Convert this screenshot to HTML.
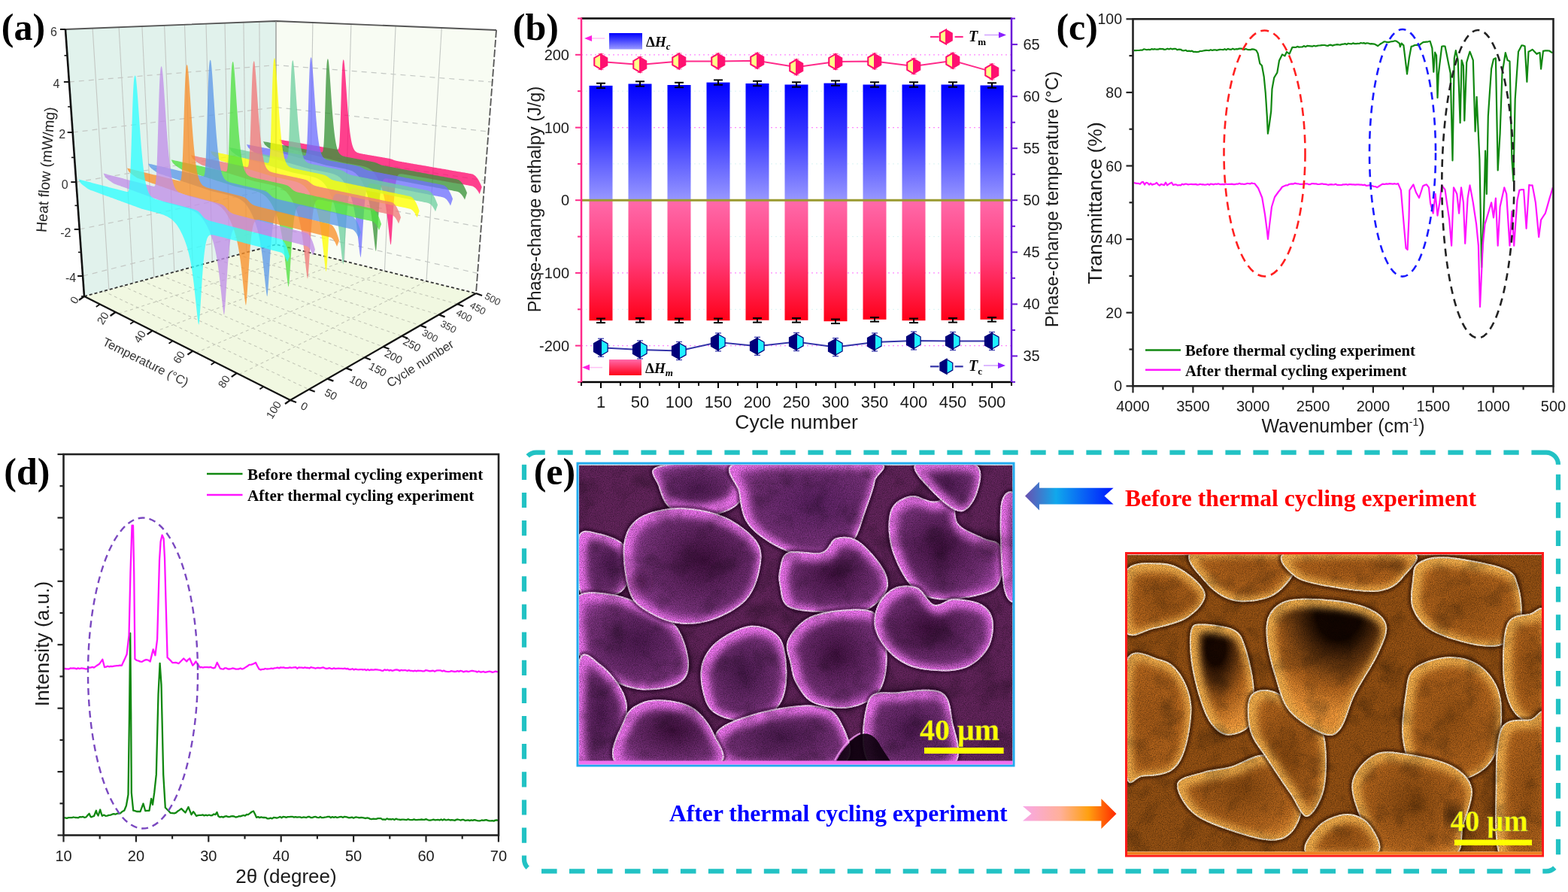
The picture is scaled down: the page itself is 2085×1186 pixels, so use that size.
<!DOCTYPE html>
<html><head><meta charset="utf-8"><title>Figure</title>
<style>
html,body{margin:0;padding:0;background:#fff;}
body{width:2085px;height:1186px;overflow:hidden;}
svg{display:block;}
.S{font-family:'Liberation Sans', Arial, sans-serif;}
.R{font-family:'Liberation Serif', 'Times New Roman', serif;}
</style></head>
<body>
<svg width="2085" height="1186" viewBox="0 0 2085 1186">
<defs>
<linearGradient id="gBlue" x1="0" y1="0" x2="0" y2="1">
<stop offset="0" stop-color="#0000ff"/><stop offset="0.45" stop-color="#3a3aff"/><stop offset="1" stop-color="#9898ff"/></linearGradient>
<linearGradient id="gRed" x1="0" y1="0" x2="0" y2="1">
<stop offset="0" stop-color="#ff6aaa"/><stop offset="0.5" stop-color="#ff3a78"/><stop offset="1" stop-color="#ff0018"/></linearGradient>
<linearGradient id="gBlueL" x1="0" y1="0" x2="0" y2="1">
<stop offset="0" stop-color="#0000ff"/><stop offset="1" stop-color="#9a9aff"/></linearGradient>
<linearGradient id="gRedL" x1="0" y1="0" x2="0" y2="1">
<stop offset="0" stop-color="#ff6aaa"/><stop offset="1" stop-color="#ff0018"/></linearGradient><filter id="blur5" x="-20%" y="-20%" width="140%" height="140%"><feGaussianBlur stdDeviation="5"/></filter>
<filter id="blur2" x="-20%" y="-20%" width="140%" height="140%"><feGaussianBlur stdDeviation="1.6"/></filter>
<filter id="blurE" x="-20%" y="-20%" width="140%" height="140%"><feGaussianBlur stdDeviation="0.7"/></filter>
<filter id="blur9" x="-30%" y="-30%" width="160%" height="160%"><feGaussianBlur stdDeviation="9"/></filter>
<filter id="mottleD" x="0" y="0" width="100%" height="100%"><feTurbulence type="fractalNoise" baseFrequency="0.03" numOctaves="3" seed="11"/><feColorMatrix type="matrix" values="0 0 0 0 0  0 0 0 0 0  0 0 0 0 0  2.2 0 0 0 -1.1"/></filter>
<filter id="mottleL" x="0" y="0" width="100%" height="100%"><feTurbulence type="fractalNoise" baseFrequency="0.03" numOctaves="3" seed="23"/><feColorMatrix type="matrix" values="0 0 0 0 1  0 0 0 0 1  0 0 0 0 1  -2.2 0 0 0 1.1"/></filter>
<filter id="grain" x="0" y="0" width="100%" height="100%"><feTurbulence type="fractalNoise" baseFrequency="0.9" numOctaves="2" seed="4" result="n"/><feColorMatrix in="n" type="matrix" values="0 0 0 0 0  0 0 0 0 0  0 0 0 0 0  0 0 0 -1.6 1.05"/></filter>
<linearGradient id="gArrL" x1="0" y1="0" x2="1" y2="0"><stop offset="0" stop-color="#6a50b0"/><stop offset="0.35" stop-color="#10a8ec"/><stop offset="1" stop-color="#0018ff"/></linearGradient>
<linearGradient id="gArrR" x1="0" y1="0" x2="1" y2="0"><stop offset="0" stop-color="#f8a8e8"/><stop offset="0.4" stop-color="#ffb09a"/><stop offset="0.7" stop-color="#ffa010"/><stop offset="1" stop-color="#ff2800"/></linearGradient><clipPath id="Pclip"><rect x="770" y="618.5" width="576.5" height="393.5"/></clipPath><clipPath id="Pb0"><path d="M875.4,620 C892.2,615.3 957.8,610.7 976.2,618.1 C994.5,625.6 990.5,653.6 985.5,664.8 C980.5,676 961.5,683.1 946.3,685.3 C931,687.5 905.8,684.4 894,677.9 C882.2,671.3 878.5,655.8 875.4,646.1 C872.2,636.5 858.6,624.7 875.4,620Z"/></clipPath><radialGradient id="Pg0" cx="0.5" cy="0.5" r="0.72"><stop offset="0" stop-color="#4e1a52"/><stop offset="0.0" stop-color="#4e1a52"/><stop offset="0.6" stop-color="#7c347f"/><stop offset="1" stop-color="#d85ce0"/></radialGradient><clipPath id="Pb1"><path d="M982.6,613.9 C1012.4,607 1131.6,609.5 1161.8,613.9 C1191.9,618.2 1165.5,628.8 1163.6,640 C1161.8,651.2 1155.2,668 1150.6,681.1 C1145.9,694.1 1142.5,709.7 1135.6,718.4 C1128.8,727.1 1119.4,729.6 1109.5,733.3 C1099.5,737.1 1089,742.1 1075.9,740.8 C1062.8,739.6 1044.8,733.3 1031.1,725.9 C1017.4,718.4 1001.8,707.8 993.8,696 C985.7,684.2 984.4,668.6 982.6,654.9 C980.7,641.3 952.7,620.7 982.6,613.9Z"/></clipPath><radialGradient id="Pg1" cx="0.55" cy="0.45" r="0.72"><stop offset="0" stop-color="#5e2266"/><stop offset="0.0" stop-color="#5e2266"/><stop offset="0.6" stop-color="#7c347f"/><stop offset="1" stop-color="#d85ce0"/></radialGradient><clipPath id="Pb2"><path d="M769.5,712.8 C773.9,701 785.7,707.2 795.7,709 C805.6,710.9 822.1,715.9 829.3,724 C836.4,732.1 839.2,747 838.6,757.6 C838,768.2 834.5,781.2 825.5,787.4 C816.5,793.7 793.8,796.1 784.5,794.9 C775.1,793.7 772,793.7 769.5,780 C767,766.3 765.2,724.6 769.5,712.8Z"/></clipPath><radialGradient id="Pg2" cx="0.6" cy="0.5" r="0.72"><stop offset="0" stop-color="#4e1a52"/><stop offset="0.0" stop-color="#4e1a52"/><stop offset="0.6" stop-color="#7c347f"/><stop offset="1" stop-color="#d85ce0"/></radialGradient><clipPath id="Pb3"><path d="M766.7,794 C774.8,783.4 799.1,787.8 815.3,790.3 C831.5,792.7 849.5,801.5 863.8,808.9 C878.1,816.4 892.4,822.6 901.1,835 C909.8,847.5 916.1,871.1 916.1,883.6 C916.1,896 911.7,904.1 901.1,909.7 C890.6,915.3 868.2,918.4 852.6,917.2 C837,915.9 820.9,909.1 807.8,902.2 C794.7,895.4 781.1,884.2 774.2,876.1 C767.4,868 768,867.4 766.7,853.7 C765.5,840 758.7,804.6 766.7,794Z"/></clipPath><radialGradient id="Pg3" cx="0.55" cy="0.5" r="0.72"><stop offset="0" stop-color="#4e1a52"/><stop offset="0.0" stop-color="#4e1a52"/><stop offset="0.6" stop-color="#7c347f"/><stop offset="1" stop-color="#d85ce0"/></radialGradient><clipPath id="Pb4"><path d="M769.4,880.1 C774.4,857.7 789.3,877 799.3,883.9 C809.2,890.7 823.6,908.8 829.2,921.2 C834.8,933.6 834.8,942.4 832.9,958.5 C831,974.7 828.5,1008.3 818,1018.3 C807.4,1028.2 777.5,1041.3 769.4,1018.3 C761.3,995.2 764.4,902.5 769.4,880.1Z"/></clipPath><radialGradient id="Pg4" cx="0.5" cy="0.5" r="0.72"><stop offset="0" stop-color="#4e1a52"/><stop offset="0.0" stop-color="#4e1a52"/><stop offset="0.6" stop-color="#7c347f"/><stop offset="1" stop-color="#d85ce0"/></radialGradient><clipPath id="Pb5"><path d="M933.9,880.3 C937.7,869.1 945.1,858.5 956.3,850.4 C967.5,842.3 987.4,831.7 1001.1,831.7 C1014.8,831.7 1031,838 1038.5,850.4 C1045.9,862.8 1047.2,890.8 1045.9,906.4 C1044.7,922 1040.3,935 1031,943.7 C1021.7,952.4 1003.6,958 989.9,958.7 C976.2,959.3 958.2,954.3 948.9,947.5 C939.5,940.6 936.4,928.8 933.9,917.6 C931.4,906.4 930.2,891.5 933.9,880.3Z"/></clipPath><radialGradient id="Pg5" cx="0.5" cy="0.5" r="0.72"><stop offset="0" stop-color="#4a1a4e"/><stop offset="0.0" stop-color="#4a1a4e"/><stop offset="0.6" stop-color="#7c347f"/><stop offset="1" stop-color="#d85ce0"/></radialGradient><clipPath id="Pb6"><path d="M974.4,1016 C946.4,1009.2 947,986.1 952,974.9 C957,963.7 983.1,955 1004.2,948.8 C1025.4,942.6 1060.2,936.4 1078.9,937.6 C1097.6,938.9 1109.4,943.2 1116.2,956.3 C1123.1,969.3 1143.6,1006.1 1120,1016 C1096.3,1026 1002.4,1022.9 974.4,1016Z"/></clipPath><radialGradient id="Pg6" cx="0.5" cy="0.5" r="0.72"><stop offset="0" stop-color="#4a1a4e"/><stop offset="0.0" stop-color="#4a1a4e"/><stop offset="0.6" stop-color="#7c347f"/><stop offset="1" stop-color="#d85ce0"/></radialGradient><clipPath id="Pb7"><path d="M822.4,1016.6 C801.8,1006.6 824.8,970.6 829.8,956.9 C834.8,943.2 842.9,938.8 852.2,934.5 C861.6,930.1 874,929.5 885.8,930.7 C897.6,932 912.6,934.5 923.2,941.9 C933.7,949.4 944.3,963.1 949.3,975.5 C954.3,988 974.2,1009.8 953,1016.6 C931.9,1023.4 842.9,1026.6 822.4,1016.6Z"/></clipPath><radialGradient id="Pg7" cx="0.55" cy="0.45" r="0.72"><stop offset="0" stop-color="#40103f"/><stop offset="0.0" stop-color="#40103f"/><stop offset="0.6" stop-color="#7c347f"/><stop offset="1" stop-color="#d85ce0"/></radialGradient><clipPath id="Pb8"><path d="M1036.8,756.5 C1038.6,749.1 1038.6,737.9 1048,734.2 C1057.3,730.4 1082.2,737.3 1092.8,734.2 C1103.3,731 1103.3,718 1111.4,715.5 C1119.5,713 1130.7,712.4 1141.3,719.2 C1151.9,726.1 1168.7,745.4 1174.9,756.5 C1181.1,767.7 1183,777.1 1178.6,786.4 C1174.3,795.7 1162.4,807.9 1148.7,812.5 C1135.1,817.2 1113.3,815.3 1096.5,814.4 C1079.7,813.5 1057.9,812.9 1048,806.9 C1038,801 1038.6,787.3 1036.8,778.9 C1034.9,770.5 1034.9,764 1036.8,756.5Z"/></clipPath><radialGradient id="Pg8" cx="0.5" cy="0.5" r="0.72"><stop offset="0" stop-color="#441244"/><stop offset="0.0" stop-color="#441244"/><stop offset="0.6" stop-color="#7c347f"/><stop offset="1" stop-color="#d85ce0"/></radialGradient><clipPath id="Pb9"><path d="M1047.1,852.2 C1050.8,842.2 1061.4,829.1 1073.2,822.3 C1085,815.4 1103.1,812.3 1118,811.1 C1132.9,809.8 1152.8,808 1162.8,814.8 C1172.8,821.7 1175.2,838.5 1177.7,852.2 C1180.2,865.8 1180.2,884.5 1177.7,897 C1175.2,909.4 1171.5,919.4 1162.8,926.8 C1154.1,934.3 1139.2,940.5 1125.5,941.7 C1111.8,943 1091.9,939.9 1080.7,934.3 C1069.5,928.7 1063.2,916.9 1058.3,908.2 C1053.3,899.4 1052.7,891.4 1050.8,882 C1048.9,872.7 1043.3,862.1 1047.1,852.2Z"/></clipPath><radialGradient id="Pg9" cx="0.5" cy="0.45" r="0.72"><stop offset="0" stop-color="#441244"/><stop offset="0.0" stop-color="#441244"/><stop offset="0.6" stop-color="#7c347f"/><stop offset="1" stop-color="#d85ce0"/></radialGradient><clipPath id="Pb10"><path d="M1154.5,931.3 C1160.8,915.1 1179.4,922 1195.6,920.1 C1211.8,918.2 1239.8,913.9 1251.6,920.1 C1263.4,926.3 1264,941.3 1266.5,957.4 C1269,973.6 1284.6,1007.2 1266.5,1017.2 C1248.5,1027.1 1176.9,1031.5 1158.3,1017.2 C1139.6,1002.9 1148.3,947.5 1154.5,931.3Z"/></clipPath><radialGradient id="Pg10" cx="0.5" cy="0.5" r="0.72"><stop offset="0" stop-color="#4e1a52"/><stop offset="0.0" stop-color="#4e1a52"/><stop offset="0.6" stop-color="#7c347f"/><stop offset="1" stop-color="#d85ce0"/></radialGradient><clipPath id="Pb11"><path d="M1184.7,677.8 C1189.1,666.6 1201.5,661 1210.9,659.2 C1220.2,657.3 1231.4,666 1240.7,666.6 C1250.1,667.3 1261.3,657.9 1266.9,662.9 C1272.5,667.9 1267.5,687.8 1274.3,696.5 C1281.2,705.2 1298.6,710.2 1307.9,715.2 C1317.3,720.1 1326.6,717 1330.3,726.4 C1334.1,735.7 1334.1,760.6 1330.3,771.2 C1326.6,781.7 1321.6,785.5 1307.9,789.8 C1294.2,794.2 1264.4,799.2 1248.2,797.3 C1232,795.4 1221.4,790.5 1210.9,778.6 C1200.3,766.8 1189.1,743.2 1184.7,726.4 C1180.4,709.6 1180.4,689 1184.7,677.8Z"/></clipPath><radialGradient id="Pg11" cx="0.45" cy="0.5" r="0.72"><stop offset="0" stop-color="#441244"/><stop offset="0.0" stop-color="#441244"/><stop offset="0.6" stop-color="#7c347f"/><stop offset="1" stop-color="#d85ce0"/></radialGradient><clipPath id="Pb12"><path d="M1217.7,616.9 C1227,610.6 1282.4,610.6 1296.1,616.9 C1309.8,623.1 1302.9,643.6 1299.8,654.2 C1296.7,664.8 1287.4,680.3 1277.4,680.3 C1267.5,680.3 1250,664.8 1240.1,654.2 C1230.1,643.6 1208.3,623.1 1217.7,616.9Z"/></clipPath><radialGradient id="Pg12" cx="0.5" cy="0.5" r="0.72"><stop offset="0" stop-color="#4e1a52"/><stop offset="0.0" stop-color="#4e1a52"/><stop offset="0.6" stop-color="#7c347f"/><stop offset="1" stop-color="#d85ce0"/></radialGradient><clipPath id="Pb13"><path d="M1331,670 C1334.1,650.7 1349.7,646.4 1353.4,666.3 C1357.1,686.2 1356.5,770.2 1353.4,789.5 C1350.3,808.8 1338.5,801.9 1334.7,782 C1331,762.1 1327.9,689.3 1331,670Z"/></clipPath><radialGradient id="Pg13" cx="0.5" cy="0.5" r="0.72"><stop offset="0" stop-color="#4e1a52"/><stop offset="0.0" stop-color="#4e1a52"/><stop offset="0.6" stop-color="#7c347f"/><stop offset="1" stop-color="#d85ce0"/></radialGradient><clipPath id="Pb14"><path d="M1167.5,803.7 C1171.9,794.4 1181.2,785 1189.9,781.3 C1198.6,777.6 1211.1,777.6 1219.8,781.3 C1228.5,785 1234.1,801.2 1242.2,803.7 C1250.3,806.2 1257.7,796.2 1268.3,796.2 C1278.9,796.2 1296.9,798.7 1305.6,803.7 C1314.3,808.7 1319.3,816.1 1320.6,826.1 C1321.8,836.1 1319.9,852.9 1313.1,863.4 C1306.3,874 1294.4,885.2 1279.5,889.6 C1264.6,893.9 1239.1,892.7 1223.5,889.6 C1208,886.5 1196.1,879.6 1186.2,870.9 C1176.2,862.2 1166.9,848.5 1163.8,837.3 C1160.7,826.1 1163.2,813 1167.5,803.7Z"/></clipPath><radialGradient id="Pg14" cx="0.45" cy="0.5" r="0.72"><stop offset="0" stop-color="#40103f"/><stop offset="0.0" stop-color="#40103f"/><stop offset="0.6" stop-color="#7c347f"/><stop offset="1" stop-color="#d85ce0"/></radialGradient><clipPath id="Pb15"><path d="M829.3,723.8 C831.5,707.3 837.7,696.4 849.8,688.3 C862,680.2 883.4,675.5 902.1,675.2 C920.7,674.9 944.4,679 961.8,686.4 C979.2,693.9 998.5,708.2 1006.6,720 C1014.7,731.9 1012.8,744.3 1010.3,757.4 C1007.9,770.4 1002.3,787.2 991.7,798.4 C981.1,809.6 961.8,819.5 946.9,824.6 C931.9,829.7 916.4,830.9 902.1,829 C887.8,827.2 871.9,820.3 861,813.4 C850.1,806.4 842,802.2 836.8,787.2 C831.5,772.3 827.1,740.3 829.3,723.8Z"/></clipPath><radialGradient id="Pg15" cx="0.58" cy="0.45" r="0.72"><stop offset="0" stop-color="#40103f"/><stop offset="0.0" stop-color="#40103f"/><stop offset="0.6" stop-color="#7c347f"/><stop offset="1" stop-color="#d85ce0"/></radialGradient><clipPath id="Oclip"><rect x="1499" y="737.5" width="551.5" height="395"/></clipPath><clipPath id="Ob0"><path d="M1587.6,732.4 C1607.8,725.5 1702.3,727.4 1724.4,732.4 C1746.6,737.5 1726.3,752.7 1720.6,762.9 C1714.9,773 1703.5,787.2 1690.2,793.3 C1676.9,799.3 1655.4,802.1 1640.8,799 C1626.2,795.8 1611.6,785.3 1602.8,774.3 C1593.9,763.2 1567.3,739.4 1587.6,732.4Z"/></clipPath><radialGradient id="Og0" cx="0.5" cy="0.4" r="0.72"><stop offset="0" stop-color="#a85c18"/><stop offset="0.0" stop-color="#a85c18"/><stop offset="0.6" stop-color="#bc6a1e"/><stop offset="1" stop-color="#f89c3a"/></radialGradient><clipPath id="Ob1"><path d="M1714.5,732.9 C1739.8,727.2 1848.8,727.2 1874.2,732.9 C1899.5,738.6 1872.9,758.2 1866.6,767.1 C1860.2,776 1850.7,783.6 1836.1,786.1 C1821.6,788.6 1798.1,785.5 1779.1,782.3 C1760.1,779.1 1732.9,775.3 1722.1,767.1 C1711.3,758.8 1689.1,738.6 1714.5,732.9Z"/></clipPath><radialGradient id="Og1" cx="0.5" cy="0.4" r="0.72"><stop offset="0" stop-color="#a85c18"/><stop offset="0.0" stop-color="#a85c18"/><stop offset="0.6" stop-color="#bc6a1e"/><stop offset="1" stop-color="#f89c3a"/></radialGradient><clipPath id="Ob2"><path d="M1496.3,760 C1503.9,744.8 1528.6,748.6 1541.9,748.6 C1555.3,748.6 1566,753.1 1576.2,760 C1586.3,767 1602.2,780.3 1602.8,790.5 C1603.4,800.6 1591.4,813.3 1580,820.9 C1568.6,828.5 1548.3,832.9 1534.3,836.1 C1520.4,839.3 1502.7,852.6 1496.3,839.9 C1490,827.2 1488.7,775.3 1496.3,760Z"/></clipPath><radialGradient id="Og2" cx="0.5" cy="0.5" r="0.72"><stop offset="0" stop-color="#9a5414"/><stop offset="0.0" stop-color="#9a5414"/><stop offset="0.6" stop-color="#bc6a1e"/><stop offset="1" stop-color="#f89c3a"/></radialGradient><clipPath id="Ob3"><path d="M1583.7,837 C1586.3,828.8 1589.4,829.4 1598.9,829.4 C1608.4,829.4 1631.3,831.9 1640.8,837 C1650.3,842.1 1651.5,847.2 1656,859.8 C1660.4,872.5 1666.1,895.9 1667.4,913.1 C1668.7,930.2 1669.3,951.7 1663.6,962.5 C1657.9,973.3 1642,977.7 1633.2,977.7 C1624.3,977.7 1616.7,970.7 1610.3,962.5 C1604,954.2 1599.6,942.2 1595.1,928.3 C1590.7,914.3 1585.6,894 1583.7,878.8 C1581.8,863.6 1581.2,845.3 1583.7,837Z"/></clipPath><radialGradient id="Og3" cx="0.4" cy="0.22" r="0.72"><stop offset="0" stop-color="#1a0800"/><stop offset="0.2" stop-color="#1a0800"/><stop offset="0.7" stop-color="#bc6a1e"/><stop offset="1" stop-color="#f89c3a"/></radialGradient><clipPath id="Ob4"><path d="M1885.8,748.2 C1893.4,743.1 1904.9,739.3 1923.9,740.6 C1942.9,741.9 1984.1,749.5 1999.9,755.8 C2015.8,762.2 2015.1,767.2 2018.9,778.6 C2022.7,790 2025.3,811.6 2022.7,824.3 C2020.2,836.9 2013.2,849 2003.7,854.7 C1994.2,860.4 1982.2,861 1965.7,858.5 C1949.2,855.9 1919.4,847.7 1904.9,839.5 C1890.3,831.2 1882.7,820.5 1878.2,809 C1873.8,797.6 1877,781.2 1878.2,771 C1879.5,760.9 1878.2,753.3 1885.8,748.2Z"/></clipPath><radialGradient id="Og4" cx="0.5" cy="0.5" r="0.72"><stop offset="0" stop-color="#9a5414"/><stop offset="0.0" stop-color="#9a5414"/><stop offset="0.6" stop-color="#bc6a1e"/><stop offset="1" stop-color="#f89c3a"/></radialGradient><clipPath id="Ob5"><path d="M1496.7,880.4 C1504.3,855.1 1530.3,874.1 1542.3,876.6 C1554.4,879.2 1562,885.5 1569,895.6 C1575.9,905.8 1582.9,921 1584.2,937.5 C1585.4,953.9 1581,979.9 1576.6,994.5 C1572.1,1009.1 1567.1,1018.6 1557.6,1024.9 C1548.1,1031.2 1529.7,1031.9 1519.5,1032.5 C1509.4,1033.1 1500.5,1054.1 1496.7,1028.7 C1492.9,1003.4 1489.1,905.8 1496.7,880.4Z"/></clipPath><radialGradient id="Og5" cx="0.4" cy="0.5" r="0.72"><stop offset="0" stop-color="#a85c18"/><stop offset="0.0" stop-color="#a85c18"/><stop offset="0.6" stop-color="#bc6a1e"/><stop offset="1" stop-color="#f89c3a"/></radialGradient><clipPath id="Ob6"><path d="M1880.2,888.4 C1889.7,880.2 1911.3,873.8 1925.8,873.2 C1940.4,872.6 1956.3,876.4 1967.7,884.6 C1979.1,892.8 1989.8,906.2 1994.3,922.6 C1998.7,939.1 1997.4,967 1994.3,983.5 C1991.1,999.9 1986,1012 1975.3,1021.5 C1964.5,1031 1944.8,1039.2 1929.6,1040.5 C1914.4,1041.8 1894.8,1038.6 1884,1029.1 C1873.2,1019.6 1867.5,1001.2 1865,983.5 C1862.5,965.7 1866.3,938.5 1868.8,922.6 C1871.3,906.8 1870.7,896.7 1880.2,888.4Z"/></clipPath><radialGradient id="Og6" cx="0.5" cy="0.5" r="0.72"><stop offset="0" stop-color="#9a5414"/><stop offset="0.0" stop-color="#9a5414"/><stop offset="0.6" stop-color="#bc6a1e"/><stop offset="1" stop-color="#f89c3a"/></radialGradient><clipPath id="Ob7"><path d="M1797.7,1040.9 C1800.2,1025 1815.4,1009.2 1828.1,1002.8 C1840.8,996.5 1856.6,1000.3 1873.7,1002.8 C1890.8,1005.4 1916.8,1010.4 1930.8,1018.1 C1944.7,1025.7 1954.8,1035.2 1957.4,1048.5 C1959.9,1061.8 1950.4,1082.7 1946,1097.9 C1941.5,1113.1 1949.1,1132.8 1930.8,1139.7 C1912.4,1146.7 1855.4,1146.7 1835.7,1139.7 C1816.1,1132.8 1819.2,1114.4 1812.9,1097.9 C1806.6,1081.4 1795.1,1056.7 1797.7,1040.9Z"/></clipPath><radialGradient id="Og7" cx="0.5" cy="0.45" r="0.72"><stop offset="0" stop-color="#8a4a10"/><stop offset="0.0" stop-color="#8a4a10"/><stop offset="0.6" stop-color="#bc6a1e"/><stop offset="1" stop-color="#f89c3a"/></radialGradient><clipPath id="Ob8"><path d="M1565.3,1041.6 C1567.8,1032.8 1587.5,1030.2 1599.5,1026.4 C1611.6,1022.6 1624.2,1022.6 1637.6,1018.8 C1650.9,1015 1666.7,1003 1679.4,1003.6 C1692.1,1004.3 1704.7,1013.1 1713.6,1022.6 C1722.5,1032.1 1731.3,1047.3 1732.6,1060.7 C1733.9,1074 1728.2,1093 1721.2,1102.5 C1714.2,1112 1706,1117.7 1690.8,1117.7 C1675.6,1117.7 1647.7,1108.8 1629.9,1102.5 C1612.2,1096.1 1595.1,1089.8 1584.3,1079.7 C1573.5,1069.5 1562.8,1050.5 1565.3,1041.6Z"/></clipPath><radialGradient id="Og8" cx="0.5" cy="0.4" r="0.72"><stop offset="0" stop-color="#8a4a10"/><stop offset="0.0" stop-color="#8a4a10"/><stop offset="0.6" stop-color="#bc6a1e"/><stop offset="1" stop-color="#f89c3a"/></radialGradient><clipPath id="Ob9"><path d="M2003.3,831.3 C2009,816.1 2024.9,818 2033.8,816.1 C2042.6,814.2 2052.8,797 2056.6,819.9 C2060.4,842.7 2062.9,930.8 2056.6,952.9 C2050.2,975.1 2028,960.5 2018.5,952.9 C2009,945.3 2002.1,927.6 1999.5,907.3 C1997,887 1997.6,846.5 2003.3,831.3Z"/></clipPath><radialGradient id="Og9" cx="0.6" cy="0.5" r="0.72"><stop offset="0" stop-color="#9a5414"/><stop offset="0.0" stop-color="#9a5414"/><stop offset="0.6" stop-color="#bc6a1e"/><stop offset="1" stop-color="#f89c3a"/></radialGradient><clipPath id="Ob10"><path d="M1996.4,967.8 C2004,953.2 2024.2,957.7 2034.4,956.4 C2044.5,955.1 2053.4,929.1 2057.2,960.2 C2061,991.2 2067.3,1112.3 2057.2,1142.7 C2047.1,1173.1 2007.8,1159.2 1996.4,1142.7 C1985,1126.2 1988.8,1073 1988.8,1043.8 C1988.8,1014.7 1988.8,982.4 1996.4,967.8Z"/></clipPath><radialGradient id="Og10" cx="0.6" cy="0.5" r="0.72"><stop offset="0" stop-color="#9a5414"/><stop offset="0.0" stop-color="#9a5414"/><stop offset="0.6" stop-color="#bc6a1e"/><stop offset="1" stop-color="#f89c3a"/></radialGradient><clipPath id="Ob11"><path d="M1738.5,1135.3 C1725.8,1129 1744.8,1106.2 1753.7,1097.3 C1762.5,1088.4 1780.3,1082.1 1791.7,1082.1 C1803.1,1082.1 1815.8,1088.4 1822.1,1097.3 C1828.4,1106.2 1843.6,1129 1829.7,1135.3 C1815.8,1141.7 1751.1,1141.7 1738.5,1135.3Z"/></clipPath><radialGradient id="Og11" cx="0.5" cy="0.5" r="0.72"><stop offset="0" stop-color="#9a5414"/><stop offset="0.0" stop-color="#9a5414"/><stop offset="0.6" stop-color="#bc6a1e"/><stop offset="1" stop-color="#f89c3a"/></radialGradient><clipPath id="Ob12"><path d="M1662.2,926.3 C1667.3,917.5 1680,914.9 1692.6,918.7 C1705.3,922.5 1726.9,939 1738.3,949.2 C1749.7,959.3 1757.3,963.1 1761.1,979.6 C1764.9,996 1764.9,1030.3 1761.1,1048 C1757.3,1065.8 1745.9,1084.8 1738.3,1086 C1730.7,1087.3 1724.3,1068.3 1715.5,1055.6 C1706.6,1042.9 1693.9,1023.9 1685,1010 C1676.2,996 1666,985.9 1662.2,972 C1658.4,958 1657.2,935.2 1662.2,926.3Z"/></clipPath><radialGradient id="Og12" cx="0.5" cy="0.5" r="0.72"><stop offset="0" stop-color="#8a4a10"/><stop offset="0.0" stop-color="#8a4a10"/><stop offset="0.6" stop-color="#bc6a1e"/><stop offset="1" stop-color="#f89c3a"/></radialGradient><clipPath id="Ob13"><path d="M1688,816.7 C1693.1,807.8 1700.7,800.8 1714.6,797.6 C1728.6,794.5 1753.9,795.7 1771.7,797.6 C1789.4,799.5 1809,803.4 1821.1,809.1 C1833.1,814.8 1842,821.7 1843.9,831.9 C1845.8,842 1839.5,854.7 1832.5,869.9 C1825.5,885.1 1810.3,906.6 1802.1,923.1 C1793.8,939.6 1790,959.9 1783.1,968.7 C1776.1,977.6 1771.7,980.2 1760.2,976.4 C1748.8,972.6 1725.4,958.6 1714.6,945.9 C1703.8,933.3 1700.7,916.2 1695.6,900.3 C1690.5,884.5 1685.5,864.8 1684.2,850.9 C1682.9,836.9 1682.9,825.5 1688,816.7Z"/></clipPath><radialGradient id="Og13" cx="0.6" cy="0.12" r="0.72"><stop offset="0" stop-color="#140600"/><stop offset="0.25" stop-color="#140600"/><stop offset="0.75" stop-color="#bc6a1e"/><stop offset="1" stop-color="#f89c3a"/></radialGradient>
</defs>
<rect width="2085" height="1186" fill="#fff"/>
<line x1="773" y1="72.8" x2="1345" y2="72.8" stroke="#ff88ff" stroke-width="1.3" stroke-dasharray="2,4"/>
<line x1="773" y1="169.6" x2="1345" y2="169.6" stroke="#ff88ff" stroke-width="1.3" stroke-dasharray="2,4"/>
<line x1="773" y1="362.9" x2="1345" y2="362.9" stroke="#ff88ff" stroke-width="1.3" stroke-dasharray="2,4"/>
<line x1="773" y1="459.6" x2="1345" y2="459.6" stroke="#ff88ff" stroke-width="1.3" stroke-dasharray="2,4"/>
<line x1="773" y1="121.2" x2="1345" y2="121.2" stroke="#d8f4f4" stroke-width="1" stroke-dasharray="2,4"/>
<line x1="773" y1="217.9" x2="1345" y2="217.9" stroke="#d8f4f4" stroke-width="1" stroke-dasharray="2,4"/>
<line x1="773" y1="314.6" x2="1345" y2="314.6" stroke="#d8f4f4" stroke-width="1" stroke-dasharray="2,4"/>
<line x1="773" y1="411.3" x2="1345" y2="411.3" stroke="#d8f4f4" stroke-width="1" stroke-dasharray="2,4"/>
<rect x="783.5" y="113.9" width="31" height="152.3" fill="url(#gBlue)"/>
<rect x="783.5" y="266.2" width="31" height="160" fill="url(#gRed)"/>
<line x1="799" y1="110.7" x2="799" y2="117.1" stroke="#000" stroke-width="2"/>
<line x1="793" y1="110.7" x2="805" y2="110.7" stroke="#000" stroke-width="2"/>
<line x1="793" y1="117.1" x2="805" y2="117.1" stroke="#000" stroke-width="2"/>
<line x1="799" y1="423.5" x2="799" y2="429.1" stroke="#000" stroke-width="2"/>
<line x1="793" y1="423.5" x2="805" y2="423.5" stroke="#000" stroke-width="2"/>
<line x1="793" y1="429.1" x2="805" y2="429.1" stroke="#000" stroke-width="2"/>
<rect x="835.5" y="111.5" width="31" height="154.7" fill="url(#gBlue)"/>
<rect x="835.5" y="266.2" width="31" height="159.6" fill="url(#gRed)"/>
<line x1="851" y1="108.3" x2="851" y2="114.7" stroke="#000" stroke-width="2"/>
<line x1="845" y1="108.3" x2="857" y2="108.3" stroke="#000" stroke-width="2"/>
<line x1="845" y1="114.7" x2="857" y2="114.7" stroke="#000" stroke-width="2"/>
<line x1="851" y1="423" x2="851" y2="428.6" stroke="#000" stroke-width="2"/>
<line x1="845" y1="423" x2="857" y2="423" stroke="#000" stroke-width="2"/>
<line x1="845" y1="428.6" x2="857" y2="428.6" stroke="#000" stroke-width="2"/>
<rect x="887.5" y="113" width="31" height="153.3" fill="url(#gBlue)"/>
<rect x="887.5" y="266.2" width="31" height="160" fill="url(#gRed)"/>
<line x1="903" y1="109.8" x2="903" y2="116.2" stroke="#000" stroke-width="2"/>
<line x1="897" y1="109.8" x2="909" y2="109.8" stroke="#000" stroke-width="2"/>
<line x1="897" y1="116.2" x2="909" y2="116.2" stroke="#000" stroke-width="2"/>
<line x1="903" y1="423.5" x2="903" y2="429.1" stroke="#000" stroke-width="2"/>
<line x1="897" y1="423.5" x2="909" y2="423.5" stroke="#000" stroke-width="2"/>
<line x1="897" y1="429.1" x2="909" y2="429.1" stroke="#000" stroke-width="2"/>
<rect x="939.5" y="109.6" width="31" height="156.7" fill="url(#gBlue)"/>
<rect x="939.5" y="266.2" width="31" height="160" fill="url(#gRed)"/>
<line x1="955" y1="106.4" x2="955" y2="112.8" stroke="#000" stroke-width="2"/>
<line x1="949" y1="106.4" x2="961" y2="106.4" stroke="#000" stroke-width="2"/>
<line x1="949" y1="112.8" x2="961" y2="112.8" stroke="#000" stroke-width="2"/>
<line x1="955" y1="423.5" x2="955" y2="429.1" stroke="#000" stroke-width="2"/>
<line x1="949" y1="423.5" x2="961" y2="423.5" stroke="#000" stroke-width="2"/>
<line x1="949" y1="429.1" x2="961" y2="429.1" stroke="#000" stroke-width="2"/>
<rect x="991.5" y="111" width="31" height="155.2" fill="url(#gBlue)"/>
<rect x="991.5" y="266.2" width="31" height="159.6" fill="url(#gRed)"/>
<line x1="1007" y1="107.8" x2="1007" y2="114.2" stroke="#000" stroke-width="2"/>
<line x1="1001" y1="107.8" x2="1013" y2="107.8" stroke="#000" stroke-width="2"/>
<line x1="1001" y1="114.2" x2="1013" y2="114.2" stroke="#000" stroke-width="2"/>
<line x1="1007" y1="423" x2="1007" y2="428.6" stroke="#000" stroke-width="2"/>
<line x1="1001" y1="423" x2="1013" y2="423" stroke="#000" stroke-width="2"/>
<line x1="1001" y1="428.6" x2="1013" y2="428.6" stroke="#000" stroke-width="2"/>
<rect x="1043.5" y="112.5" width="31" height="153.8" fill="url(#gBlue)"/>
<rect x="1043.5" y="266.2" width="31" height="159.6" fill="url(#gRed)"/>
<line x1="1059" y1="109.3" x2="1059" y2="115.7" stroke="#000" stroke-width="2"/>
<line x1="1053" y1="109.3" x2="1065" y2="109.3" stroke="#000" stroke-width="2"/>
<line x1="1053" y1="115.7" x2="1065" y2="115.7" stroke="#000" stroke-width="2"/>
<line x1="1059" y1="423" x2="1059" y2="428.6" stroke="#000" stroke-width="2"/>
<line x1="1053" y1="423" x2="1065" y2="423" stroke="#000" stroke-width="2"/>
<line x1="1053" y1="428.6" x2="1065" y2="428.6" stroke="#000" stroke-width="2"/>
<rect x="1095.5" y="110.6" width="31" height="155.7" fill="url(#gBlue)"/>
<rect x="1095.5" y="266.2" width="31" height="161" fill="url(#gRed)"/>
<line x1="1111" y1="107.4" x2="1111" y2="113.8" stroke="#000" stroke-width="2"/>
<line x1="1105" y1="107.4" x2="1117" y2="107.4" stroke="#000" stroke-width="2"/>
<line x1="1105" y1="113.8" x2="1117" y2="113.8" stroke="#000" stroke-width="2"/>
<line x1="1111" y1="424.5" x2="1111" y2="430.1" stroke="#000" stroke-width="2"/>
<line x1="1105" y1="424.5" x2="1117" y2="424.5" stroke="#000" stroke-width="2"/>
<line x1="1105" y1="430.1" x2="1117" y2="430.1" stroke="#000" stroke-width="2"/>
<rect x="1147.5" y="112.5" width="31" height="153.8" fill="url(#gBlue)"/>
<rect x="1147.5" y="266.2" width="31" height="158.6" fill="url(#gRed)"/>
<line x1="1163" y1="109.3" x2="1163" y2="115.7" stroke="#000" stroke-width="2"/>
<line x1="1157" y1="109.3" x2="1169" y2="109.3" stroke="#000" stroke-width="2"/>
<line x1="1157" y1="115.7" x2="1169" y2="115.7" stroke="#000" stroke-width="2"/>
<line x1="1163" y1="422" x2="1163" y2="427.6" stroke="#000" stroke-width="2"/>
<line x1="1157" y1="422" x2="1169" y2="422" stroke="#000" stroke-width="2"/>
<line x1="1157" y1="427.6" x2="1169" y2="427.6" stroke="#000" stroke-width="2"/>
<rect x="1199.5" y="112.5" width="31" height="153.8" fill="url(#gBlue)"/>
<rect x="1199.5" y="266.2" width="31" height="160" fill="url(#gRed)"/>
<line x1="1215" y1="109.3" x2="1215" y2="115.7" stroke="#000" stroke-width="2"/>
<line x1="1209" y1="109.3" x2="1221" y2="109.3" stroke="#000" stroke-width="2"/>
<line x1="1209" y1="115.7" x2="1221" y2="115.7" stroke="#000" stroke-width="2"/>
<line x1="1215" y1="423.5" x2="1215" y2="429.1" stroke="#000" stroke-width="2"/>
<line x1="1209" y1="423.5" x2="1221" y2="423.5" stroke="#000" stroke-width="2"/>
<line x1="1209" y1="429.1" x2="1221" y2="429.1" stroke="#000" stroke-width="2"/>
<rect x="1251.5" y="112.5" width="31" height="153.8" fill="url(#gBlue)"/>
<rect x="1251.5" y="266.2" width="31" height="159.6" fill="url(#gRed)"/>
<line x1="1267" y1="109.3" x2="1267" y2="115.7" stroke="#000" stroke-width="2"/>
<line x1="1261" y1="109.3" x2="1273" y2="109.3" stroke="#000" stroke-width="2"/>
<line x1="1261" y1="115.7" x2="1273" y2="115.7" stroke="#000" stroke-width="2"/>
<line x1="1267" y1="423" x2="1267" y2="428.6" stroke="#000" stroke-width="2"/>
<line x1="1261" y1="423" x2="1273" y2="423" stroke="#000" stroke-width="2"/>
<line x1="1261" y1="428.6" x2="1273" y2="428.6" stroke="#000" stroke-width="2"/>
<rect x="1303.5" y="113.5" width="31" height="152.8" fill="url(#gBlue)"/>
<rect x="1303.5" y="266.2" width="31" height="158.6" fill="url(#gRed)"/>
<line x1="1319" y1="110.3" x2="1319" y2="116.7" stroke="#000" stroke-width="2"/>
<line x1="1313" y1="110.3" x2="1325" y2="110.3" stroke="#000" stroke-width="2"/>
<line x1="1313" y1="116.7" x2="1325" y2="116.7" stroke="#000" stroke-width="2"/>
<line x1="1319" y1="422" x2="1319" y2="427.6" stroke="#000" stroke-width="2"/>
<line x1="1313" y1="422" x2="1325" y2="422" stroke="#000" stroke-width="2"/>
<line x1="1313" y1="427.6" x2="1325" y2="427.6" stroke="#000" stroke-width="2"/>
<line x1="773" y1="266.2" x2="1345" y2="266.2" stroke="#9a9a30" stroke-width="3"/>
<line x1="773" y1="24.5" x2="1345" y2="24.5" stroke="#000" stroke-width="2.5"/>
<line x1="773" y1="508" x2="1345" y2="508" stroke="#000" stroke-width="2.5"/>
<line x1="773" y1="23.5" x2="773" y2="509" stroke="#ff2a8a" stroke-width="2.5"/>
<line x1="1345" y1="23.5" x2="1345" y2="509" stroke="#6a18d8" stroke-width="2.5"/>
<line x1="768" y1="508" x2="773" y2="508" stroke="#ff2a8a" stroke-width="2"/>
<line x1="765" y1="459.6" x2="773" y2="459.6" stroke="#ff2a8a" stroke-width="2"/>
<line x1="768" y1="411.3" x2="773" y2="411.3" stroke="#ff2a8a" stroke-width="2"/>
<line x1="765" y1="362.9" x2="773" y2="362.9" stroke="#ff2a8a" stroke-width="2"/>
<line x1="768" y1="314.6" x2="773" y2="314.6" stroke="#ff2a8a" stroke-width="2"/>
<line x1="765" y1="266.2" x2="773" y2="266.2" stroke="#ff2a8a" stroke-width="2"/>
<line x1="768" y1="217.9" x2="773" y2="217.9" stroke="#ff2a8a" stroke-width="2"/>
<line x1="765" y1="169.6" x2="773" y2="169.6" stroke="#ff2a8a" stroke-width="2"/>
<line x1="768" y1="121.2" x2="773" y2="121.2" stroke="#ff2a8a" stroke-width="2"/>
<line x1="765" y1="72.8" x2="773" y2="72.8" stroke="#ff2a8a" stroke-width="2"/>
<line x1="768" y1="24.5" x2="773" y2="24.5" stroke="#ff2a8a" stroke-width="2"/>
<text class="S" x="757" y="79.8" font-size="20" text-anchor="end" fill="#1a1a1a">200</text>
<text class="S" x="757" y="176.6" font-size="20" text-anchor="end" fill="#1a1a1a">100</text>
<text class="S" x="757" y="273.2" font-size="20" text-anchor="end" fill="#1a1a1a">0</text>
<text class="S" x="757" y="369.9" font-size="20" text-anchor="end" fill="#1a1a1a">-100</text>
<text class="S" x="757" y="466.6" font-size="20" text-anchor="end" fill="#1a1a1a">-200</text>
<line x1="1345" y1="507.9" x2="1350" y2="507.9" stroke="#6a18d8" stroke-width="2"/>
<line x1="1345" y1="473.4" x2="1353" y2="473.4" stroke="#6a18d8" stroke-width="2"/>
<line x1="1345" y1="438.9" x2="1350" y2="438.9" stroke="#6a18d8" stroke-width="2"/>
<line x1="1345" y1="404.4" x2="1353" y2="404.4" stroke="#6a18d8" stroke-width="2"/>
<line x1="1345" y1="369.8" x2="1350" y2="369.8" stroke="#6a18d8" stroke-width="2"/>
<line x1="1345" y1="335.3" x2="1353" y2="335.3" stroke="#6a18d8" stroke-width="2"/>
<line x1="1345" y1="300.8" x2="1350" y2="300.8" stroke="#6a18d8" stroke-width="2"/>
<line x1="1345" y1="266.2" x2="1353" y2="266.2" stroke="#6a18d8" stroke-width="2"/>
<line x1="1345" y1="231.7" x2="1350" y2="231.7" stroke="#6a18d8" stroke-width="2"/>
<line x1="1345" y1="197.2" x2="1353" y2="197.2" stroke="#6a18d8" stroke-width="2"/>
<line x1="1345" y1="162.7" x2="1350" y2="162.7" stroke="#6a18d8" stroke-width="2"/>
<line x1="1345" y1="128.2" x2="1353" y2="128.2" stroke="#6a18d8" stroke-width="2"/>
<line x1="1345" y1="93.6" x2="1350" y2="93.6" stroke="#6a18d8" stroke-width="2"/>
<line x1="1345" y1="59.1" x2="1353" y2="59.1" stroke="#6a18d8" stroke-width="2"/>
<line x1="1345" y1="24.6" x2="1350" y2="24.6" stroke="#6a18d8" stroke-width="2"/>
<text class="S" x="1360.5" y="66.1" font-size="20" fill="#1a1a1a">65</text>
<text class="S" x="1360.5" y="135.2" font-size="20" fill="#1a1a1a">60</text>
<text class="S" x="1360.5" y="204.2" font-size="20" fill="#1a1a1a">55</text>
<text class="S" x="1360.5" y="273.2" font-size="20" fill="#1a1a1a">50</text>
<text class="S" x="1360.5" y="342.3" font-size="20" fill="#1a1a1a">45</text>
<text class="S" x="1360.5" y="411.4" font-size="20" fill="#1a1a1a">40</text>
<text class="S" x="1360.5" y="480.4" font-size="20" fill="#1a1a1a">35</text>
<line x1="799" y1="508" x2="799" y2="516" stroke="#000" stroke-width="2"/>
<text class="S" x="799" y="541.5" font-size="22" text-anchor="middle" fill="#1a1a1a">1</text>
<line x1="851" y1="508" x2="851" y2="516" stroke="#000" stroke-width="2"/>
<text class="S" x="851" y="541.5" font-size="22" text-anchor="middle" fill="#1a1a1a">50</text>
<line x1="903" y1="508" x2="903" y2="516" stroke="#000" stroke-width="2"/>
<text class="S" x="903" y="541.5" font-size="22" text-anchor="middle" fill="#1a1a1a">100</text>
<line x1="955" y1="508" x2="955" y2="516" stroke="#000" stroke-width="2"/>
<text class="S" x="955" y="541.5" font-size="22" text-anchor="middle" fill="#1a1a1a">150</text>
<line x1="1007" y1="508" x2="1007" y2="516" stroke="#000" stroke-width="2"/>
<text class="S" x="1007" y="541.5" font-size="22" text-anchor="middle" fill="#1a1a1a">200</text>
<line x1="1059" y1="508" x2="1059" y2="516" stroke="#000" stroke-width="2"/>
<text class="S" x="1059" y="541.5" font-size="22" text-anchor="middle" fill="#1a1a1a">250</text>
<line x1="1111" y1="508" x2="1111" y2="516" stroke="#000" stroke-width="2"/>
<text class="S" x="1111" y="541.5" font-size="22" text-anchor="middle" fill="#1a1a1a">300</text>
<line x1="1163" y1="508" x2="1163" y2="516" stroke="#000" stroke-width="2"/>
<text class="S" x="1163" y="541.5" font-size="22" text-anchor="middle" fill="#1a1a1a">350</text>
<line x1="1215" y1="508" x2="1215" y2="516" stroke="#000" stroke-width="2"/>
<text class="S" x="1215" y="541.5" font-size="22" text-anchor="middle" fill="#1a1a1a">400</text>
<line x1="1267" y1="508" x2="1267" y2="516" stroke="#000" stroke-width="2"/>
<text class="S" x="1267" y="541.5" font-size="22" text-anchor="middle" fill="#1a1a1a">450</text>
<line x1="1319" y1="508" x2="1319" y2="516" stroke="#000" stroke-width="2"/>
<text class="S" x="1319" y="541.5" font-size="22" text-anchor="middle" fill="#1a1a1a">500</text>
<line x1="773" y1="508" x2="773" y2="513" stroke="#000" stroke-width="2"/>
<line x1="825" y1="508" x2="825" y2="513" stroke="#000" stroke-width="2"/>
<line x1="877" y1="508" x2="877" y2="513" stroke="#000" stroke-width="2"/>
<line x1="929" y1="508" x2="929" y2="513" stroke="#000" stroke-width="2"/>
<line x1="981" y1="508" x2="981" y2="513" stroke="#000" stroke-width="2"/>
<line x1="1033" y1="508" x2="1033" y2="513" stroke="#000" stroke-width="2"/>
<line x1="1085" y1="508" x2="1085" y2="513" stroke="#000" stroke-width="2"/>
<line x1="1137" y1="508" x2="1137" y2="513" stroke="#000" stroke-width="2"/>
<line x1="1189" y1="508" x2="1189" y2="513" stroke="#000" stroke-width="2"/>
<line x1="1241" y1="508" x2="1241" y2="513" stroke="#000" stroke-width="2"/>
<line x1="1293" y1="508" x2="1293" y2="513" stroke="#000" stroke-width="2"/>
<line x1="1345" y1="508" x2="1345" y2="513" stroke="#000" stroke-width="2"/>
<polyline points="799,82 851,86 903,81.4 955,81.4 1007,80.7 1059,89.3 1111,82 1163,81.4 1215,88 1267,80.7 1319,95.4" fill="none" stroke="#ff2a8a" stroke-width="2"/>
<polyline points="799,462.2 851,464.9 903,466.5 955,454.9 1007,460.3 1059,454.5 1111,461.6 1163,454.9 1215,453 1267,453.5 1319,453.5" fill="none" stroke="#3434a8" stroke-width="2"/>
<line x1="799" y1="71.5" x2="799" y2="92.5" stroke="#ff2a8a" stroke-width="1.2"/>
<line x1="795.5" y1="71.5" x2="802.5" y2="71.5" stroke="#ff60a0" stroke-width="1"/>
<line x1="795.5" y1="92.5" x2="802.5" y2="92.5" stroke="#ff60a0" stroke-width="1"/>
<polygon points="799,72 807.7,77 807.7,87 799,92 790.3,87 790.3,77" fill="#ff1070"/><polygon points="799,72 790.3,77 790.3,87 799,92" fill="#ffff88" stroke="#ff1070" stroke-width="2"/><polygon points="799,72 807.7,77 807.7,87 799,92 790.3,87 790.3,77" fill="none" stroke="#ff1070" stroke-width="1.2"/>
<line x1="851" y1="75.5" x2="851" y2="96.5" stroke="#ff2a8a" stroke-width="1.2"/>
<line x1="847.5" y1="75.5" x2="854.5" y2="75.5" stroke="#ff60a0" stroke-width="1"/>
<line x1="847.5" y1="96.5" x2="854.5" y2="96.5" stroke="#ff60a0" stroke-width="1"/>
<polygon points="851,76 859.7,81 859.7,91 851,96 842.3,91 842.3,81" fill="#ff1070"/><polygon points="851,76 842.3,81 842.3,91 851,96" fill="#ffff88" stroke="#ff1070" stroke-width="2"/><polygon points="851,76 859.7,81 859.7,91 851,96 842.3,91 842.3,81" fill="none" stroke="#ff1070" stroke-width="1.2"/>
<line x1="903" y1="70.9" x2="903" y2="91.9" stroke="#ff2a8a" stroke-width="1.2"/>
<line x1="899.5" y1="70.9" x2="906.5" y2="70.9" stroke="#ff60a0" stroke-width="1"/>
<line x1="899.5" y1="91.9" x2="906.5" y2="91.9" stroke="#ff60a0" stroke-width="1"/>
<polygon points="903,71.4 911.7,76.4 911.7,86.4 903,91.4 894.3,86.4 894.3,76.4" fill="#ff1070"/><polygon points="903,71.4 894.3,76.4 894.3,86.4 903,91.4" fill="#ffff88" stroke="#ff1070" stroke-width="2"/><polygon points="903,71.4 911.7,76.4 911.7,86.4 903,91.4 894.3,86.4 894.3,76.4" fill="none" stroke="#ff1070" stroke-width="1.2"/>
<line x1="955" y1="70.9" x2="955" y2="91.9" stroke="#ff2a8a" stroke-width="1.2"/>
<line x1="951.5" y1="70.9" x2="958.5" y2="70.9" stroke="#ff60a0" stroke-width="1"/>
<line x1="951.5" y1="91.9" x2="958.5" y2="91.9" stroke="#ff60a0" stroke-width="1"/>
<polygon points="955,71.4 963.7,76.4 963.7,86.4 955,91.4 946.3,86.4 946.3,76.4" fill="#ff1070"/><polygon points="955,71.4 946.3,76.4 946.3,86.4 955,91.4" fill="#ffff88" stroke="#ff1070" stroke-width="2"/><polygon points="955,71.4 963.7,76.4 963.7,86.4 955,91.4 946.3,86.4 946.3,76.4" fill="none" stroke="#ff1070" stroke-width="1.2"/>
<line x1="1007" y1="70.2" x2="1007" y2="91.2" stroke="#ff2a8a" stroke-width="1.2"/>
<line x1="1003.5" y1="70.2" x2="1010.5" y2="70.2" stroke="#ff60a0" stroke-width="1"/>
<line x1="1003.5" y1="91.2" x2="1010.5" y2="91.2" stroke="#ff60a0" stroke-width="1"/>
<polygon points="1007,70.7 1015.7,75.7 1015.7,85.7 1007,90.7 998.3,85.7 998.3,75.7" fill="#ff1070"/><polygon points="1007,70.7 998.3,75.7 998.3,85.7 1007,90.7" fill="#ffff88" stroke="#ff1070" stroke-width="2"/><polygon points="1007,70.7 1015.7,75.7 1015.7,85.7 1007,90.7 998.3,85.7 998.3,75.7" fill="none" stroke="#ff1070" stroke-width="1.2"/>
<line x1="1059" y1="78.8" x2="1059" y2="99.8" stroke="#ff2a8a" stroke-width="1.2"/>
<line x1="1055.5" y1="78.8" x2="1062.5" y2="78.8" stroke="#ff60a0" stroke-width="1"/>
<line x1="1055.5" y1="99.8" x2="1062.5" y2="99.8" stroke="#ff60a0" stroke-width="1"/>
<polygon points="1059,79.3 1067.7,84.3 1067.7,94.3 1059,99.3 1050.3,94.3 1050.3,84.3" fill="#ff1070"/><polygon points="1059,79.3 1050.3,84.3 1050.3,94.3 1059,99.3" fill="#ffff88" stroke="#ff1070" stroke-width="2"/><polygon points="1059,79.3 1067.7,84.3 1067.7,94.3 1059,99.3 1050.3,94.3 1050.3,84.3" fill="none" stroke="#ff1070" stroke-width="1.2"/>
<line x1="1111" y1="71.5" x2="1111" y2="92.5" stroke="#ff2a8a" stroke-width="1.2"/>
<line x1="1107.5" y1="71.5" x2="1114.5" y2="71.5" stroke="#ff60a0" stroke-width="1"/>
<line x1="1107.5" y1="92.5" x2="1114.5" y2="92.5" stroke="#ff60a0" stroke-width="1"/>
<polygon points="1111,72 1119.7,77 1119.7,87 1111,92 1102.3,87 1102.3,77" fill="#ff1070"/><polygon points="1111,72 1102.3,77 1102.3,87 1111,92" fill="#ffff88" stroke="#ff1070" stroke-width="2"/><polygon points="1111,72 1119.7,77 1119.7,87 1111,92 1102.3,87 1102.3,77" fill="none" stroke="#ff1070" stroke-width="1.2"/>
<line x1="1163" y1="70.9" x2="1163" y2="91.9" stroke="#ff2a8a" stroke-width="1.2"/>
<line x1="1159.5" y1="70.9" x2="1166.5" y2="70.9" stroke="#ff60a0" stroke-width="1"/>
<line x1="1159.5" y1="91.9" x2="1166.5" y2="91.9" stroke="#ff60a0" stroke-width="1"/>
<polygon points="1163,71.4 1171.7,76.4 1171.7,86.4 1163,91.4 1154.3,86.4 1154.3,76.4" fill="#ff1070"/><polygon points="1163,71.4 1154.3,76.4 1154.3,86.4 1163,91.4" fill="#ffff88" stroke="#ff1070" stroke-width="2"/><polygon points="1163,71.4 1171.7,76.4 1171.7,86.4 1163,91.4 1154.3,86.4 1154.3,76.4" fill="none" stroke="#ff1070" stroke-width="1.2"/>
<line x1="1215" y1="77.5" x2="1215" y2="98.5" stroke="#ff2a8a" stroke-width="1.2"/>
<line x1="1211.5" y1="77.5" x2="1218.5" y2="77.5" stroke="#ff60a0" stroke-width="1"/>
<line x1="1211.5" y1="98.5" x2="1218.5" y2="98.5" stroke="#ff60a0" stroke-width="1"/>
<polygon points="1215,78 1223.7,83 1223.7,93 1215,98 1206.3,93 1206.3,83" fill="#ff1070"/><polygon points="1215,78 1206.3,83 1206.3,93 1215,98" fill="#ffff88" stroke="#ff1070" stroke-width="2"/><polygon points="1215,78 1223.7,83 1223.7,93 1215,98 1206.3,93 1206.3,83" fill="none" stroke="#ff1070" stroke-width="1.2"/>
<line x1="1267" y1="70.2" x2="1267" y2="91.2" stroke="#ff2a8a" stroke-width="1.2"/>
<line x1="1263.5" y1="70.2" x2="1270.5" y2="70.2" stroke="#ff60a0" stroke-width="1"/>
<line x1="1263.5" y1="91.2" x2="1270.5" y2="91.2" stroke="#ff60a0" stroke-width="1"/>
<polygon points="1267,70.7 1275.7,75.7 1275.7,85.7 1267,90.7 1258.3,85.7 1258.3,75.7" fill="#ff1070"/><polygon points="1267,70.7 1258.3,75.7 1258.3,85.7 1267,90.7" fill="#ffff88" stroke="#ff1070" stroke-width="2"/><polygon points="1267,70.7 1275.7,75.7 1275.7,85.7 1267,90.7 1258.3,85.7 1258.3,75.7" fill="none" stroke="#ff1070" stroke-width="1.2"/>
<line x1="1319" y1="84.9" x2="1319" y2="105.9" stroke="#ff2a8a" stroke-width="1.2"/>
<line x1="1315.5" y1="84.9" x2="1322.5" y2="84.9" stroke="#ff60a0" stroke-width="1"/>
<line x1="1315.5" y1="105.9" x2="1322.5" y2="105.9" stroke="#ff60a0" stroke-width="1"/>
<polygon points="1319,85.4 1327.7,90.4 1327.7,100.4 1319,105.4 1310.3,100.4 1310.3,90.4" fill="#ff1070"/><polygon points="1319,85.4 1310.3,90.4 1310.3,100.4 1319,105.4" fill="#ffff88" stroke="#ff1070" stroke-width="2"/><polygon points="1319,85.4 1327.7,90.4 1327.7,100.4 1319,105.4 1310.3,100.4 1310.3,90.4" fill="none" stroke="#ff1070" stroke-width="1.2"/>
<line x1="799" y1="450.2" x2="799" y2="474.2" stroke="#4040b0" stroke-width="1.3"/>
<line x1="795" y1="450.2" x2="803" y2="450.2" stroke="#4040b0" stroke-width="1.3"/>
<line x1="795" y1="474.2" x2="803" y2="474.2" stroke="#4040b0" stroke-width="1.3"/>
<polygon points="799,451.7 808.1,456.9 808.1,467.4 799,472.7 789.9,467.4 789.9,456.9" fill="#20f0ff"/><polygon points="799,451.7 789.9,456.9 789.9,467.4 799,472.7" fill="#00007a" stroke="#00007a" stroke-width="2"/><polygon points="799,451.7 808.1,456.9 808.1,467.4 799,472.7 789.9,467.4 789.9,456.9" fill="none" stroke="#00007a" stroke-width="1.2"/>
<line x1="851" y1="452.9" x2="851" y2="476.9" stroke="#4040b0" stroke-width="1.3"/>
<line x1="847" y1="452.9" x2="855" y2="452.9" stroke="#4040b0" stroke-width="1.3"/>
<line x1="847" y1="476.9" x2="855" y2="476.9" stroke="#4040b0" stroke-width="1.3"/>
<polygon points="851,454.4 860.1,459.6 860.1,470.1 851,475.4 841.9,470.1 841.9,459.6" fill="#20f0ff"/><polygon points="851,454.4 841.9,459.6 841.9,470.1 851,475.4" fill="#00007a" stroke="#00007a" stroke-width="2"/><polygon points="851,454.4 860.1,459.6 860.1,470.1 851,475.4 841.9,470.1 841.9,459.6" fill="none" stroke="#00007a" stroke-width="1.2"/>
<line x1="903" y1="454.5" x2="903" y2="478.5" stroke="#4040b0" stroke-width="1.3"/>
<line x1="899" y1="454.5" x2="907" y2="454.5" stroke="#4040b0" stroke-width="1.3"/>
<line x1="899" y1="478.5" x2="907" y2="478.5" stroke="#4040b0" stroke-width="1.3"/>
<polygon points="903,456 912.1,461.2 912.1,471.8 903,477 893.9,471.8 893.9,461.2" fill="#20f0ff"/><polygon points="903,456 893.9,461.2 893.9,471.8 903,477" fill="#00007a" stroke="#00007a" stroke-width="2"/><polygon points="903,456 912.1,461.2 912.1,471.8 903,477 893.9,471.8 893.9,461.2" fill="none" stroke="#00007a" stroke-width="1.2"/>
<line x1="955" y1="442.9" x2="955" y2="466.9" stroke="#4040b0" stroke-width="1.3"/>
<line x1="951" y1="442.9" x2="959" y2="442.9" stroke="#4040b0" stroke-width="1.3"/>
<line x1="951" y1="466.9" x2="959" y2="466.9" stroke="#4040b0" stroke-width="1.3"/>
<polygon points="955,444.4 964.1,449.6 964.1,460.1 955,465.4 945.9,460.1 945.9,449.6" fill="#20f0ff"/><polygon points="955,444.4 945.9,449.6 945.9,460.1 955,465.4" fill="#00007a" stroke="#00007a" stroke-width="2"/><polygon points="955,444.4 964.1,449.6 964.1,460.1 955,465.4 945.9,460.1 945.9,449.6" fill="none" stroke="#00007a" stroke-width="1.2"/>
<line x1="1007" y1="448.3" x2="1007" y2="472.3" stroke="#4040b0" stroke-width="1.3"/>
<line x1="1003" y1="448.3" x2="1011" y2="448.3" stroke="#4040b0" stroke-width="1.3"/>
<line x1="1003" y1="472.3" x2="1011" y2="472.3" stroke="#4040b0" stroke-width="1.3"/>
<polygon points="1007,449.8 1016.1,455.1 1016.1,465.6 1007,470.8 997.9,465.6 997.9,455.1" fill="#20f0ff"/><polygon points="1007,449.8 997.9,455.1 997.9,465.6 1007,470.8" fill="#00007a" stroke="#00007a" stroke-width="2"/><polygon points="1007,449.8 1016.1,455.1 1016.1,465.6 1007,470.8 997.9,465.6 997.9,455.1" fill="none" stroke="#00007a" stroke-width="1.2"/>
<line x1="1059" y1="442.5" x2="1059" y2="466.5" stroke="#4040b0" stroke-width="1.3"/>
<line x1="1055" y1="442.5" x2="1063" y2="442.5" stroke="#4040b0" stroke-width="1.3"/>
<line x1="1055" y1="466.5" x2="1063" y2="466.5" stroke="#4040b0" stroke-width="1.3"/>
<polygon points="1059,444 1068.1,449.2 1068.1,459.8 1059,465 1049.9,459.8 1049.9,449.2" fill="#20f0ff"/><polygon points="1059,444 1049.9,449.2 1049.9,459.8 1059,465" fill="#00007a" stroke="#00007a" stroke-width="2"/><polygon points="1059,444 1068.1,449.2 1068.1,459.8 1059,465 1049.9,459.8 1049.9,449.2" fill="none" stroke="#00007a" stroke-width="1.2"/>
<line x1="1111" y1="449.6" x2="1111" y2="473.6" stroke="#4040b0" stroke-width="1.3"/>
<line x1="1107" y1="449.6" x2="1115" y2="449.6" stroke="#4040b0" stroke-width="1.3"/>
<line x1="1107" y1="473.6" x2="1115" y2="473.6" stroke="#4040b0" stroke-width="1.3"/>
<polygon points="1111,451.1 1120.1,456.4 1120.1,466.9 1111,472.1 1101.9,466.9 1101.9,456.4" fill="#20f0ff"/><polygon points="1111,451.1 1101.9,456.4 1101.9,466.9 1111,472.1" fill="#00007a" stroke="#00007a" stroke-width="2"/><polygon points="1111,451.1 1120.1,456.4 1120.1,466.9 1111,472.1 1101.9,466.9 1101.9,456.4" fill="none" stroke="#00007a" stroke-width="1.2"/>
<line x1="1163" y1="442.9" x2="1163" y2="466.9" stroke="#4040b0" stroke-width="1.3"/>
<line x1="1159" y1="442.9" x2="1167" y2="442.9" stroke="#4040b0" stroke-width="1.3"/>
<line x1="1159" y1="466.9" x2="1167" y2="466.9" stroke="#4040b0" stroke-width="1.3"/>
<polygon points="1163,444.4 1172.1,449.6 1172.1,460.1 1163,465.4 1153.9,460.1 1153.9,449.6" fill="#20f0ff"/><polygon points="1163,444.4 1153.9,449.6 1153.9,460.1 1163,465.4" fill="#00007a" stroke="#00007a" stroke-width="2"/><polygon points="1163,444.4 1172.1,449.6 1172.1,460.1 1163,465.4 1153.9,460.1 1153.9,449.6" fill="none" stroke="#00007a" stroke-width="1.2"/>
<line x1="1215" y1="441" x2="1215" y2="465" stroke="#4040b0" stroke-width="1.3"/>
<line x1="1211" y1="441" x2="1219" y2="441" stroke="#4040b0" stroke-width="1.3"/>
<line x1="1211" y1="465" x2="1219" y2="465" stroke="#4040b0" stroke-width="1.3"/>
<polygon points="1215,442.5 1224.1,447.8 1224.1,458.2 1215,463.5 1205.9,458.2 1205.9,447.8" fill="#20f0ff"/><polygon points="1215,442.5 1205.9,447.8 1205.9,458.2 1215,463.5" fill="#00007a" stroke="#00007a" stroke-width="2"/><polygon points="1215,442.5 1224.1,447.8 1224.1,458.2 1215,463.5 1205.9,458.2 1205.9,447.8" fill="none" stroke="#00007a" stroke-width="1.2"/>
<line x1="1267" y1="441.5" x2="1267" y2="465.5" stroke="#4040b0" stroke-width="1.3"/>
<line x1="1263" y1="441.5" x2="1271" y2="441.5" stroke="#4040b0" stroke-width="1.3"/>
<line x1="1263" y1="465.5" x2="1271" y2="465.5" stroke="#4040b0" stroke-width="1.3"/>
<polygon points="1267,443 1276.1,448.2 1276.1,458.8 1267,464 1257.9,458.8 1257.9,448.2" fill="#20f0ff"/><polygon points="1267,443 1257.9,448.2 1257.9,458.8 1267,464" fill="#00007a" stroke="#00007a" stroke-width="2"/><polygon points="1267,443 1276.1,448.2 1276.1,458.8 1267,464 1257.9,458.8 1257.9,448.2" fill="none" stroke="#00007a" stroke-width="1.2"/>
<line x1="1319" y1="441.5" x2="1319" y2="465.5" stroke="#4040b0" stroke-width="1.3"/>
<line x1="1315" y1="441.5" x2="1323" y2="441.5" stroke="#4040b0" stroke-width="1.3"/>
<line x1="1315" y1="465.5" x2="1323" y2="465.5" stroke="#4040b0" stroke-width="1.3"/>
<polygon points="1319,443 1328.1,448.2 1328.1,458.8 1319,464 1309.9,458.8 1309.9,448.2" fill="#20f0ff"/><polygon points="1319,443 1309.9,448.2 1309.9,458.8 1319,464" fill="#00007a" stroke="#00007a" stroke-width="2"/><polygon points="1319,443 1328.1,448.2 1328.1,458.8 1319,464 1309.9,458.8 1309.9,448.2" fill="none" stroke="#00007a" stroke-width="1.2"/>
<line x1="779" y1="51" x2="804" y2="51" stroke="#ffc0f4" stroke-width="1.5"/><polygon points="777,51 787,47 787,55" fill="#ff20e0"/>
<rect x="810" y="44" width="44" height="21.5" fill="url(#gBlueL)"/>
<text class="R" x="859" y="62" font-size="19" font-weight="bold" fill="#000">&#916;<tspan font-style="italic">H</tspan><tspan font-size="13" dy="4" font-style="italic">c</tspan></text>
<line x1="776" y1="488.6" x2="801" y2="488.6" stroke="#ffc0f4" stroke-width="1.5"/><polygon points="774,488.6 784,484.6 784,492.6" fill="#ff20e0"/>
<rect x="810" y="478" width="43" height="21" fill="url(#gRedL)"/>
<text class="R" x="858" y="496" font-size="19" font-weight="bold" fill="#000">&#916;<tspan font-style="italic">H</tspan><tspan font-size="13" dy="4" font-style="italic">m</tspan></text>
<line x1="1237" y1="49" x2="1248.6" y2="49" stroke="#ff2a8a" stroke-width="2.2"/>
<line x1="1269.6" y1="49" x2="1280.7" y2="49" stroke="#ff2a8a" stroke-width="2.2"/>
<polygon points="1258,39.5 1266.2,44.2 1266.2,53.8 1258,58.5 1249.8,53.8 1249.8,44.2" fill="#ff1070"/><polygon points="1258,39.5 1249.8,44.2 1249.8,53.8 1258,58.5" fill="#ffff88" stroke="#ff1070" stroke-width="2"/><polygon points="1258,39.5 1266.2,44.2 1266.2,53.8 1258,58.5 1249.8,53.8 1249.8,44.2" fill="none" stroke="#ff1070" stroke-width="1.2"/>
<text class="R" x="1288" y="55" font-size="20" font-weight="bold" fill="#000"><tspan font-style="italic">T</tspan><tspan font-size="13" dy="5">m</tspan></text>
<line x1="1309" y1="46.5" x2="1336" y2="46.5" stroke="#d0a0ff" stroke-width="1.5"/><polygon points="1338,46.5 1328,42.5 1328,50.5" fill="#8a20ff"/>
<line x1="1237" y1="487.3" x2="1248.6" y2="487.3" stroke="#3434a8" stroke-width="2.2"/>
<line x1="1269.6" y1="487.3" x2="1280.7" y2="487.3" stroke="#3434a8" stroke-width="2.2"/>
<polygon points="1258.6,477.8 1266.8,482.6 1266.8,492.1 1258.6,496.8 1250.4,492.1 1250.4,482.6" fill="#20f0ff"/><polygon points="1258.6,477.8 1250.4,482.6 1250.4,492.1 1258.6,496.8" fill="#00007a" stroke="#00007a" stroke-width="2"/><polygon points="1258.6,477.8 1266.8,482.6 1266.8,492.1 1258.6,496.8 1250.4,492.1 1250.4,482.6" fill="none" stroke="#00007a" stroke-width="1.2"/>
<text class="R" x="1288" y="493" font-size="20" font-weight="bold" fill="#000"><tspan font-style="italic">T</tspan><tspan font-size="13" dy="5">c</tspan></text>
<line x1="1308" y1="486" x2="1335" y2="486" stroke="#d0a0ff" stroke-width="1.5"/><polygon points="1337,486 1327,482 1327,490" fill="#8a20ff"/>
<text class="S" x="1059" y="570" font-size="26.5" text-anchor="middle" fill="#1a1a1a">Cycle number</text>
<text class="S" x="0" y="0" font-size="23.5" text-anchor="middle" fill="#1a1a1a" transform="translate(719,265) rotate(-90)">Phase-change enthalpy (J/g)</text>
<text class="S" x="0" y="0" font-size="24" text-anchor="middle" fill="#1a1a1a" transform="translate(1407,265) rotate(-90)">Phase-change temperature (&#176;C)</text>
<text class="R" x="681.8" y="53" font-size="50" font-weight="bold" fill="#000">(b)</text>
<polyline points="1508,67.2 1510.2,67.1 1512.5,67 1514.8,67 1517,66.5 1519,66.7 1521,65.3 1523,65.8 1525,66.3 1527,65.8 1529.2,66.2 1531.3,65.1 1533.5,65.6 1535.7,65.2 1537.8,65.7 1540,65.7 1542.1,64.8 1544.2,65.1 1546.2,65.1 1548.3,65.9 1550.4,65.6 1552.4,64.7 1554.5,65.5 1556.6,64.5 1558.8,65.4 1561.1,64.9 1563.3,64.9 1565.5,66.3 1567.8,65.6 1570,65.8 1572.2,67.2 1574.4,67.3 1576.6,66.7 1578.8,68 1581,67.7 1583,68.1 1585,67.7 1587,69 1589,68.9 1591.2,69.2 1593.5,69 1595.8,68 1598,68 1600,67.5 1602,67.2 1604,66.9 1606,67 1608,67.1 1610,66.2 1612,67 1614,66.4 1616,66.3 1618,66.9 1620,66.3 1622.1,65.9 1624.3,66 1626.4,66.2 1628.5,65.2 1630.6,66.3 1632.8,64.9 1634.9,65.7 1637.1,65.9 1639.2,64.7 1641.4,65.8 1643.5,65.2 1645.7,65.4 1647.8,64.6 1650,64.7 1652.2,64.9 1654.3,66 1656.5,65 1658.6,65.8 1660.8,66.1 1662.9,66.1 1665,65.3 1667.2,65.6 1670.5,67 1672.6,71 1675.3,84.5 1678,87.2 1680.7,102 1682.8,123.6 1684.8,154.6 1685.9,177.6 1687.5,168 1690.2,148 1691.5,118.2 1694.2,103.4 1696.2,100 1698.3,96.6 1701,80.5 1703,76.5 1705,72.4 1708.4,74.4 1711,69 1714.5,71.7 1716.5,67.3 1718.5,62.8 1720.7,62.9 1722.9,63 1725.1,61.9 1727.2,62.6 1729.4,62.5 1731.6,62.5 1733.8,61.1 1736,62.2 1738.2,60.9 1740.5,61.1 1742.8,61.4 1745,61.7 1747.2,60.8 1749.5,61.5 1751.5,60.9 1753.6,60.5 1755.6,60.4 1757.6,60.2 1759.7,60 1761.7,60 1763.7,60.7 1765.7,61 1767.8,59.8 1769.8,59.6 1771.8,60.7 1773.9,59.9 1775.9,59.5 1778,59.1 1780,59.4 1782.1,59.6 1784.3,58.9 1786.4,58.7 1788.5,58.1 1790.6,59.1 1792.8,57.7 1794.9,58.2 1797,58.5 1799.1,57.4 1801.3,58.1 1803.4,58.2 1805.4,57.8 1807.4,58 1809.5,57 1811.5,57.5 1813.5,57.1 1815.5,58.1 1817.5,57.3 1819.5,57.5 1821.6,58.3 1823.6,58.1 1825.6,58.3 1827.8,58.6 1829.9,59.7 1832.1,61.1 1834.2,59.5 1836.2,58 1838.3,56.9 1840.4,55.3 1842.5,55.5 1844.6,56.2 1846.7,56.1 1848.8,55.5 1850.8,55.2 1852.9,54.8 1855,54.3 1857.1,54.8 1860.8,57.6 1861.8,62.2 1863.6,57.6 1866.4,60.4 1868.7,79.4 1871,98.4 1873.8,77 1876.6,61.9 1878.9,61.2 1881.2,60 1884,59.8 1886.8,60.4 1889.6,58.1 1892.4,56.2 1894.7,55.9 1897,55.6 1899.3,55.3 1901.6,54.8 1904.4,64.1 1906.3,95.6 1908.1,69.7 1910,73.4 1911.5,130 1912.8,99.3 1914.3,85.9 1917.2,61.9 1919.3,61.3 1921.5,61.5 1923.7,72.2 1925.8,83 1928.7,97.3 1931.5,213.4 1933.8,77.3 1935.8,67.2 1938.7,80.1 1941.6,163.3 1943.6,80.1 1945.9,87.3 1947.3,160.4 1950.2,83 1952.3,75.8 1954.5,68.7 1956.7,74.4 1958.8,80.1 1961.6,174.7 1963.6,128.9 1967.4,212 1970.2,355.4 1973.1,283.7 1975.1,200.6 1976.8,257.9 1978.8,154.7 1980.9,123.1 1983.1,91.6 1986,78.7 1988.9,77.3 1991.7,226.4 1994.6,177.6 1997.5,97.3 1999.7,83.7 2001.8,70.1 2004.6,80.1 2007.5,81.6 2010.4,212 2012.4,240.7 2014.7,131.7 2016.8,100.2 2019,68.7 2021.2,64.4 2023.3,60.4 2025.4,60.5 2027.6,61.5 2030.4,108.8 2032.5,68.7 2035,67.6 2037.6,65.8 2040.5,68.7 2043.4,71.8 2045.5,70.5 2047.6,70.1 2049.1,91.6 2052,67.8 2054.8,67.4 2057.7,67.3 2060.1,67.5 2062.4,69.2 2064.8,70.1" fill="none" stroke="#118811" stroke-width="2.2" stroke-linejoin="round"/>
<polyline points="1508,242.8 1510,243.7 1512,243.8 1514,243.9 1516,244.7 1518,242.4 1520,241.9 1522,245.5 1524,242.8 1526,243.3 1528,245.6 1530,243.7 1532,245.6 1534,244.9 1536,244.5 1538,242.9 1540,245.3 1542,246.6 1544,244.9 1546,245.5 1548,246.1 1550,242.6 1552,246.3 1554,244.9 1556,243.7 1558,242.7 1560,246 1562,245.4 1564,245.4 1566,246.5 1568,246 1570,246.4 1572,244.7 1574,245.5 1576,244.5 1578,244.7 1580,245.4 1582,245 1584,244.9 1586,245.2 1588,245.1 1590,244.9 1592,245.6 1594,245.4 1596,244.8 1598,245.3 1600,245.2 1602,245.7 1604,245.5 1606,244.8 1608,245.8 1610,244.5 1612,244.9 1614,245.3 1616,244.5 1618,244.9 1620,244.3 1622,245.1 1624,245.2 1626,244.9 1628,245.3 1630,244.5 1632,245 1634,244.8 1636,244.8 1638,244.6 1640,245.1 1642,245.2 1644,244.5 1646,244.7 1648.1,243.8 1650.1,244.7 1652.1,244.5 1654.1,245 1656.1,244.7 1658.1,243.9 1660.1,244 1662.2,244.4 1664.2,243.4 1666.2,244 1668.2,244 1670.6,247 1673,250 1675.7,256.5 1678.3,263 1682,285 1684.6,305 1686,318 1688,300 1691,275 1693,268.5 1695,262 1697.5,258.5 1700,255 1702.5,252 1705,248.5 1707.3,247.5 1709.7,246.4 1712,246.4 1714,245 1716,244.7 1718,244.4 1720,244.6 1722,243.6 1724,244.1 1726,244.3 1728,244.8 1730,244.8 1732,244.9 1734,244.1 1736,244.3 1738,244.3 1740,245.1 1742,245.2 1744,244.2 1746,244.2 1748,244.4 1750,244.4 1752,244.8 1754,245 1756,244.6 1758,244.3 1760,244.9 1762,244.9 1764,245.2 1766,245.8 1768,245.4 1770,245.2 1772,245.4 1774,245.5 1776,244.7 1778,245.9 1780,245.8 1782,246 1784,245.9 1786,245.4 1788,245.4 1790,245 1792,245.8 1794,245.1 1796,245.1 1798,245.4 1800,245.3 1802.1,245.7 1804.2,245.3 1806.4,245.3 1808.5,245.6 1810.6,245.6 1812.7,246.1 1814.8,245.7 1817,247 1819.1,246.7 1821.2,246.1 1823.2,246.8 1825.2,247.4 1827.3,248 1829.3,248.2 1831.3,249.2 1833.8,247.5 1836.4,245.8 1838.9,244.6 1841.1,245 1843.3,244.4 1845.6,244.6 1847.8,244.2 1850,244.4 1852.3,244.6 1854.5,244.2 1856.8,244.8 1859.1,244.1 1862.9,253 1866,290 1869.5,330 1871.6,332 1873.5,290 1874.3,253 1876.8,249.2 1879.4,245.4 1883,256 1885,259.5 1887,263 1889.5,255.5 1892,247.5 1894.5,246 1897,245.4 1900,249.3 1902,270 1905.7,283.7 1908.6,257.9 1911.5,286.6 1914.3,269.4 1917.2,246.4 1919.3,249.3 1921.5,252.2 1924.3,272.2 1927.2,292.3 1930.1,326.7 1933,249.3 1935.2,253.6 1937.3,257.9 1940.1,283.7 1943,249.3 1945.9,269.4 1948.2,323.8 1951.6,263.6 1954.5,246.4 1956.7,257.9 1958.8,269.4 1960.9,283.7 1963.1,298 1965.9,326.7 1968,408 1971.7,326.7 1974.5,298 1976.7,290.9 1978.8,283.7 1980.9,276.5 1983.1,269.4 1986,289.4 1988.9,263.6 1991.7,326.7 1994.6,275.1 1997.4,262.2 2000.3,249.3 2003.2,257.9 2005.3,292.3 2007.5,326.7 2010.4,280.8 2013.2,326.7 2015.3,296.6 2017.5,266.5 2020.4,252.8 2023.2,252.2 2026.1,252.2 2029.6,303.8 2033.3,245.9 2035.4,246.5 2037.6,246.4 2039.8,257.9 2041.9,269.4 2044.1,292.3 2046.2,315.2 2049.1,292.3 2051.9,288 2054.8,283.7 2057.7,273.6 2060.5,263.6 2062.7,256.5 2064.8,249.3" fill="none" stroke="#ff14ff" stroke-width="2.2" stroke-linejoin="round"/>
<ellipse cx="1681.5" cy="204" rx="54" ry="163.5" fill="none" stroke="#ff2020" stroke-width="2.6" stroke-dasharray="11,7"/>
<ellipse cx="1865" cy="203.3" rx="44" ry="164.3" fill="none" stroke="#1a1aff" stroke-width="2.6" stroke-dasharray="10,7"/>
<ellipse cx="1965.3" cy="244.7" rx="48" ry="204.7" fill="none" stroke="#222" stroke-width="2.6" stroke-dasharray="10,7"/>
<rect x="1506.5" y="25.3" width="559.0" height="487.99999999999994" fill="none" stroke="#222" stroke-width="2.6"/>
<line x1="1497.5" y1="513.3" x2="1506.5" y2="513.3" stroke="#222" stroke-width="2.2"/>
<line x1="1501.5" y1="464.5" x2="1506.5" y2="464.5" stroke="#222" stroke-width="2.2"/>
<line x1="1497.5" y1="415.7" x2="1506.5" y2="415.7" stroke="#222" stroke-width="2.2"/>
<line x1="1501.5" y1="366.9" x2="1506.5" y2="366.9" stroke="#222" stroke-width="2.2"/>
<line x1="1497.5" y1="318.1" x2="1506.5" y2="318.1" stroke="#222" stroke-width="2.2"/>
<line x1="1501.5" y1="269.3" x2="1506.5" y2="269.3" stroke="#222" stroke-width="2.2"/>
<line x1="1497.5" y1="220.5" x2="1506.5" y2="220.5" stroke="#222" stroke-width="2.2"/>
<line x1="1501.5" y1="171.7" x2="1506.5" y2="171.7" stroke="#222" stroke-width="2.2"/>
<line x1="1497.5" y1="122.9" x2="1506.5" y2="122.9" stroke="#222" stroke-width="2.2"/>
<line x1="1501.5" y1="74.1" x2="1506.5" y2="74.1" stroke="#222" stroke-width="2.2"/>
<line x1="1497.5" y1="25.3" x2="1506.5" y2="25.3" stroke="#222" stroke-width="2.2"/>
<text class="S" x="1492" y="520.3" font-size="19.5" text-anchor="end" fill="#1a1a1a">0</text>
<text class="S" x="1492" y="422.7" font-size="19.5" text-anchor="end" fill="#1a1a1a">20</text>
<text class="S" x="1492" y="325.1" font-size="19.5" text-anchor="end" fill="#1a1a1a">40</text>
<text class="S" x="1492" y="227.5" font-size="19.5" text-anchor="end" fill="#1a1a1a">60</text>
<text class="S" x="1492" y="129.9" font-size="19.5" text-anchor="end" fill="#1a1a1a">80</text>
<text class="S" x="1492" y="32.3" font-size="19.5" text-anchor="end" fill="#1a1a1a">100</text>
<line x1="1506.5" y1="513.3" x2="1506.5" y2="522.3" stroke="#222" stroke-width="2.2"/>
<line x1="1546.4" y1="513.3" x2="1546.4" y2="518.3" stroke="#222" stroke-width="2.2"/>
<line x1="1586.4" y1="513.3" x2="1586.4" y2="522.3" stroke="#222" stroke-width="2.2"/>
<line x1="1626.3" y1="513.3" x2="1626.3" y2="518.3" stroke="#222" stroke-width="2.2"/>
<line x1="1666.2" y1="513.3" x2="1666.2" y2="522.3" stroke="#222" stroke-width="2.2"/>
<line x1="1706.2" y1="513.3" x2="1706.2" y2="518.3" stroke="#222" stroke-width="2.2"/>
<line x1="1746.1" y1="513.3" x2="1746.1" y2="522.3" stroke="#222" stroke-width="2.2"/>
<line x1="1786" y1="513.3" x2="1786" y2="518.3" stroke="#222" stroke-width="2.2"/>
<line x1="1825.9" y1="513.3" x2="1825.9" y2="522.3" stroke="#222" stroke-width="2.2"/>
<line x1="1865.9" y1="513.3" x2="1865.9" y2="518.3" stroke="#222" stroke-width="2.2"/>
<line x1="1905.8" y1="513.3" x2="1905.8" y2="522.3" stroke="#222" stroke-width="2.2"/>
<line x1="1945.7" y1="513.3" x2="1945.7" y2="518.3" stroke="#222" stroke-width="2.2"/>
<line x1="1985.7" y1="513.3" x2="1985.7" y2="522.3" stroke="#222" stroke-width="2.2"/>
<line x1="2025.6" y1="513.3" x2="2025.6" y2="518.3" stroke="#222" stroke-width="2.2"/>
<line x1="2065.5" y1="513.3" x2="2065.5" y2="522.3" stroke="#222" stroke-width="2.2"/>
<text class="S" x="1506.5" y="547" font-size="20" text-anchor="middle" fill="#1a1a1a">4000</text>
<text class="S" x="1586.4" y="547" font-size="20" text-anchor="middle" fill="#1a1a1a">3500</text>
<text class="S" x="1666.2" y="547" font-size="20" text-anchor="middle" fill="#1a1a1a">3000</text>
<text class="S" x="1746.1" y="547" font-size="20" text-anchor="middle" fill="#1a1a1a">2500</text>
<text class="S" x="1825.9" y="547" font-size="20" text-anchor="middle" fill="#1a1a1a">2000</text>
<text class="S" x="1905.8" y="547" font-size="20" text-anchor="middle" fill="#1a1a1a">1500</text>
<text class="S" x="1985.7" y="547" font-size="20" text-anchor="middle" fill="#1a1a1a">1000</text>
<text class="S" x="2065.5" y="547" font-size="20" text-anchor="middle" fill="#1a1a1a">500</text>
<text class="S" x="1786" y="575" font-size="25" text-anchor="middle" fill="#1a1a1a">Wavenumber (cm<tspan font-size="14" dy="-9">-1</tspan><tspan dy="9">)</tspan></text>
<text class="S" x="0" y="0" font-size="26.5" text-anchor="middle" fill="#1a1a1a" transform="translate(1465,270) rotate(-90)">Transmittance (%)</text>
<line x1="1523" y1="465.5" x2="1570" y2="465.5" stroke="#118811" stroke-width="2.5"/>
<line x1="1523" y1="491.7" x2="1570" y2="491.7" stroke="#ff14ff" stroke-width="2.5"/>
<text class="R" x="1576" y="473" font-size="20.7" font-weight="bold" fill="#000">Before thermal cycling experiment</text>
<text class="R" x="1576" y="499.5" font-size="20.7" font-weight="bold" fill="#000">After thermal cycling experiment</text>
<text class="R" x="1404.4" y="52.9" font-size="50" font-weight="bold" fill="#000">(c)</text>
<polyline points="84.5,1087.1 86.7,1087.3 88.9,1087.8 91.1,1087.1 93.4,1087.1 95.6,1087.2 97.8,1086.5 100,1087 102.1,1087.1 104.2,1087.3 106.3,1086.1 108.3,1086.3 110.4,1085.9 112.5,1087 114.6,1086.4 116.5,1084 118.6,1081.8 120,1085 121.2,1086.4 125,1085 127.9,1077.8 129,1082 130.6,1084.5 132,1080 133.2,1076.5 134.5,1081 135.9,1084.8 138.1,1083.6 140.3,1084.8 142.6,1084.6 144.8,1083.9 147,1083.6 149.2,1082.7 151.3,1082.1 153.5,1082.7 155.6,1081.7 157.8,1081.6 159.9,1081.4 162.6,1079 165.2,1077.8 167.9,1071.2 170.5,1056.5 172,950 173.2,842 174.2,950 174.8,1053.9 177.2,1077.7 179.5,1078.1 181.8,1079 184.2,1078.9 186.5,1079.2 188.5,1073.8 190.5,1068.5 193.2,1078 195.8,1077.8 198.5,1077.8 201.2,1061.8 203,1069.8 205.2,1053.9 207.8,1029.9 210.5,923.3 212.6,882 214.5,910 217.2,1029.9 219.8,1073.8 222,1076 224.3,1078.3 226.5,1080.8 229.2,1081.1 231.8,1081.4 233.9,1080.7 236,1078.8 238.6,1077.1 241.1,1075.2 243.8,1077.8 246.5,1080.5 248.5,1076.8 250.5,1073 252.5,1078.1 254.5,1083.2 257.1,1079.2 259.1,1081.8 261.1,1084.8 263.2,1084.1 265.3,1083.9 267.4,1083.8 269.5,1083.4 271.6,1084.4 273.8,1083.7 275.9,1084.3 278,1083.5 280.1,1084.3 282.2,1084 284.3,1082.5 286.4,1083.2 288.5,1080 290.4,1085.3 292.5,1086.5 294.6,1085.8 296.7,1086.6 298.8,1085.6 300.9,1085.1 303,1086 305,1086.2 307.1,1085.4 309.2,1085.1 311.3,1085.5 313.4,1086.5 315.5,1086.2 317.6,1085.2 319.7,1085.4 321.8,1084.6 323.8,1084 325.9,1084.6 327.9,1083 330,1083.1 332.3,1081.4 334.7,1079.5 337,1078.5 339.1,1082.5 341.1,1086.9 343.2,1086.1 345.2,1087.1 347.3,1086.4 349.4,1087 351.4,1086.9 353.5,1087.1 355.6,1088.4 357.6,1088.3 359.7,1087.7 361.8,1088.4 363.9,1087 366,1087.1 368.1,1087.6 370.2,1087 372.3,1085.9 374.4,1087.3 376.4,1086 378.5,1086.1 380.6,1086.9 382.6,1086.2 384.7,1086.2 386.7,1085.8 388.8,1085.8 390.9,1086.6 392.9,1086.1 395,1086.7 397.1,1086.3 399.1,1086.4 401.2,1087.2 403.3,1086.5 405.3,1086.6 407.4,1087.1 409.5,1086 411.5,1085.9 413.6,1087.2 415.6,1087 417.7,1086.1 419.8,1086 421.8,1086.9 423.9,1087.2 425.9,1086 427.9,1087.2 429.9,1087.1 431.9,1086.7 433.9,1086.4 435.9,1085.9 437.9,1085.8 439.9,1087.2 441.9,1086.1 444,1086.8 446,1086.1 448,1087 450,1086.7 452,1086.2 454,1086 456,1086.9 458,1085.8 460,1086.1 462,1086.7 464,1087.3 466.1,1087 468.1,1086.6 470.1,1087.7 472.1,1086.7 474.2,1086.5 476.2,1087 478.2,1087.4 480.2,1086.9 482.2,1087.2 484.3,1087.6 486.3,1088 488.3,1087.4 490.3,1087.9 492.3,1088.9 494.4,1089.1 496.4,1088.7 498.4,1088.9 500.4,1088.8 502.5,1088.2 504.5,1088.1 506.5,1088.2 508.5,1089.7 510.5,1089.4 512.5,1089.8 514.5,1088.3 516.5,1089.3 518.5,1089.1 520.5,1089.5 522.5,1088.9 524.5,1090 526.5,1088.6 528.5,1089.4 530.5,1089.7 532.5,1090 534.5,1089.7 536.5,1089.7 538.5,1089.9 540.5,1090.1 542.5,1089.2 544.5,1089.8 546.5,1090.2 548.5,1090.1 550.5,1089.4 552.5,1090.1 554.5,1090.2 556.5,1089.8 558.5,1089.9 560.5,1089.5 562.5,1089.9 564.5,1089.9 566.5,1089.1 568.5,1090 570.5,1090.6 572.5,1090.5 574.5,1090.2 576.5,1089.7 578.5,1090.3 580.5,1090.1 582.5,1089.9 584.5,1090.5 586.6,1089.4 588.6,1090.5 590.6,1089.3 592.6,1090.3 594.6,1090.1 596.6,1089.7 598.6,1090.5 600.6,1090.2 602.6,1090.4 604.6,1090.9 606.6,1089.9 608.6,1089.5 610.6,1090 612.6,1090.6 614.6,1089.9 616.6,1089.9 618.6,1091.1 620.6,1090.7 622.6,1090.4 624.6,1091.1 626.6,1090.3 628.6,1090.8 630.6,1090.1 632.6,1090.5 634.6,1091.1 636.6,1091.3 638.6,1091.3 640.6,1090.5 642.6,1090.9 644.6,1090.5 646.6,1090.2 648.6,1090.8 650.6,1091.4 652.6,1091.4 654.6,1091.2 656.6,1091.6 658.6,1090.6 660.6,1090.4 662.6,1091" fill="none" stroke="#118811" stroke-width="2.3" stroke-linejoin="round"/>
<polyline points="85.5,888.6 87.5,889.3 89.6,889.3 91.6,889.6 93.6,888.5 95.7,888.6 97.7,888.4 99.7,888.6 101.8,889.4 103.8,888.4 105.8,889.1 107.9,888.5 109.9,888.7 111.9,888.9 114,889.5 116,889.2 118.2,887.7 120.5,887.6 122.8,886.9 125,887.6 127.4,885.9 129.8,884.3 132.2,882.7 134.2,879.9 136.3,876.8 139,887 141.1,886.6 143.2,885.7 145.2,886.5 147.3,885.8 149.4,886.1 151.5,885.6 153.6,885.3 155.7,885.1 157.7,885 159.8,884.7 161.9,884.9 164.1,879.9 166.4,875 168.6,870 171.5,845 173.5,760 175.5,698.7 177,698.7 178.2,760 179.4,876.2 181.8,878 184.2,878.6 186.5,879.6 188.9,879.8 191.6,878.2 194.3,877.2 197,877.6 199.7,879.5 201.7,871.4 203.7,863.3 206.4,871.4 209.1,849.8 210.5,800 212,745 213.6,720 215.6,711.5 217.6,716 219,742 220.4,795 222.6,874.1 224.9,876.4 227.1,878.6 229.4,881.2 231.4,881.1 233.4,881 235.5,881.4 237.5,882.2 239.7,880 242,877.7 244.2,875.5 246.2,877.5 248.2,879.5 250.2,877.1 252.3,875.5 254.3,880.2 256.3,884.8 258.4,882.4 260.4,879.5 263.1,883.5 265.8,887.4 267.8,887 269.8,887.6 271.9,887.2 273.9,887.2 275.9,887.1 277.9,887.4 279.9,886.9 282,887.8 284,888.3 286,887.6 288.7,880.9 290.8,885 292.8,888.8 294.9,889.4 296.9,889.7 299,888.3 301.1,888.4 303.1,889.5 305.2,889.5 307.3,889.2 309.3,888.5 311.4,888.9 313.5,889.6 315.5,889.6 317.6,889.5 319.7,888.5 321.7,889.6 323.8,889 326.3,887.4 328.9,885.7 331.4,883.9 334.4,883.6 337.3,882.5 340,881 342.2,885.5 344.4,889.4 346.5,890.6 348.5,889.9 350.6,889.9 352.6,889 354.7,889.5 356.7,889.3 358.8,889.1 360.9,888.6 362.9,889.1 365,888.3 367,888.1 369.1,887.7 371.1,888.4 373.2,887.4 375.2,887.6 377.2,887.3 379.2,888.2 381.2,888.1 383.3,888.1 385.3,887.3 387.3,887.9 389.3,887.7 391.3,887.3 393.3,887.2 395.3,888.8 397.3,887.4 399.4,887.7 401.4,887.6 403.4,888.2 405.4,887.3 407.4,888 409.4,887.8 411.4,888.5 413.4,887.2 415.4,887.7 417.5,888 419.5,888.8 421.5,888 423.5,888 425.5,888.3 427.6,887.8 429.6,887.4 431.7,888.3 433.7,889 435.8,888.8 437.8,888.2 439.9,888.9 441.9,889.3 444,888.4 446,889.1 448.1,888.8 450.1,888.7 452.2,888.9 454.2,888.8 456.3,889.2 458.4,888.7 460.4,889.4 462.5,889 464.5,890.2 466.6,890 468.6,889.2 470.7,890.5 472.7,889.6 474.8,890.2 476.8,890.4 478.9,890.1 480.9,890.2 483,890.5 485,890 487,891.2 489.1,890.1 491.1,891.2 493.1,890.3 495.1,890.5 497.1,890.6 499.2,890.1 501.2,890.3 503.2,890.7 505.2,890.8 507.3,891.6 509.3,891.8 511.3,890.3 513.3,891.1 515.3,890.5 517.4,891.6 519.4,890.9 521.4,891.8 523.4,891.3 525.4,890.6 527.5,890.5 529.5,890.9 531.5,891.9 533.5,890.8 535.6,891.4 537.6,891.2 539.6,891.2 541.6,892 543.6,891.1 545.7,891.9 547.7,891.8 549.7,892.3 551.7,891.7 553.7,892.3 555.8,891.6 557.8,891.8 559.8,891.9 561.8,892.3 563.9,892.4 565.9,891.2 567.9,891.3 569.9,892 571.9,892.4 574,892 576,891.7 578,892.8 580,891.7 582,891.4 584.1,891.4 586.1,891.4 588.1,892.5 590.1,891.6 592.2,892.6 594.2,892.9 596.2,893.1 598.2,892.8 600.2,892.2 602.3,892.6 604.3,893 606.3,892.8 608.3,892.1 610.3,892.9 612.4,891.9 614.4,892.3 616.4,893.4 618.4,892.6 620.5,892.3 622.5,893.1 624.5,892.6 626.5,892 628.5,892 630.6,892.4 632.6,892.6 634.6,893.6 636.6,892.5 638.6,893.5 640.7,893.5 642.7,892.9 644.7,893.8 646.7,893.5 648.8,893.1 650.8,892.7 652.8,893.1 654.8,893.8 656.8,893.3 658.9,892.7 660.9,893.1 662.9,893.3" fill="none" stroke="#ff14ff" stroke-width="2.3" stroke-linejoin="round"/>
<ellipse cx="190" cy="895" rx="73" ry="206.5" fill="none" stroke="#7a48c0" stroke-width="2.4" stroke-dasharray="9,6"/>
<rect x="84.5" y="604" width="578.5" height="506.5" fill="none" stroke="#222" stroke-width="2.6"/>
<line x1="76.5" y1="1110.5" x2="84.5" y2="1110.5" stroke="#222" stroke-width="2.2"/>
<line x1="79.5" y1="1068.3" x2="84.5" y2="1068.3" stroke="#222" stroke-width="2.2"/>
<line x1="76.5" y1="1026.1" x2="84.5" y2="1026.1" stroke="#222" stroke-width="2.2"/>
<line x1="79.5" y1="983.9" x2="84.5" y2="983.9" stroke="#222" stroke-width="2.2"/>
<line x1="76.5" y1="941.7" x2="84.5" y2="941.7" stroke="#222" stroke-width="2.2"/>
<line x1="79.5" y1="899.4" x2="84.5" y2="899.4" stroke="#222" stroke-width="2.2"/>
<line x1="76.5" y1="857.2" x2="84.5" y2="857.2" stroke="#222" stroke-width="2.2"/>
<line x1="79.5" y1="815" x2="84.5" y2="815" stroke="#222" stroke-width="2.2"/>
<line x1="76.5" y1="772.8" x2="84.5" y2="772.8" stroke="#222" stroke-width="2.2"/>
<line x1="79.5" y1="730.6" x2="84.5" y2="730.6" stroke="#222" stroke-width="2.2"/>
<line x1="76.5" y1="688.4" x2="84.5" y2="688.4" stroke="#222" stroke-width="2.2"/>
<line x1="79.5" y1="646.2" x2="84.5" y2="646.2" stroke="#222" stroke-width="2.2"/>
<line x1="76.5" y1="604" x2="84.5" y2="604" stroke="#222" stroke-width="2.2"/>
<line x1="84.5" y1="1110.5" x2="84.5" y2="1119.5" stroke="#222" stroke-width="2.2"/>
<line x1="132.7" y1="1110.5" x2="132.7" y2="1115.5" stroke="#222" stroke-width="2.2"/>
<line x1="180.9" y1="1110.5" x2="180.9" y2="1119.5" stroke="#222" stroke-width="2.2"/>
<line x1="229.1" y1="1110.5" x2="229.1" y2="1115.5" stroke="#222" stroke-width="2.2"/>
<line x1="277.3" y1="1110.5" x2="277.3" y2="1119.5" stroke="#222" stroke-width="2.2"/>
<line x1="325.5" y1="1110.5" x2="325.5" y2="1115.5" stroke="#222" stroke-width="2.2"/>
<line x1="373.7" y1="1110.5" x2="373.7" y2="1119.5" stroke="#222" stroke-width="2.2"/>
<line x1="421.9" y1="1110.5" x2="421.9" y2="1115.5" stroke="#222" stroke-width="2.2"/>
<line x1="470.1" y1="1110.5" x2="470.1" y2="1119.5" stroke="#222" stroke-width="2.2"/>
<line x1="518.3" y1="1110.5" x2="518.3" y2="1115.5" stroke="#222" stroke-width="2.2"/>
<line x1="566.5" y1="1110.5" x2="566.5" y2="1119.5" stroke="#222" stroke-width="2.2"/>
<line x1="614.7" y1="1110.5" x2="614.7" y2="1115.5" stroke="#222" stroke-width="2.2"/>
<line x1="662.9" y1="1110.5" x2="662.9" y2="1119.5" stroke="#222" stroke-width="2.2"/>
<text class="S" x="84.5" y="1145" font-size="20" text-anchor="middle" fill="#1a1a1a">10</text>
<text class="S" x="180.9" y="1145" font-size="20" text-anchor="middle" fill="#1a1a1a">20</text>
<text class="S" x="277.3" y="1145" font-size="20" text-anchor="middle" fill="#1a1a1a">30</text>
<text class="S" x="373.7" y="1145" font-size="20" text-anchor="middle" fill="#1a1a1a">40</text>
<text class="S" x="470.1" y="1145" font-size="20" text-anchor="middle" fill="#1a1a1a">50</text>
<text class="S" x="566.5" y="1145" font-size="20" text-anchor="middle" fill="#1a1a1a">60</text>
<text class="S" x="662.9" y="1145" font-size="20" text-anchor="middle" fill="#1a1a1a">70</text>
<text class="S" x="380.5" y="1174" font-size="26" text-anchor="middle" fill="#1a1a1a">2&#952; (degree)</text>
<text class="S" x="0" y="0" font-size="26.3" text-anchor="middle" fill="#1a1a1a" transform="translate(65,856) rotate(-90)">Intensity (a.u.)</text>
<line x1="275" y1="630" x2="322.5" y2="630" stroke="#118811" stroke-width="2.5"/>
<line x1="275" y1="658" x2="322.5" y2="658" stroke="#ff14ff" stroke-width="2.5"/>
<text class="R" x="329" y="638" font-size="21.2" font-weight="bold" fill="#000">Before thermal cycling experiment</text>
<text class="R" x="329" y="666" font-size="21.2" font-weight="bold" fill="#000">After thermal cycling experiment</text>
<text class="R" x="5.3" y="643.5" font-size="50" font-weight="bold" fill="#000">(d)</text>
<g clip-path="url(#Pclip)">
<rect x="770" y="618.5" width="576.5" height="393.5" fill="#66265f"/>
<path d="M875.4,620 C892.2,615.3 957.8,610.7 976.2,618.1 C994.5,625.6 990.5,653.6 985.5,664.8 C980.5,676 961.5,683.1 946.3,685.3 C931,687.5 905.8,684.4 894,677.9 C882.2,671.3 878.5,655.8 875.4,646.1 C872.2,636.5 858.6,624.7 875.4,620Z" fill="none" stroke="#220422" stroke-width="7" opacity="0.55" filter="url(#blur2)"/>
<g clip-path="url(#Pb0)"><path d="M875.4,620 C892.2,615.3 957.8,610.7 976.2,618.1 C994.5,625.6 990.5,653.6 985.5,664.8 C980.5,676 961.5,683.1 946.3,685.3 C931,687.5 905.8,684.4 894,677.9 C882.2,671.3 878.5,655.8 875.4,646.1 C872.2,636.5 858.6,624.7 875.4,620Z" fill="url(#Pg0)"/><path d="M875.4,620 C892.2,615.3 957.8,610.7 976.2,618.1 C994.5,625.6 990.5,653.6 985.5,664.8 C980.5,676 961.5,683.1 946.3,685.3 C931,687.5 905.8,684.4 894,677.9 C882.2,671.3 878.5,655.8 875.4,646.1 C872.2,636.5 858.6,624.7 875.4,620Z" fill="none" stroke="#ff7cff" stroke-width="18" filter="url(#blur5)" transform="translate(-6,-6)"/><path d="M875.4,620 C892.2,615.3 957.8,610.7 976.2,618.1 C994.5,625.6 990.5,653.6 985.5,664.8 C980.5,676 961.5,683.1 946.3,685.3 C931,687.5 905.8,684.4 894,677.9 C882.2,671.3 878.5,655.8 875.4,646.1 C872.2,636.5 858.6,624.7 875.4,620Z" fill="none" stroke="#ffe8ff" stroke-width="3.6" opacity="0.95" filter="url(#blurE)"/></g>
<path d="M982.6,613.9 C1012.4,607 1131.6,609.5 1161.8,613.9 C1191.9,618.2 1165.5,628.8 1163.6,640 C1161.8,651.2 1155.2,668 1150.6,681.1 C1145.9,694.1 1142.5,709.7 1135.6,718.4 C1128.8,727.1 1119.4,729.6 1109.5,733.3 C1099.5,737.1 1089,742.1 1075.9,740.8 C1062.8,739.6 1044.8,733.3 1031.1,725.9 C1017.4,718.4 1001.8,707.8 993.8,696 C985.7,684.2 984.4,668.6 982.6,654.9 C980.7,641.3 952.7,620.7 982.6,613.9Z" fill="none" stroke="#220422" stroke-width="7" opacity="0.55" filter="url(#blur2)"/>
<g clip-path="url(#Pb1)"><path d="M982.6,613.9 C1012.4,607 1131.6,609.5 1161.8,613.9 C1191.9,618.2 1165.5,628.8 1163.6,640 C1161.8,651.2 1155.2,668 1150.6,681.1 C1145.9,694.1 1142.5,709.7 1135.6,718.4 C1128.8,727.1 1119.4,729.6 1109.5,733.3 C1099.5,737.1 1089,742.1 1075.9,740.8 C1062.8,739.6 1044.8,733.3 1031.1,725.9 C1017.4,718.4 1001.8,707.8 993.8,696 C985.7,684.2 984.4,668.6 982.6,654.9 C980.7,641.3 952.7,620.7 982.6,613.9Z" fill="url(#Pg1)"/><path d="M982.6,613.9 C1012.4,607 1131.6,609.5 1161.8,613.9 C1191.9,618.2 1165.5,628.8 1163.6,640 C1161.8,651.2 1155.2,668 1150.6,681.1 C1145.9,694.1 1142.5,709.7 1135.6,718.4 C1128.8,727.1 1119.4,729.6 1109.5,733.3 C1099.5,737.1 1089,742.1 1075.9,740.8 C1062.8,739.6 1044.8,733.3 1031.1,725.9 C1017.4,718.4 1001.8,707.8 993.8,696 C985.7,684.2 984.4,668.6 982.6,654.9 C980.7,641.3 952.7,620.7 982.6,613.9Z" fill="none" stroke="#ff7cff" stroke-width="18" filter="url(#blur5)" transform="translate(3,3)"/><path d="M982.6,613.9 C1012.4,607 1131.6,609.5 1161.8,613.9 C1191.9,618.2 1165.5,628.8 1163.6,640 C1161.8,651.2 1155.2,668 1150.6,681.1 C1145.9,694.1 1142.5,709.7 1135.6,718.4 C1128.8,727.1 1119.4,729.6 1109.5,733.3 C1099.5,737.1 1089,742.1 1075.9,740.8 C1062.8,739.6 1044.8,733.3 1031.1,725.9 C1017.4,718.4 1001.8,707.8 993.8,696 C985.7,684.2 984.4,668.6 982.6,654.9 C980.7,641.3 952.7,620.7 982.6,613.9Z" fill="none" stroke="#ffe8ff" stroke-width="3.6" opacity="0.95" filter="url(#blurE)"/></g>
<path d="M769.5,712.8 C773.9,701 785.7,707.2 795.7,709 C805.6,710.9 822.1,715.9 829.3,724 C836.4,732.1 839.2,747 838.6,757.6 C838,768.2 834.5,781.2 825.5,787.4 C816.5,793.7 793.8,796.1 784.5,794.9 C775.1,793.7 772,793.7 769.5,780 C767,766.3 765.2,724.6 769.5,712.8Z" fill="none" stroke="#220422" stroke-width="7" opacity="0.55" filter="url(#blur2)"/>
<g clip-path="url(#Pb2)"><path d="M769.5,712.8 C773.9,701 785.7,707.2 795.7,709 C805.6,710.9 822.1,715.9 829.3,724 C836.4,732.1 839.2,747 838.6,757.6 C838,768.2 834.5,781.2 825.5,787.4 C816.5,793.7 793.8,796.1 784.5,794.9 C775.1,793.7 772,793.7 769.5,780 C767,766.3 765.2,724.6 769.5,712.8Z" fill="url(#Pg2)"/><path d="M769.5,712.8 C773.9,701 785.7,707.2 795.7,709 C805.6,710.9 822.1,715.9 829.3,724 C836.4,732.1 839.2,747 838.6,757.6 C838,768.2 834.5,781.2 825.5,787.4 C816.5,793.7 793.8,796.1 784.5,794.9 C775.1,793.7 772,793.7 769.5,780 C767,766.3 765.2,724.6 769.5,712.8Z" fill="none" stroke="#ff7cff" stroke-width="18" filter="url(#blur5)" transform="translate(3,3)"/><path d="M769.5,712.8 C773.9,701 785.7,707.2 795.7,709 C805.6,710.9 822.1,715.9 829.3,724 C836.4,732.1 839.2,747 838.6,757.6 C838,768.2 834.5,781.2 825.5,787.4 C816.5,793.7 793.8,796.1 784.5,794.9 C775.1,793.7 772,793.7 769.5,780 C767,766.3 765.2,724.6 769.5,712.8Z" fill="none" stroke="#ffe8ff" stroke-width="3.6" opacity="0.95" filter="url(#blurE)"/></g>
<path d="M766.7,794 C774.8,783.4 799.1,787.8 815.3,790.3 C831.5,792.7 849.5,801.5 863.8,808.9 C878.1,816.4 892.4,822.6 901.1,835 C909.8,847.5 916.1,871.1 916.1,883.6 C916.1,896 911.7,904.1 901.1,909.7 C890.6,915.3 868.2,918.4 852.6,917.2 C837,915.9 820.9,909.1 807.8,902.2 C794.7,895.4 781.1,884.2 774.2,876.1 C767.4,868 768,867.4 766.7,853.7 C765.5,840 758.7,804.6 766.7,794Z" fill="none" stroke="#220422" stroke-width="7" opacity="0.55" filter="url(#blur2)"/>
<g clip-path="url(#Pb3)"><path d="M766.7,794 C774.8,783.4 799.1,787.8 815.3,790.3 C831.5,792.7 849.5,801.5 863.8,808.9 C878.1,816.4 892.4,822.6 901.1,835 C909.8,847.5 916.1,871.1 916.1,883.6 C916.1,896 911.7,904.1 901.1,909.7 C890.6,915.3 868.2,918.4 852.6,917.2 C837,915.9 820.9,909.1 807.8,902.2 C794.7,895.4 781.1,884.2 774.2,876.1 C767.4,868 768,867.4 766.7,853.7 C765.5,840 758.7,804.6 766.7,794Z" fill="url(#Pg3)"/><path d="M766.7,794 C774.8,783.4 799.1,787.8 815.3,790.3 C831.5,792.7 849.5,801.5 863.8,808.9 C878.1,816.4 892.4,822.6 901.1,835 C909.8,847.5 916.1,871.1 916.1,883.6 C916.1,896 911.7,904.1 901.1,909.7 C890.6,915.3 868.2,918.4 852.6,917.2 C837,915.9 820.9,909.1 807.8,902.2 C794.7,895.4 781.1,884.2 774.2,876.1 C767.4,868 768,867.4 766.7,853.7 C765.5,840 758.7,804.6 766.7,794Z" fill="none" stroke="#ff7cff" stroke-width="18" filter="url(#blur5)" transform="translate(3,3)"/><path d="M766.7,794 C774.8,783.4 799.1,787.8 815.3,790.3 C831.5,792.7 849.5,801.5 863.8,808.9 C878.1,816.4 892.4,822.6 901.1,835 C909.8,847.5 916.1,871.1 916.1,883.6 C916.1,896 911.7,904.1 901.1,909.7 C890.6,915.3 868.2,918.4 852.6,917.2 C837,915.9 820.9,909.1 807.8,902.2 C794.7,895.4 781.1,884.2 774.2,876.1 C767.4,868 768,867.4 766.7,853.7 C765.5,840 758.7,804.6 766.7,794Z" fill="none" stroke="#ffe8ff" stroke-width="3.6" opacity="0.95" filter="url(#blurE)"/></g>
<path d="M769.4,880.1 C774.4,857.7 789.3,877 799.3,883.9 C809.2,890.7 823.6,908.8 829.2,921.2 C834.8,933.6 834.8,942.4 832.9,958.5 C831,974.7 828.5,1008.3 818,1018.3 C807.4,1028.2 777.5,1041.3 769.4,1018.3 C761.3,995.2 764.4,902.5 769.4,880.1Z" fill="none" stroke="#220422" stroke-width="7" opacity="0.55" filter="url(#blur2)"/>
<g clip-path="url(#Pb4)"><path d="M769.4,880.1 C774.4,857.7 789.3,877 799.3,883.9 C809.2,890.7 823.6,908.8 829.2,921.2 C834.8,933.6 834.8,942.4 832.9,958.5 C831,974.7 828.5,1008.3 818,1018.3 C807.4,1028.2 777.5,1041.3 769.4,1018.3 C761.3,995.2 764.4,902.5 769.4,880.1Z" fill="url(#Pg4)"/><path d="M769.4,880.1 C774.4,857.7 789.3,877 799.3,883.9 C809.2,890.7 823.6,908.8 829.2,921.2 C834.8,933.6 834.8,942.4 832.9,958.5 C831,974.7 828.5,1008.3 818,1018.3 C807.4,1028.2 777.5,1041.3 769.4,1018.3 C761.3,995.2 764.4,902.5 769.4,880.1Z" fill="none" stroke="#ff7cff" stroke-width="18" filter="url(#blur5)" transform="translate(3,3)"/><path d="M769.4,880.1 C774.4,857.7 789.3,877 799.3,883.9 C809.2,890.7 823.6,908.8 829.2,921.2 C834.8,933.6 834.8,942.4 832.9,958.5 C831,974.7 828.5,1008.3 818,1018.3 C807.4,1028.2 777.5,1041.3 769.4,1018.3 C761.3,995.2 764.4,902.5 769.4,880.1Z" fill="none" stroke="#ffe8ff" stroke-width="3.6" opacity="0.95" filter="url(#blurE)"/></g>
<path d="M933.9,880.3 C937.7,869.1 945.1,858.5 956.3,850.4 C967.5,842.3 987.4,831.7 1001.1,831.7 C1014.8,831.7 1031,838 1038.5,850.4 C1045.9,862.8 1047.2,890.8 1045.9,906.4 C1044.7,922 1040.3,935 1031,943.7 C1021.7,952.4 1003.6,958 989.9,958.7 C976.2,959.3 958.2,954.3 948.9,947.5 C939.5,940.6 936.4,928.8 933.9,917.6 C931.4,906.4 930.2,891.5 933.9,880.3Z" fill="none" stroke="#220422" stroke-width="7" opacity="0.55" filter="url(#blur2)"/>
<g clip-path="url(#Pb5)"><path d="M933.9,880.3 C937.7,869.1 945.1,858.5 956.3,850.4 C967.5,842.3 987.4,831.7 1001.1,831.7 C1014.8,831.7 1031,838 1038.5,850.4 C1045.9,862.8 1047.2,890.8 1045.9,906.4 C1044.7,922 1040.3,935 1031,943.7 C1021.7,952.4 1003.6,958 989.9,958.7 C976.2,959.3 958.2,954.3 948.9,947.5 C939.5,940.6 936.4,928.8 933.9,917.6 C931.4,906.4 930.2,891.5 933.9,880.3Z" fill="url(#Pg5)"/><path d="M933.9,880.3 C937.7,869.1 945.1,858.5 956.3,850.4 C967.5,842.3 987.4,831.7 1001.1,831.7 C1014.8,831.7 1031,838 1038.5,850.4 C1045.9,862.8 1047.2,890.8 1045.9,906.4 C1044.7,922 1040.3,935 1031,943.7 C1021.7,952.4 1003.6,958 989.9,958.7 C976.2,959.3 958.2,954.3 948.9,947.5 C939.5,940.6 936.4,928.8 933.9,917.6 C931.4,906.4 930.2,891.5 933.9,880.3Z" fill="none" stroke="#ff7cff" stroke-width="18" filter="url(#blur5)" transform="translate(3,3)"/><path d="M933.9,880.3 C937.7,869.1 945.1,858.5 956.3,850.4 C967.5,842.3 987.4,831.7 1001.1,831.7 C1014.8,831.7 1031,838 1038.5,850.4 C1045.9,862.8 1047.2,890.8 1045.9,906.4 C1044.7,922 1040.3,935 1031,943.7 C1021.7,952.4 1003.6,958 989.9,958.7 C976.2,959.3 958.2,954.3 948.9,947.5 C939.5,940.6 936.4,928.8 933.9,917.6 C931.4,906.4 930.2,891.5 933.9,880.3Z" fill="none" stroke="#ffe8ff" stroke-width="3.6" opacity="0.95" filter="url(#blurE)"/></g>
<path d="M974.4,1016 C946.4,1009.2 947,986.1 952,974.9 C957,963.7 983.1,955 1004.2,948.8 C1025.4,942.6 1060.2,936.4 1078.9,937.6 C1097.6,938.9 1109.4,943.2 1116.2,956.3 C1123.1,969.3 1143.6,1006.1 1120,1016 C1096.3,1026 1002.4,1022.9 974.4,1016Z" fill="none" stroke="#220422" stroke-width="7" opacity="0.55" filter="url(#blur2)"/>
<g clip-path="url(#Pb6)"><path d="M974.4,1016 C946.4,1009.2 947,986.1 952,974.9 C957,963.7 983.1,955 1004.2,948.8 C1025.4,942.6 1060.2,936.4 1078.9,937.6 C1097.6,938.9 1109.4,943.2 1116.2,956.3 C1123.1,969.3 1143.6,1006.1 1120,1016 C1096.3,1026 1002.4,1022.9 974.4,1016Z" fill="url(#Pg6)"/><path d="M974.4,1016 C946.4,1009.2 947,986.1 952,974.9 C957,963.7 983.1,955 1004.2,948.8 C1025.4,942.6 1060.2,936.4 1078.9,937.6 C1097.6,938.9 1109.4,943.2 1116.2,956.3 C1123.1,969.3 1143.6,1006.1 1120,1016 C1096.3,1026 1002.4,1022.9 974.4,1016Z" fill="none" stroke="#ff7cff" stroke-width="18" filter="url(#blur5)" transform="translate(3,3)"/><path d="M974.4,1016 C946.4,1009.2 947,986.1 952,974.9 C957,963.7 983.1,955 1004.2,948.8 C1025.4,942.6 1060.2,936.4 1078.9,937.6 C1097.6,938.9 1109.4,943.2 1116.2,956.3 C1123.1,969.3 1143.6,1006.1 1120,1016 C1096.3,1026 1002.4,1022.9 974.4,1016Z" fill="none" stroke="#ffe8ff" stroke-width="3.6" opacity="0.95" filter="url(#blurE)"/></g>
<path d="M822.4,1016.6 C801.8,1006.6 824.8,970.6 829.8,956.9 C834.8,943.2 842.9,938.8 852.2,934.5 C861.6,930.1 874,929.5 885.8,930.7 C897.6,932 912.6,934.5 923.2,941.9 C933.7,949.4 944.3,963.1 949.3,975.5 C954.3,988 974.2,1009.8 953,1016.6 C931.9,1023.4 842.9,1026.6 822.4,1016.6Z" fill="none" stroke="#220422" stroke-width="7" opacity="0.55" filter="url(#blur2)"/>
<g clip-path="url(#Pb7)"><path d="M822.4,1016.6 C801.8,1006.6 824.8,970.6 829.8,956.9 C834.8,943.2 842.9,938.8 852.2,934.5 C861.6,930.1 874,929.5 885.8,930.7 C897.6,932 912.6,934.5 923.2,941.9 C933.7,949.4 944.3,963.1 949.3,975.5 C954.3,988 974.2,1009.8 953,1016.6 C931.9,1023.4 842.9,1026.6 822.4,1016.6Z" fill="url(#Pg7)"/><path d="M822.4,1016.6 C801.8,1006.6 824.8,970.6 829.8,956.9 C834.8,943.2 842.9,938.8 852.2,934.5 C861.6,930.1 874,929.5 885.8,930.7 C897.6,932 912.6,934.5 923.2,941.9 C933.7,949.4 944.3,963.1 949.3,975.5 C954.3,988 974.2,1009.8 953,1016.6 C931.9,1023.4 842.9,1026.6 822.4,1016.6Z" fill="none" stroke="#ff7cff" stroke-width="18" filter="url(#blur5)" transform="translate(3,3)"/><path d="M822.4,1016.6 C801.8,1006.6 824.8,970.6 829.8,956.9 C834.8,943.2 842.9,938.8 852.2,934.5 C861.6,930.1 874,929.5 885.8,930.7 C897.6,932 912.6,934.5 923.2,941.9 C933.7,949.4 944.3,963.1 949.3,975.5 C954.3,988 974.2,1009.8 953,1016.6 C931.9,1023.4 842.9,1026.6 822.4,1016.6Z" fill="none" stroke="#ffe8ff" stroke-width="3.6" opacity="0.95" filter="url(#blurE)"/></g>
<path d="M1036.8,756.5 C1038.6,749.1 1038.6,737.9 1048,734.2 C1057.3,730.4 1082.2,737.3 1092.8,734.2 C1103.3,731 1103.3,718 1111.4,715.5 C1119.5,713 1130.7,712.4 1141.3,719.2 C1151.9,726.1 1168.7,745.4 1174.9,756.5 C1181.1,767.7 1183,777.1 1178.6,786.4 C1174.3,795.7 1162.4,807.9 1148.7,812.5 C1135.1,817.2 1113.3,815.3 1096.5,814.4 C1079.7,813.5 1057.9,812.9 1048,806.9 C1038,801 1038.6,787.3 1036.8,778.9 C1034.9,770.5 1034.9,764 1036.8,756.5Z" fill="none" stroke="#220422" stroke-width="7" opacity="0.55" filter="url(#blur2)"/>
<g clip-path="url(#Pb8)"><path d="M1036.8,756.5 C1038.6,749.1 1038.6,737.9 1048,734.2 C1057.3,730.4 1082.2,737.3 1092.8,734.2 C1103.3,731 1103.3,718 1111.4,715.5 C1119.5,713 1130.7,712.4 1141.3,719.2 C1151.9,726.1 1168.7,745.4 1174.9,756.5 C1181.1,767.7 1183,777.1 1178.6,786.4 C1174.3,795.7 1162.4,807.9 1148.7,812.5 C1135.1,817.2 1113.3,815.3 1096.5,814.4 C1079.7,813.5 1057.9,812.9 1048,806.9 C1038,801 1038.6,787.3 1036.8,778.9 C1034.9,770.5 1034.9,764 1036.8,756.5Z" fill="url(#Pg8)"/><path d="M1036.8,756.5 C1038.6,749.1 1038.6,737.9 1048,734.2 C1057.3,730.4 1082.2,737.3 1092.8,734.2 C1103.3,731 1103.3,718 1111.4,715.5 C1119.5,713 1130.7,712.4 1141.3,719.2 C1151.9,726.1 1168.7,745.4 1174.9,756.5 C1181.1,767.7 1183,777.1 1178.6,786.4 C1174.3,795.7 1162.4,807.9 1148.7,812.5 C1135.1,817.2 1113.3,815.3 1096.5,814.4 C1079.7,813.5 1057.9,812.9 1048,806.9 C1038,801 1038.6,787.3 1036.8,778.9 C1034.9,770.5 1034.9,764 1036.8,756.5Z" fill="none" stroke="#ff7cff" stroke-width="18" filter="url(#blur5)" transform="translate(3,3)"/><path d="M1036.8,756.5 C1038.6,749.1 1038.6,737.9 1048,734.2 C1057.3,730.4 1082.2,737.3 1092.8,734.2 C1103.3,731 1103.3,718 1111.4,715.5 C1119.5,713 1130.7,712.4 1141.3,719.2 C1151.9,726.1 1168.7,745.4 1174.9,756.5 C1181.1,767.7 1183,777.1 1178.6,786.4 C1174.3,795.7 1162.4,807.9 1148.7,812.5 C1135.1,817.2 1113.3,815.3 1096.5,814.4 C1079.7,813.5 1057.9,812.9 1048,806.9 C1038,801 1038.6,787.3 1036.8,778.9 C1034.9,770.5 1034.9,764 1036.8,756.5Z" fill="none" stroke="#ffe8ff" stroke-width="3.6" opacity="0.95" filter="url(#blurE)"/></g>
<path d="M1047.1,852.2 C1050.8,842.2 1061.4,829.1 1073.2,822.3 C1085,815.4 1103.1,812.3 1118,811.1 C1132.9,809.8 1152.8,808 1162.8,814.8 C1172.8,821.7 1175.2,838.5 1177.7,852.2 C1180.2,865.8 1180.2,884.5 1177.7,897 C1175.2,909.4 1171.5,919.4 1162.8,926.8 C1154.1,934.3 1139.2,940.5 1125.5,941.7 C1111.8,943 1091.9,939.9 1080.7,934.3 C1069.5,928.7 1063.2,916.9 1058.3,908.2 C1053.3,899.4 1052.7,891.4 1050.8,882 C1048.9,872.7 1043.3,862.1 1047.1,852.2Z" fill="none" stroke="#220422" stroke-width="7" opacity="0.55" filter="url(#blur2)"/>
<g clip-path="url(#Pb9)"><path d="M1047.1,852.2 C1050.8,842.2 1061.4,829.1 1073.2,822.3 C1085,815.4 1103.1,812.3 1118,811.1 C1132.9,809.8 1152.8,808 1162.8,814.8 C1172.8,821.7 1175.2,838.5 1177.7,852.2 C1180.2,865.8 1180.2,884.5 1177.7,897 C1175.2,909.4 1171.5,919.4 1162.8,926.8 C1154.1,934.3 1139.2,940.5 1125.5,941.7 C1111.8,943 1091.9,939.9 1080.7,934.3 C1069.5,928.7 1063.2,916.9 1058.3,908.2 C1053.3,899.4 1052.7,891.4 1050.8,882 C1048.9,872.7 1043.3,862.1 1047.1,852.2Z" fill="url(#Pg9)"/><path d="M1047.1,852.2 C1050.8,842.2 1061.4,829.1 1073.2,822.3 C1085,815.4 1103.1,812.3 1118,811.1 C1132.9,809.8 1152.8,808 1162.8,814.8 C1172.8,821.7 1175.2,838.5 1177.7,852.2 C1180.2,865.8 1180.2,884.5 1177.7,897 C1175.2,909.4 1171.5,919.4 1162.8,926.8 C1154.1,934.3 1139.2,940.5 1125.5,941.7 C1111.8,943 1091.9,939.9 1080.7,934.3 C1069.5,928.7 1063.2,916.9 1058.3,908.2 C1053.3,899.4 1052.7,891.4 1050.8,882 C1048.9,872.7 1043.3,862.1 1047.1,852.2Z" fill="none" stroke="#ff7cff" stroke-width="18" filter="url(#blur5)" transform="translate(3,3)"/><path d="M1047.1,852.2 C1050.8,842.2 1061.4,829.1 1073.2,822.3 C1085,815.4 1103.1,812.3 1118,811.1 C1132.9,809.8 1152.8,808 1162.8,814.8 C1172.8,821.7 1175.2,838.5 1177.7,852.2 C1180.2,865.8 1180.2,884.5 1177.7,897 C1175.2,909.4 1171.5,919.4 1162.8,926.8 C1154.1,934.3 1139.2,940.5 1125.5,941.7 C1111.8,943 1091.9,939.9 1080.7,934.3 C1069.5,928.7 1063.2,916.9 1058.3,908.2 C1053.3,899.4 1052.7,891.4 1050.8,882 C1048.9,872.7 1043.3,862.1 1047.1,852.2Z" fill="none" stroke="#ffe8ff" stroke-width="3.6" opacity="0.95" filter="url(#blurE)"/></g>
<path d="M1154.5,931.3 C1160.8,915.1 1179.4,922 1195.6,920.1 C1211.8,918.2 1239.8,913.9 1251.6,920.1 C1263.4,926.3 1264,941.3 1266.5,957.4 C1269,973.6 1284.6,1007.2 1266.5,1017.2 C1248.5,1027.1 1176.9,1031.5 1158.3,1017.2 C1139.6,1002.9 1148.3,947.5 1154.5,931.3Z" fill="none" stroke="#220422" stroke-width="7" opacity="0.55" filter="url(#blur2)"/>
<g clip-path="url(#Pb10)"><path d="M1154.5,931.3 C1160.8,915.1 1179.4,922 1195.6,920.1 C1211.8,918.2 1239.8,913.9 1251.6,920.1 C1263.4,926.3 1264,941.3 1266.5,957.4 C1269,973.6 1284.6,1007.2 1266.5,1017.2 C1248.5,1027.1 1176.9,1031.5 1158.3,1017.2 C1139.6,1002.9 1148.3,947.5 1154.5,931.3Z" fill="url(#Pg10)"/><path d="M1154.5,931.3 C1160.8,915.1 1179.4,922 1195.6,920.1 C1211.8,918.2 1239.8,913.9 1251.6,920.1 C1263.4,926.3 1264,941.3 1266.5,957.4 C1269,973.6 1284.6,1007.2 1266.5,1017.2 C1248.5,1027.1 1176.9,1031.5 1158.3,1017.2 C1139.6,1002.9 1148.3,947.5 1154.5,931.3Z" fill="none" stroke="#ff7cff" stroke-width="18" filter="url(#blur5)" transform="translate(3,3)"/><path d="M1154.5,931.3 C1160.8,915.1 1179.4,922 1195.6,920.1 C1211.8,918.2 1239.8,913.9 1251.6,920.1 C1263.4,926.3 1264,941.3 1266.5,957.4 C1269,973.6 1284.6,1007.2 1266.5,1017.2 C1248.5,1027.1 1176.9,1031.5 1158.3,1017.2 C1139.6,1002.9 1148.3,947.5 1154.5,931.3Z" fill="none" stroke="#ffe8ff" stroke-width="3.6" opacity="0.95" filter="url(#blurE)"/></g>
<path d="M1184.7,677.8 C1189.1,666.6 1201.5,661 1210.9,659.2 C1220.2,657.3 1231.4,666 1240.7,666.6 C1250.1,667.3 1261.3,657.9 1266.9,662.9 C1272.5,667.9 1267.5,687.8 1274.3,696.5 C1281.2,705.2 1298.6,710.2 1307.9,715.2 C1317.3,720.1 1326.6,717 1330.3,726.4 C1334.1,735.7 1334.1,760.6 1330.3,771.2 C1326.6,781.7 1321.6,785.5 1307.9,789.8 C1294.2,794.2 1264.4,799.2 1248.2,797.3 C1232,795.4 1221.4,790.5 1210.9,778.6 C1200.3,766.8 1189.1,743.2 1184.7,726.4 C1180.4,709.6 1180.4,689 1184.7,677.8Z" fill="none" stroke="#220422" stroke-width="7" opacity="0.55" filter="url(#blur2)"/>
<g clip-path="url(#Pb11)"><path d="M1184.7,677.8 C1189.1,666.6 1201.5,661 1210.9,659.2 C1220.2,657.3 1231.4,666 1240.7,666.6 C1250.1,667.3 1261.3,657.9 1266.9,662.9 C1272.5,667.9 1267.5,687.8 1274.3,696.5 C1281.2,705.2 1298.6,710.2 1307.9,715.2 C1317.3,720.1 1326.6,717 1330.3,726.4 C1334.1,735.7 1334.1,760.6 1330.3,771.2 C1326.6,781.7 1321.6,785.5 1307.9,789.8 C1294.2,794.2 1264.4,799.2 1248.2,797.3 C1232,795.4 1221.4,790.5 1210.9,778.6 C1200.3,766.8 1189.1,743.2 1184.7,726.4 C1180.4,709.6 1180.4,689 1184.7,677.8Z" fill="url(#Pg11)"/><path d="M1184.7,677.8 C1189.1,666.6 1201.5,661 1210.9,659.2 C1220.2,657.3 1231.4,666 1240.7,666.6 C1250.1,667.3 1261.3,657.9 1266.9,662.9 C1272.5,667.9 1267.5,687.8 1274.3,696.5 C1281.2,705.2 1298.6,710.2 1307.9,715.2 C1317.3,720.1 1326.6,717 1330.3,726.4 C1334.1,735.7 1334.1,760.6 1330.3,771.2 C1326.6,781.7 1321.6,785.5 1307.9,789.8 C1294.2,794.2 1264.4,799.2 1248.2,797.3 C1232,795.4 1221.4,790.5 1210.9,778.6 C1200.3,766.8 1189.1,743.2 1184.7,726.4 C1180.4,709.6 1180.4,689 1184.7,677.8Z" fill="none" stroke="#ff7cff" stroke-width="18" filter="url(#blur5)" transform="translate(3,3)"/><path d="M1184.7,677.8 C1189.1,666.6 1201.5,661 1210.9,659.2 C1220.2,657.3 1231.4,666 1240.7,666.6 C1250.1,667.3 1261.3,657.9 1266.9,662.9 C1272.5,667.9 1267.5,687.8 1274.3,696.5 C1281.2,705.2 1298.6,710.2 1307.9,715.2 C1317.3,720.1 1326.6,717 1330.3,726.4 C1334.1,735.7 1334.1,760.6 1330.3,771.2 C1326.6,781.7 1321.6,785.5 1307.9,789.8 C1294.2,794.2 1264.4,799.2 1248.2,797.3 C1232,795.4 1221.4,790.5 1210.9,778.6 C1200.3,766.8 1189.1,743.2 1184.7,726.4 C1180.4,709.6 1180.4,689 1184.7,677.8Z" fill="none" stroke="#ffe8ff" stroke-width="3.6" opacity="0.95" filter="url(#blurE)"/></g>
<path d="M1217.7,616.9 C1227,610.6 1282.4,610.6 1296.1,616.9 C1309.8,623.1 1302.9,643.6 1299.8,654.2 C1296.7,664.8 1287.4,680.3 1277.4,680.3 C1267.5,680.3 1250,664.8 1240.1,654.2 C1230.1,643.6 1208.3,623.1 1217.7,616.9Z" fill="none" stroke="#220422" stroke-width="7" opacity="0.55" filter="url(#blur2)"/>
<g clip-path="url(#Pb12)"><path d="M1217.7,616.9 C1227,610.6 1282.4,610.6 1296.1,616.9 C1309.8,623.1 1302.9,643.6 1299.8,654.2 C1296.7,664.8 1287.4,680.3 1277.4,680.3 C1267.5,680.3 1250,664.8 1240.1,654.2 C1230.1,643.6 1208.3,623.1 1217.7,616.9Z" fill="url(#Pg12)"/><path d="M1217.7,616.9 C1227,610.6 1282.4,610.6 1296.1,616.9 C1309.8,623.1 1302.9,643.6 1299.8,654.2 C1296.7,664.8 1287.4,680.3 1277.4,680.3 C1267.5,680.3 1250,664.8 1240.1,654.2 C1230.1,643.6 1208.3,623.1 1217.7,616.9Z" fill="none" stroke="#ff7cff" stroke-width="18" filter="url(#blur5)" transform="translate(3,3)"/><path d="M1217.7,616.9 C1227,610.6 1282.4,610.6 1296.1,616.9 C1309.8,623.1 1302.9,643.6 1299.8,654.2 C1296.7,664.8 1287.4,680.3 1277.4,680.3 C1267.5,680.3 1250,664.8 1240.1,654.2 C1230.1,643.6 1208.3,623.1 1217.7,616.9Z" fill="none" stroke="#ffe8ff" stroke-width="3.6" opacity="0.95" filter="url(#blurE)"/></g>
<path d="M1331,670 C1334.1,650.7 1349.7,646.4 1353.4,666.3 C1357.1,686.2 1356.5,770.2 1353.4,789.5 C1350.3,808.8 1338.5,801.9 1334.7,782 C1331,762.1 1327.9,689.3 1331,670Z" fill="none" stroke="#220422" stroke-width="7" opacity="0.55" filter="url(#blur2)"/>
<g clip-path="url(#Pb13)"><path d="M1331,670 C1334.1,650.7 1349.7,646.4 1353.4,666.3 C1357.1,686.2 1356.5,770.2 1353.4,789.5 C1350.3,808.8 1338.5,801.9 1334.7,782 C1331,762.1 1327.9,689.3 1331,670Z" fill="url(#Pg13)"/><path d="M1331,670 C1334.1,650.7 1349.7,646.4 1353.4,666.3 C1357.1,686.2 1356.5,770.2 1353.4,789.5 C1350.3,808.8 1338.5,801.9 1334.7,782 C1331,762.1 1327.9,689.3 1331,670Z" fill="none" stroke="#ff7cff" stroke-width="18" filter="url(#blur5)" transform="translate(3,3)"/><path d="M1331,670 C1334.1,650.7 1349.7,646.4 1353.4,666.3 C1357.1,686.2 1356.5,770.2 1353.4,789.5 C1350.3,808.8 1338.5,801.9 1334.7,782 C1331,762.1 1327.9,689.3 1331,670Z" fill="none" stroke="#ffe8ff" stroke-width="3.6" opacity="0.95" filter="url(#blurE)"/></g>
<path d="M1167.5,803.7 C1171.9,794.4 1181.2,785 1189.9,781.3 C1198.6,777.6 1211.1,777.6 1219.8,781.3 C1228.5,785 1234.1,801.2 1242.2,803.7 C1250.3,806.2 1257.7,796.2 1268.3,796.2 C1278.9,796.2 1296.9,798.7 1305.6,803.7 C1314.3,808.7 1319.3,816.1 1320.6,826.1 C1321.8,836.1 1319.9,852.9 1313.1,863.4 C1306.3,874 1294.4,885.2 1279.5,889.6 C1264.6,893.9 1239.1,892.7 1223.5,889.6 C1208,886.5 1196.1,879.6 1186.2,870.9 C1176.2,862.2 1166.9,848.5 1163.8,837.3 C1160.7,826.1 1163.2,813 1167.5,803.7Z" fill="none" stroke="#220422" stroke-width="7" opacity="0.55" filter="url(#blur2)"/>
<g clip-path="url(#Pb14)"><path d="M1167.5,803.7 C1171.9,794.4 1181.2,785 1189.9,781.3 C1198.6,777.6 1211.1,777.6 1219.8,781.3 C1228.5,785 1234.1,801.2 1242.2,803.7 C1250.3,806.2 1257.7,796.2 1268.3,796.2 C1278.9,796.2 1296.9,798.7 1305.6,803.7 C1314.3,808.7 1319.3,816.1 1320.6,826.1 C1321.8,836.1 1319.9,852.9 1313.1,863.4 C1306.3,874 1294.4,885.2 1279.5,889.6 C1264.6,893.9 1239.1,892.7 1223.5,889.6 C1208,886.5 1196.1,879.6 1186.2,870.9 C1176.2,862.2 1166.9,848.5 1163.8,837.3 C1160.7,826.1 1163.2,813 1167.5,803.7Z" fill="url(#Pg14)"/><path d="M1167.5,803.7 C1171.9,794.4 1181.2,785 1189.9,781.3 C1198.6,777.6 1211.1,777.6 1219.8,781.3 C1228.5,785 1234.1,801.2 1242.2,803.7 C1250.3,806.2 1257.7,796.2 1268.3,796.2 C1278.9,796.2 1296.9,798.7 1305.6,803.7 C1314.3,808.7 1319.3,816.1 1320.6,826.1 C1321.8,836.1 1319.9,852.9 1313.1,863.4 C1306.3,874 1294.4,885.2 1279.5,889.6 C1264.6,893.9 1239.1,892.7 1223.5,889.6 C1208,886.5 1196.1,879.6 1186.2,870.9 C1176.2,862.2 1166.9,848.5 1163.8,837.3 C1160.7,826.1 1163.2,813 1167.5,803.7Z" fill="none" stroke="#ff7cff" stroke-width="18" filter="url(#blur5)" transform="translate(3,3)"/><path d="M1167.5,803.7 C1171.9,794.4 1181.2,785 1189.9,781.3 C1198.6,777.6 1211.1,777.6 1219.8,781.3 C1228.5,785 1234.1,801.2 1242.2,803.7 C1250.3,806.2 1257.7,796.2 1268.3,796.2 C1278.9,796.2 1296.9,798.7 1305.6,803.7 C1314.3,808.7 1319.3,816.1 1320.6,826.1 C1321.8,836.1 1319.9,852.9 1313.1,863.4 C1306.3,874 1294.4,885.2 1279.5,889.6 C1264.6,893.9 1239.1,892.7 1223.5,889.6 C1208,886.5 1196.1,879.6 1186.2,870.9 C1176.2,862.2 1166.9,848.5 1163.8,837.3 C1160.7,826.1 1163.2,813 1167.5,803.7Z" fill="none" stroke="#ffe8ff" stroke-width="3.6" opacity="0.95" filter="url(#blurE)"/></g>
<path d="M829.3,723.8 C831.5,707.3 837.7,696.4 849.8,688.3 C862,680.2 883.4,675.5 902.1,675.2 C920.7,674.9 944.4,679 961.8,686.4 C979.2,693.9 998.5,708.2 1006.6,720 C1014.7,731.9 1012.8,744.3 1010.3,757.4 C1007.9,770.4 1002.3,787.2 991.7,798.4 C981.1,809.6 961.8,819.5 946.9,824.6 C931.9,829.7 916.4,830.9 902.1,829 C887.8,827.2 871.9,820.3 861,813.4 C850.1,806.4 842,802.2 836.8,787.2 C831.5,772.3 827.1,740.3 829.3,723.8Z" fill="none" stroke="#220422" stroke-width="7" opacity="0.55" filter="url(#blur2)"/>
<g clip-path="url(#Pb15)"><path d="M829.3,723.8 C831.5,707.3 837.7,696.4 849.8,688.3 C862,680.2 883.4,675.5 902.1,675.2 C920.7,674.9 944.4,679 961.8,686.4 C979.2,693.9 998.5,708.2 1006.6,720 C1014.7,731.9 1012.8,744.3 1010.3,757.4 C1007.9,770.4 1002.3,787.2 991.7,798.4 C981.1,809.6 961.8,819.5 946.9,824.6 C931.9,829.7 916.4,830.9 902.1,829 C887.8,827.2 871.9,820.3 861,813.4 C850.1,806.4 842,802.2 836.8,787.2 C831.5,772.3 827.1,740.3 829.3,723.8Z" fill="url(#Pg15)"/><path d="M829.3,723.8 C831.5,707.3 837.7,696.4 849.8,688.3 C862,680.2 883.4,675.5 902.1,675.2 C920.7,674.9 944.4,679 961.8,686.4 C979.2,693.9 998.5,708.2 1006.6,720 C1014.7,731.9 1012.8,744.3 1010.3,757.4 C1007.9,770.4 1002.3,787.2 991.7,798.4 C981.1,809.6 961.8,819.5 946.9,824.6 C931.9,829.7 916.4,830.9 902.1,829 C887.8,827.2 871.9,820.3 861,813.4 C850.1,806.4 842,802.2 836.8,787.2 C831.5,772.3 827.1,740.3 829.3,723.8Z" fill="none" stroke="#ff7cff" stroke-width="18" filter="url(#blur5)" transform="translate(3,3)"/><path d="M829.3,723.8 C831.5,707.3 837.7,696.4 849.8,688.3 C862,680.2 883.4,675.5 902.1,675.2 C920.7,674.9 944.4,679 961.8,686.4 C979.2,693.9 998.5,708.2 1006.6,720 C1014.7,731.9 1012.8,744.3 1010.3,757.4 C1007.9,770.4 1002.3,787.2 991.7,798.4 C981.1,809.6 961.8,819.5 946.9,824.6 C931.9,829.7 916.4,830.9 902.1,829 C887.8,827.2 871.9,820.3 861,813.4 C850.1,806.4 842,802.2 836.8,787.2 C831.5,772.3 827.1,740.3 829.3,723.8Z" fill="none" stroke="#ffe8ff" stroke-width="3.6" opacity="0.95" filter="url(#blurE)"/></g>
<ellipse cx="848" cy="774.5" rx="13.8" ry="13.8" fill="#1a0018" opacity="0.6" filter="url(#blur9)"/>
<ellipse cx="1318.1" cy="726.1" rx="13.8" ry="13.8" fill="#1a0018" opacity="0.5" filter="url(#blur9)"/>
<rect x="770" y="618.5" width="576.5" height="393.5" filter="url(#mottleD)" opacity="0.3"/>
<rect x="770" y="618.5" width="576.5" height="393.5" filter="url(#grain)" opacity="0.5"/>
</g>
<path d="M1112,1012 C1120,998 1130,984 1143,977 C1156,972 1165,980 1171,992 C1176,1000 1180,1006 1184,1012 Z" fill="#0a000a" opacity="0.9" filter="url(#blurE)"/>
<path d="M1110,1011 C1118,996 1130,981 1144,975" fill="none" stroke="#f8a0f8" stroke-width="2.2" opacity="0.8"/>
<g clip-path="url(#Oclip)">
<rect x="1499" y="737.5" width="551.5" height="395" fill="#9a5414"/>
<path d="M1587.6,732.4 C1607.8,725.5 1702.3,727.4 1724.4,732.4 C1746.6,737.5 1726.3,752.7 1720.6,762.9 C1714.9,773 1703.5,787.2 1690.2,793.3 C1676.9,799.3 1655.4,802.1 1640.8,799 C1626.2,795.8 1611.6,785.3 1602.8,774.3 C1593.9,763.2 1567.3,739.4 1587.6,732.4Z" fill="none" stroke="#2a1000" stroke-width="7" opacity="0.55" filter="url(#blur2)"/>
<g clip-path="url(#Ob0)"><path d="M1587.6,732.4 C1607.8,725.5 1702.3,727.4 1724.4,732.4 C1746.6,737.5 1726.3,752.7 1720.6,762.9 C1714.9,773 1703.5,787.2 1690.2,793.3 C1676.9,799.3 1655.4,802.1 1640.8,799 C1626.2,795.8 1611.6,785.3 1602.8,774.3 C1593.9,763.2 1567.3,739.4 1587.6,732.4Z" fill="url(#Og0)"/><path d="M1587.6,732.4 C1607.8,725.5 1702.3,727.4 1724.4,732.4 C1746.6,737.5 1726.3,752.7 1720.6,762.9 C1714.9,773 1703.5,787.2 1690.2,793.3 C1676.9,799.3 1655.4,802.1 1640.8,799 C1626.2,795.8 1611.6,785.3 1602.8,774.3 C1593.9,763.2 1567.3,739.4 1587.6,732.4Z" fill="none" stroke="#ffb850" stroke-width="18" filter="url(#blur5)" transform="translate(3,3)"/><path d="M1587.6,732.4 C1607.8,725.5 1702.3,727.4 1724.4,732.4 C1746.6,737.5 1726.3,752.7 1720.6,762.9 C1714.9,773 1703.5,787.2 1690.2,793.3 C1676.9,799.3 1655.4,802.1 1640.8,799 C1626.2,795.8 1611.6,785.3 1602.8,774.3 C1593.9,763.2 1567.3,739.4 1587.6,732.4Z" fill="none" stroke="#fff4e0" stroke-width="3.6" opacity="0.95" filter="url(#blurE)"/></g>
<path d="M1714.5,732.9 C1739.8,727.2 1848.8,727.2 1874.2,732.9 C1899.5,738.6 1872.9,758.2 1866.6,767.1 C1860.2,776 1850.7,783.6 1836.1,786.1 C1821.6,788.6 1798.1,785.5 1779.1,782.3 C1760.1,779.1 1732.9,775.3 1722.1,767.1 C1711.3,758.8 1689.1,738.6 1714.5,732.9Z" fill="none" stroke="#2a1000" stroke-width="7" opacity="0.55" filter="url(#blur2)"/>
<g clip-path="url(#Ob1)"><path d="M1714.5,732.9 C1739.8,727.2 1848.8,727.2 1874.2,732.9 C1899.5,738.6 1872.9,758.2 1866.6,767.1 C1860.2,776 1850.7,783.6 1836.1,786.1 C1821.6,788.6 1798.1,785.5 1779.1,782.3 C1760.1,779.1 1732.9,775.3 1722.1,767.1 C1711.3,758.8 1689.1,738.6 1714.5,732.9Z" fill="url(#Og1)"/><path d="M1714.5,732.9 C1739.8,727.2 1848.8,727.2 1874.2,732.9 C1899.5,738.6 1872.9,758.2 1866.6,767.1 C1860.2,776 1850.7,783.6 1836.1,786.1 C1821.6,788.6 1798.1,785.5 1779.1,782.3 C1760.1,779.1 1732.9,775.3 1722.1,767.1 C1711.3,758.8 1689.1,738.6 1714.5,732.9Z" fill="none" stroke="#ffb850" stroke-width="18" filter="url(#blur5)" transform="translate(3,3)"/><path d="M1714.5,732.9 C1739.8,727.2 1848.8,727.2 1874.2,732.9 C1899.5,738.6 1872.9,758.2 1866.6,767.1 C1860.2,776 1850.7,783.6 1836.1,786.1 C1821.6,788.6 1798.1,785.5 1779.1,782.3 C1760.1,779.1 1732.9,775.3 1722.1,767.1 C1711.3,758.8 1689.1,738.6 1714.5,732.9Z" fill="none" stroke="#fff4e0" stroke-width="3.6" opacity="0.95" filter="url(#blurE)"/></g>
<path d="M1496.3,760 C1503.9,744.8 1528.6,748.6 1541.9,748.6 C1555.3,748.6 1566,753.1 1576.2,760 C1586.3,767 1602.2,780.3 1602.8,790.5 C1603.4,800.6 1591.4,813.3 1580,820.9 C1568.6,828.5 1548.3,832.9 1534.3,836.1 C1520.4,839.3 1502.7,852.6 1496.3,839.9 C1490,827.2 1488.7,775.3 1496.3,760Z" fill="none" stroke="#2a1000" stroke-width="7" opacity="0.55" filter="url(#blur2)"/>
<g clip-path="url(#Ob2)"><path d="M1496.3,760 C1503.9,744.8 1528.6,748.6 1541.9,748.6 C1555.3,748.6 1566,753.1 1576.2,760 C1586.3,767 1602.2,780.3 1602.8,790.5 C1603.4,800.6 1591.4,813.3 1580,820.9 C1568.6,828.5 1548.3,832.9 1534.3,836.1 C1520.4,839.3 1502.7,852.6 1496.3,839.9 C1490,827.2 1488.7,775.3 1496.3,760Z" fill="url(#Og2)"/><path d="M1496.3,760 C1503.9,744.8 1528.6,748.6 1541.9,748.6 C1555.3,748.6 1566,753.1 1576.2,760 C1586.3,767 1602.2,780.3 1602.8,790.5 C1603.4,800.6 1591.4,813.3 1580,820.9 C1568.6,828.5 1548.3,832.9 1534.3,836.1 C1520.4,839.3 1502.7,852.6 1496.3,839.9 C1490,827.2 1488.7,775.3 1496.3,760Z" fill="none" stroke="#ffb850" stroke-width="18" filter="url(#blur5)" transform="translate(3,3)"/><path d="M1496.3,760 C1503.9,744.8 1528.6,748.6 1541.9,748.6 C1555.3,748.6 1566,753.1 1576.2,760 C1586.3,767 1602.2,780.3 1602.8,790.5 C1603.4,800.6 1591.4,813.3 1580,820.9 C1568.6,828.5 1548.3,832.9 1534.3,836.1 C1520.4,839.3 1502.7,852.6 1496.3,839.9 C1490,827.2 1488.7,775.3 1496.3,760Z" fill="none" stroke="#fff4e0" stroke-width="3.6" opacity="0.95" filter="url(#blurE)"/></g>
<path d="M1583.7,837 C1586.3,828.8 1589.4,829.4 1598.9,829.4 C1608.4,829.4 1631.3,831.9 1640.8,837 C1650.3,842.1 1651.5,847.2 1656,859.8 C1660.4,872.5 1666.1,895.9 1667.4,913.1 C1668.7,930.2 1669.3,951.7 1663.6,962.5 C1657.9,973.3 1642,977.7 1633.2,977.7 C1624.3,977.7 1616.7,970.7 1610.3,962.5 C1604,954.2 1599.6,942.2 1595.1,928.3 C1590.7,914.3 1585.6,894 1583.7,878.8 C1581.8,863.6 1581.2,845.3 1583.7,837Z" fill="none" stroke="#2a1000" stroke-width="7" opacity="0.55" filter="url(#blur2)"/>
<g clip-path="url(#Ob3)"><path d="M1583.7,837 C1586.3,828.8 1589.4,829.4 1598.9,829.4 C1608.4,829.4 1631.3,831.9 1640.8,837 C1650.3,842.1 1651.5,847.2 1656,859.8 C1660.4,872.5 1666.1,895.9 1667.4,913.1 C1668.7,930.2 1669.3,951.7 1663.6,962.5 C1657.9,973.3 1642,977.7 1633.2,977.7 C1624.3,977.7 1616.7,970.7 1610.3,962.5 C1604,954.2 1599.6,942.2 1595.1,928.3 C1590.7,914.3 1585.6,894 1583.7,878.8 C1581.8,863.6 1581.2,845.3 1583.7,837Z" fill="url(#Og3)"/><path d="M1583.7,837 C1586.3,828.8 1589.4,829.4 1598.9,829.4 C1608.4,829.4 1631.3,831.9 1640.8,837 C1650.3,842.1 1651.5,847.2 1656,859.8 C1660.4,872.5 1666.1,895.9 1667.4,913.1 C1668.7,930.2 1669.3,951.7 1663.6,962.5 C1657.9,973.3 1642,977.7 1633.2,977.7 C1624.3,977.7 1616.7,970.7 1610.3,962.5 C1604,954.2 1599.6,942.2 1595.1,928.3 C1590.7,914.3 1585.6,894 1583.7,878.8 C1581.8,863.6 1581.2,845.3 1583.7,837Z" fill="none" stroke="#ffb850" stroke-width="18" filter="url(#blur5)" transform="translate(3,3)"/><path d="M1583.7,837 C1586.3,828.8 1589.4,829.4 1598.9,829.4 C1608.4,829.4 1631.3,831.9 1640.8,837 C1650.3,842.1 1651.5,847.2 1656,859.8 C1660.4,872.5 1666.1,895.9 1667.4,913.1 C1668.7,930.2 1669.3,951.7 1663.6,962.5 C1657.9,973.3 1642,977.7 1633.2,977.7 C1624.3,977.7 1616.7,970.7 1610.3,962.5 C1604,954.2 1599.6,942.2 1595.1,928.3 C1590.7,914.3 1585.6,894 1583.7,878.8 C1581.8,863.6 1581.2,845.3 1583.7,837Z" fill="none" stroke="#fff4e0" stroke-width="3.6" opacity="0.95" filter="url(#blurE)"/></g>
<path d="M1885.8,748.2 C1893.4,743.1 1904.9,739.3 1923.9,740.6 C1942.9,741.9 1984.1,749.5 1999.9,755.8 C2015.8,762.2 2015.1,767.2 2018.9,778.6 C2022.7,790 2025.3,811.6 2022.7,824.3 C2020.2,836.9 2013.2,849 2003.7,854.7 C1994.2,860.4 1982.2,861 1965.7,858.5 C1949.2,855.9 1919.4,847.7 1904.9,839.5 C1890.3,831.2 1882.7,820.5 1878.2,809 C1873.8,797.6 1877,781.2 1878.2,771 C1879.5,760.9 1878.2,753.3 1885.8,748.2Z" fill="none" stroke="#2a1000" stroke-width="7" opacity="0.55" filter="url(#blur2)"/>
<g clip-path="url(#Ob4)"><path d="M1885.8,748.2 C1893.4,743.1 1904.9,739.3 1923.9,740.6 C1942.9,741.9 1984.1,749.5 1999.9,755.8 C2015.8,762.2 2015.1,767.2 2018.9,778.6 C2022.7,790 2025.3,811.6 2022.7,824.3 C2020.2,836.9 2013.2,849 2003.7,854.7 C1994.2,860.4 1982.2,861 1965.7,858.5 C1949.2,855.9 1919.4,847.7 1904.9,839.5 C1890.3,831.2 1882.7,820.5 1878.2,809 C1873.8,797.6 1877,781.2 1878.2,771 C1879.5,760.9 1878.2,753.3 1885.8,748.2Z" fill="url(#Og4)"/><path d="M1885.8,748.2 C1893.4,743.1 1904.9,739.3 1923.9,740.6 C1942.9,741.9 1984.1,749.5 1999.9,755.8 C2015.8,762.2 2015.1,767.2 2018.9,778.6 C2022.7,790 2025.3,811.6 2022.7,824.3 C2020.2,836.9 2013.2,849 2003.7,854.7 C1994.2,860.4 1982.2,861 1965.7,858.5 C1949.2,855.9 1919.4,847.7 1904.9,839.5 C1890.3,831.2 1882.7,820.5 1878.2,809 C1873.8,797.6 1877,781.2 1878.2,771 C1879.5,760.9 1878.2,753.3 1885.8,748.2Z" fill="none" stroke="#ffb850" stroke-width="18" filter="url(#blur5)" transform="translate(3,3)"/><path d="M1885.8,748.2 C1893.4,743.1 1904.9,739.3 1923.9,740.6 C1942.9,741.9 1984.1,749.5 1999.9,755.8 C2015.8,762.2 2015.1,767.2 2018.9,778.6 C2022.7,790 2025.3,811.6 2022.7,824.3 C2020.2,836.9 2013.2,849 2003.7,854.7 C1994.2,860.4 1982.2,861 1965.7,858.5 C1949.2,855.9 1919.4,847.7 1904.9,839.5 C1890.3,831.2 1882.7,820.5 1878.2,809 C1873.8,797.6 1877,781.2 1878.2,771 C1879.5,760.9 1878.2,753.3 1885.8,748.2Z" fill="none" stroke="#fff4e0" stroke-width="3.6" opacity="0.95" filter="url(#blurE)"/></g>
<path d="M1496.7,880.4 C1504.3,855.1 1530.3,874.1 1542.3,876.6 C1554.4,879.2 1562,885.5 1569,895.6 C1575.9,905.8 1582.9,921 1584.2,937.5 C1585.4,953.9 1581,979.9 1576.6,994.5 C1572.1,1009.1 1567.1,1018.6 1557.6,1024.9 C1548.1,1031.2 1529.7,1031.9 1519.5,1032.5 C1509.4,1033.1 1500.5,1054.1 1496.7,1028.7 C1492.9,1003.4 1489.1,905.8 1496.7,880.4Z" fill="none" stroke="#2a1000" stroke-width="7" opacity="0.55" filter="url(#blur2)"/>
<g clip-path="url(#Ob5)"><path d="M1496.7,880.4 C1504.3,855.1 1530.3,874.1 1542.3,876.6 C1554.4,879.2 1562,885.5 1569,895.6 C1575.9,905.8 1582.9,921 1584.2,937.5 C1585.4,953.9 1581,979.9 1576.6,994.5 C1572.1,1009.1 1567.1,1018.6 1557.6,1024.9 C1548.1,1031.2 1529.7,1031.9 1519.5,1032.5 C1509.4,1033.1 1500.5,1054.1 1496.7,1028.7 C1492.9,1003.4 1489.1,905.8 1496.7,880.4Z" fill="url(#Og5)"/><path d="M1496.7,880.4 C1504.3,855.1 1530.3,874.1 1542.3,876.6 C1554.4,879.2 1562,885.5 1569,895.6 C1575.9,905.8 1582.9,921 1584.2,937.5 C1585.4,953.9 1581,979.9 1576.6,994.5 C1572.1,1009.1 1567.1,1018.6 1557.6,1024.9 C1548.1,1031.2 1529.7,1031.9 1519.5,1032.5 C1509.4,1033.1 1500.5,1054.1 1496.7,1028.7 C1492.9,1003.4 1489.1,905.8 1496.7,880.4Z" fill="none" stroke="#ffb850" stroke-width="18" filter="url(#blur5)" transform="translate(3,3)"/><path d="M1496.7,880.4 C1504.3,855.1 1530.3,874.1 1542.3,876.6 C1554.4,879.2 1562,885.5 1569,895.6 C1575.9,905.8 1582.9,921 1584.2,937.5 C1585.4,953.9 1581,979.9 1576.6,994.5 C1572.1,1009.1 1567.1,1018.6 1557.6,1024.9 C1548.1,1031.2 1529.7,1031.9 1519.5,1032.5 C1509.4,1033.1 1500.5,1054.1 1496.7,1028.7 C1492.9,1003.4 1489.1,905.8 1496.7,880.4Z" fill="none" stroke="#fff4e0" stroke-width="3.6" opacity="0.95" filter="url(#blurE)"/></g>
<path d="M1880.2,888.4 C1889.7,880.2 1911.3,873.8 1925.8,873.2 C1940.4,872.6 1956.3,876.4 1967.7,884.6 C1979.1,892.8 1989.8,906.2 1994.3,922.6 C1998.7,939.1 1997.4,967 1994.3,983.5 C1991.1,999.9 1986,1012 1975.3,1021.5 C1964.5,1031 1944.8,1039.2 1929.6,1040.5 C1914.4,1041.8 1894.8,1038.6 1884,1029.1 C1873.2,1019.6 1867.5,1001.2 1865,983.5 C1862.5,965.7 1866.3,938.5 1868.8,922.6 C1871.3,906.8 1870.7,896.7 1880.2,888.4Z" fill="none" stroke="#2a1000" stroke-width="7" opacity="0.55" filter="url(#blur2)"/>
<g clip-path="url(#Ob6)"><path d="M1880.2,888.4 C1889.7,880.2 1911.3,873.8 1925.8,873.2 C1940.4,872.6 1956.3,876.4 1967.7,884.6 C1979.1,892.8 1989.8,906.2 1994.3,922.6 C1998.7,939.1 1997.4,967 1994.3,983.5 C1991.1,999.9 1986,1012 1975.3,1021.5 C1964.5,1031 1944.8,1039.2 1929.6,1040.5 C1914.4,1041.8 1894.8,1038.6 1884,1029.1 C1873.2,1019.6 1867.5,1001.2 1865,983.5 C1862.5,965.7 1866.3,938.5 1868.8,922.6 C1871.3,906.8 1870.7,896.7 1880.2,888.4Z" fill="url(#Og6)"/><path d="M1880.2,888.4 C1889.7,880.2 1911.3,873.8 1925.8,873.2 C1940.4,872.6 1956.3,876.4 1967.7,884.6 C1979.1,892.8 1989.8,906.2 1994.3,922.6 C1998.7,939.1 1997.4,967 1994.3,983.5 C1991.1,999.9 1986,1012 1975.3,1021.5 C1964.5,1031 1944.8,1039.2 1929.6,1040.5 C1914.4,1041.8 1894.8,1038.6 1884,1029.1 C1873.2,1019.6 1867.5,1001.2 1865,983.5 C1862.5,965.7 1866.3,938.5 1868.8,922.6 C1871.3,906.8 1870.7,896.7 1880.2,888.4Z" fill="none" stroke="#ffb850" stroke-width="18" filter="url(#blur5)" transform="translate(3,3)"/><path d="M1880.2,888.4 C1889.7,880.2 1911.3,873.8 1925.8,873.2 C1940.4,872.6 1956.3,876.4 1967.7,884.6 C1979.1,892.8 1989.8,906.2 1994.3,922.6 C1998.7,939.1 1997.4,967 1994.3,983.5 C1991.1,999.9 1986,1012 1975.3,1021.5 C1964.5,1031 1944.8,1039.2 1929.6,1040.5 C1914.4,1041.8 1894.8,1038.6 1884,1029.1 C1873.2,1019.6 1867.5,1001.2 1865,983.5 C1862.5,965.7 1866.3,938.5 1868.8,922.6 C1871.3,906.8 1870.7,896.7 1880.2,888.4Z" fill="none" stroke="#fff4e0" stroke-width="3.6" opacity="0.95" filter="url(#blurE)"/></g>
<path d="M1797.7,1040.9 C1800.2,1025 1815.4,1009.2 1828.1,1002.8 C1840.8,996.5 1856.6,1000.3 1873.7,1002.8 C1890.8,1005.4 1916.8,1010.4 1930.8,1018.1 C1944.7,1025.7 1954.8,1035.2 1957.4,1048.5 C1959.9,1061.8 1950.4,1082.7 1946,1097.9 C1941.5,1113.1 1949.1,1132.8 1930.8,1139.7 C1912.4,1146.7 1855.4,1146.7 1835.7,1139.7 C1816.1,1132.8 1819.2,1114.4 1812.9,1097.9 C1806.6,1081.4 1795.1,1056.7 1797.7,1040.9Z" fill="none" stroke="#2a1000" stroke-width="7" opacity="0.55" filter="url(#blur2)"/>
<g clip-path="url(#Ob7)"><path d="M1797.7,1040.9 C1800.2,1025 1815.4,1009.2 1828.1,1002.8 C1840.8,996.5 1856.6,1000.3 1873.7,1002.8 C1890.8,1005.4 1916.8,1010.4 1930.8,1018.1 C1944.7,1025.7 1954.8,1035.2 1957.4,1048.5 C1959.9,1061.8 1950.4,1082.7 1946,1097.9 C1941.5,1113.1 1949.1,1132.8 1930.8,1139.7 C1912.4,1146.7 1855.4,1146.7 1835.7,1139.7 C1816.1,1132.8 1819.2,1114.4 1812.9,1097.9 C1806.6,1081.4 1795.1,1056.7 1797.7,1040.9Z" fill="url(#Og7)"/><path d="M1797.7,1040.9 C1800.2,1025 1815.4,1009.2 1828.1,1002.8 C1840.8,996.5 1856.6,1000.3 1873.7,1002.8 C1890.8,1005.4 1916.8,1010.4 1930.8,1018.1 C1944.7,1025.7 1954.8,1035.2 1957.4,1048.5 C1959.9,1061.8 1950.4,1082.7 1946,1097.9 C1941.5,1113.1 1949.1,1132.8 1930.8,1139.7 C1912.4,1146.7 1855.4,1146.7 1835.7,1139.7 C1816.1,1132.8 1819.2,1114.4 1812.9,1097.9 C1806.6,1081.4 1795.1,1056.7 1797.7,1040.9Z" fill="none" stroke="#ffb850" stroke-width="18" filter="url(#blur5)" transform="translate(3,3)"/><path d="M1797.7,1040.9 C1800.2,1025 1815.4,1009.2 1828.1,1002.8 C1840.8,996.5 1856.6,1000.3 1873.7,1002.8 C1890.8,1005.4 1916.8,1010.4 1930.8,1018.1 C1944.7,1025.7 1954.8,1035.2 1957.4,1048.5 C1959.9,1061.8 1950.4,1082.7 1946,1097.9 C1941.5,1113.1 1949.1,1132.8 1930.8,1139.7 C1912.4,1146.7 1855.4,1146.7 1835.7,1139.7 C1816.1,1132.8 1819.2,1114.4 1812.9,1097.9 C1806.6,1081.4 1795.1,1056.7 1797.7,1040.9Z" fill="none" stroke="#fff4e0" stroke-width="3.6" opacity="0.95" filter="url(#blurE)"/></g>
<path d="M1565.3,1041.6 C1567.8,1032.8 1587.5,1030.2 1599.5,1026.4 C1611.6,1022.6 1624.2,1022.6 1637.6,1018.8 C1650.9,1015 1666.7,1003 1679.4,1003.6 C1692.1,1004.3 1704.7,1013.1 1713.6,1022.6 C1722.5,1032.1 1731.3,1047.3 1732.6,1060.7 C1733.9,1074 1728.2,1093 1721.2,1102.5 C1714.2,1112 1706,1117.7 1690.8,1117.7 C1675.6,1117.7 1647.7,1108.8 1629.9,1102.5 C1612.2,1096.1 1595.1,1089.8 1584.3,1079.7 C1573.5,1069.5 1562.8,1050.5 1565.3,1041.6Z" fill="none" stroke="#2a1000" stroke-width="7" opacity="0.55" filter="url(#blur2)"/>
<g clip-path="url(#Ob8)"><path d="M1565.3,1041.6 C1567.8,1032.8 1587.5,1030.2 1599.5,1026.4 C1611.6,1022.6 1624.2,1022.6 1637.6,1018.8 C1650.9,1015 1666.7,1003 1679.4,1003.6 C1692.1,1004.3 1704.7,1013.1 1713.6,1022.6 C1722.5,1032.1 1731.3,1047.3 1732.6,1060.7 C1733.9,1074 1728.2,1093 1721.2,1102.5 C1714.2,1112 1706,1117.7 1690.8,1117.7 C1675.6,1117.7 1647.7,1108.8 1629.9,1102.5 C1612.2,1096.1 1595.1,1089.8 1584.3,1079.7 C1573.5,1069.5 1562.8,1050.5 1565.3,1041.6Z" fill="url(#Og8)"/><path d="M1565.3,1041.6 C1567.8,1032.8 1587.5,1030.2 1599.5,1026.4 C1611.6,1022.6 1624.2,1022.6 1637.6,1018.8 C1650.9,1015 1666.7,1003 1679.4,1003.6 C1692.1,1004.3 1704.7,1013.1 1713.6,1022.6 C1722.5,1032.1 1731.3,1047.3 1732.6,1060.7 C1733.9,1074 1728.2,1093 1721.2,1102.5 C1714.2,1112 1706,1117.7 1690.8,1117.7 C1675.6,1117.7 1647.7,1108.8 1629.9,1102.5 C1612.2,1096.1 1595.1,1089.8 1584.3,1079.7 C1573.5,1069.5 1562.8,1050.5 1565.3,1041.6Z" fill="none" stroke="#ffb850" stroke-width="18" filter="url(#blur5)" transform="translate(3,3)"/><path d="M1565.3,1041.6 C1567.8,1032.8 1587.5,1030.2 1599.5,1026.4 C1611.6,1022.6 1624.2,1022.6 1637.6,1018.8 C1650.9,1015 1666.7,1003 1679.4,1003.6 C1692.1,1004.3 1704.7,1013.1 1713.6,1022.6 C1722.5,1032.1 1731.3,1047.3 1732.6,1060.7 C1733.9,1074 1728.2,1093 1721.2,1102.5 C1714.2,1112 1706,1117.7 1690.8,1117.7 C1675.6,1117.7 1647.7,1108.8 1629.9,1102.5 C1612.2,1096.1 1595.1,1089.8 1584.3,1079.7 C1573.5,1069.5 1562.8,1050.5 1565.3,1041.6Z" fill="none" stroke="#fff4e0" stroke-width="3.6" opacity="0.95" filter="url(#blurE)"/></g>
<path d="M2003.3,831.3 C2009,816.1 2024.9,818 2033.8,816.1 C2042.6,814.2 2052.8,797 2056.6,819.9 C2060.4,842.7 2062.9,930.8 2056.6,952.9 C2050.2,975.1 2028,960.5 2018.5,952.9 C2009,945.3 2002.1,927.6 1999.5,907.3 C1997,887 1997.6,846.5 2003.3,831.3Z" fill="none" stroke="#2a1000" stroke-width="7" opacity="0.55" filter="url(#blur2)"/>
<g clip-path="url(#Ob9)"><path d="M2003.3,831.3 C2009,816.1 2024.9,818 2033.8,816.1 C2042.6,814.2 2052.8,797 2056.6,819.9 C2060.4,842.7 2062.9,930.8 2056.6,952.9 C2050.2,975.1 2028,960.5 2018.5,952.9 C2009,945.3 2002.1,927.6 1999.5,907.3 C1997,887 1997.6,846.5 2003.3,831.3Z" fill="url(#Og9)"/><path d="M2003.3,831.3 C2009,816.1 2024.9,818 2033.8,816.1 C2042.6,814.2 2052.8,797 2056.6,819.9 C2060.4,842.7 2062.9,930.8 2056.6,952.9 C2050.2,975.1 2028,960.5 2018.5,952.9 C2009,945.3 2002.1,927.6 1999.5,907.3 C1997,887 1997.6,846.5 2003.3,831.3Z" fill="none" stroke="#ffb850" stroke-width="18" filter="url(#blur5)" transform="translate(3,3)"/><path d="M2003.3,831.3 C2009,816.1 2024.9,818 2033.8,816.1 C2042.6,814.2 2052.8,797 2056.6,819.9 C2060.4,842.7 2062.9,930.8 2056.6,952.9 C2050.2,975.1 2028,960.5 2018.5,952.9 C2009,945.3 2002.1,927.6 1999.5,907.3 C1997,887 1997.6,846.5 2003.3,831.3Z" fill="none" stroke="#fff4e0" stroke-width="3.6" opacity="0.95" filter="url(#blurE)"/></g>
<path d="M1996.4,967.8 C2004,953.2 2024.2,957.7 2034.4,956.4 C2044.5,955.1 2053.4,929.1 2057.2,960.2 C2061,991.2 2067.3,1112.3 2057.2,1142.7 C2047.1,1173.1 2007.8,1159.2 1996.4,1142.7 C1985,1126.2 1988.8,1073 1988.8,1043.8 C1988.8,1014.7 1988.8,982.4 1996.4,967.8Z" fill="none" stroke="#2a1000" stroke-width="7" opacity="0.55" filter="url(#blur2)"/>
<g clip-path="url(#Ob10)"><path d="M1996.4,967.8 C2004,953.2 2024.2,957.7 2034.4,956.4 C2044.5,955.1 2053.4,929.1 2057.2,960.2 C2061,991.2 2067.3,1112.3 2057.2,1142.7 C2047.1,1173.1 2007.8,1159.2 1996.4,1142.7 C1985,1126.2 1988.8,1073 1988.8,1043.8 C1988.8,1014.7 1988.8,982.4 1996.4,967.8Z" fill="url(#Og10)"/><path d="M1996.4,967.8 C2004,953.2 2024.2,957.7 2034.4,956.4 C2044.5,955.1 2053.4,929.1 2057.2,960.2 C2061,991.2 2067.3,1112.3 2057.2,1142.7 C2047.1,1173.1 2007.8,1159.2 1996.4,1142.7 C1985,1126.2 1988.8,1073 1988.8,1043.8 C1988.8,1014.7 1988.8,982.4 1996.4,967.8Z" fill="none" stroke="#ffb850" stroke-width="18" filter="url(#blur5)" transform="translate(3,3)"/><path d="M1996.4,967.8 C2004,953.2 2024.2,957.7 2034.4,956.4 C2044.5,955.1 2053.4,929.1 2057.2,960.2 C2061,991.2 2067.3,1112.3 2057.2,1142.7 C2047.1,1173.1 2007.8,1159.2 1996.4,1142.7 C1985,1126.2 1988.8,1073 1988.8,1043.8 C1988.8,1014.7 1988.8,982.4 1996.4,967.8Z" fill="none" stroke="#fff4e0" stroke-width="3.6" opacity="0.95" filter="url(#blurE)"/></g>
<path d="M1738.5,1135.3 C1725.8,1129 1744.8,1106.2 1753.7,1097.3 C1762.5,1088.4 1780.3,1082.1 1791.7,1082.1 C1803.1,1082.1 1815.8,1088.4 1822.1,1097.3 C1828.4,1106.2 1843.6,1129 1829.7,1135.3 C1815.8,1141.7 1751.1,1141.7 1738.5,1135.3Z" fill="none" stroke="#2a1000" stroke-width="7" opacity="0.55" filter="url(#blur2)"/>
<g clip-path="url(#Ob11)"><path d="M1738.5,1135.3 C1725.8,1129 1744.8,1106.2 1753.7,1097.3 C1762.5,1088.4 1780.3,1082.1 1791.7,1082.1 C1803.1,1082.1 1815.8,1088.4 1822.1,1097.3 C1828.4,1106.2 1843.6,1129 1829.7,1135.3 C1815.8,1141.7 1751.1,1141.7 1738.5,1135.3Z" fill="url(#Og11)"/><path d="M1738.5,1135.3 C1725.8,1129 1744.8,1106.2 1753.7,1097.3 C1762.5,1088.4 1780.3,1082.1 1791.7,1082.1 C1803.1,1082.1 1815.8,1088.4 1822.1,1097.3 C1828.4,1106.2 1843.6,1129 1829.7,1135.3 C1815.8,1141.7 1751.1,1141.7 1738.5,1135.3Z" fill="none" stroke="#ffb850" stroke-width="18" filter="url(#blur5)" transform="translate(3,3)"/><path d="M1738.5,1135.3 C1725.8,1129 1744.8,1106.2 1753.7,1097.3 C1762.5,1088.4 1780.3,1082.1 1791.7,1082.1 C1803.1,1082.1 1815.8,1088.4 1822.1,1097.3 C1828.4,1106.2 1843.6,1129 1829.7,1135.3 C1815.8,1141.7 1751.1,1141.7 1738.5,1135.3Z" fill="none" stroke="#fff4e0" stroke-width="3.6" opacity="0.95" filter="url(#blurE)"/></g>
<path d="M1662.2,926.3 C1667.3,917.5 1680,914.9 1692.6,918.7 C1705.3,922.5 1726.9,939 1738.3,949.2 C1749.7,959.3 1757.3,963.1 1761.1,979.6 C1764.9,996 1764.9,1030.3 1761.1,1048 C1757.3,1065.8 1745.9,1084.8 1738.3,1086 C1730.7,1087.3 1724.3,1068.3 1715.5,1055.6 C1706.6,1042.9 1693.9,1023.9 1685,1010 C1676.2,996 1666,985.9 1662.2,972 C1658.4,958 1657.2,935.2 1662.2,926.3Z" fill="none" stroke="#2a1000" stroke-width="7" opacity="0.55" filter="url(#blur2)"/>
<g clip-path="url(#Ob12)"><path d="M1662.2,926.3 C1667.3,917.5 1680,914.9 1692.6,918.7 C1705.3,922.5 1726.9,939 1738.3,949.2 C1749.7,959.3 1757.3,963.1 1761.1,979.6 C1764.9,996 1764.9,1030.3 1761.1,1048 C1757.3,1065.8 1745.9,1084.8 1738.3,1086 C1730.7,1087.3 1724.3,1068.3 1715.5,1055.6 C1706.6,1042.9 1693.9,1023.9 1685,1010 C1676.2,996 1666,985.9 1662.2,972 C1658.4,958 1657.2,935.2 1662.2,926.3Z" fill="url(#Og12)"/><path d="M1662.2,926.3 C1667.3,917.5 1680,914.9 1692.6,918.7 C1705.3,922.5 1726.9,939 1738.3,949.2 C1749.7,959.3 1757.3,963.1 1761.1,979.6 C1764.9,996 1764.9,1030.3 1761.1,1048 C1757.3,1065.8 1745.9,1084.8 1738.3,1086 C1730.7,1087.3 1724.3,1068.3 1715.5,1055.6 C1706.6,1042.9 1693.9,1023.9 1685,1010 C1676.2,996 1666,985.9 1662.2,972 C1658.4,958 1657.2,935.2 1662.2,926.3Z" fill="none" stroke="#ffb850" stroke-width="18" filter="url(#blur5)" transform="translate(3,3)"/><path d="M1662.2,926.3 C1667.3,917.5 1680,914.9 1692.6,918.7 C1705.3,922.5 1726.9,939 1738.3,949.2 C1749.7,959.3 1757.3,963.1 1761.1,979.6 C1764.9,996 1764.9,1030.3 1761.1,1048 C1757.3,1065.8 1745.9,1084.8 1738.3,1086 C1730.7,1087.3 1724.3,1068.3 1715.5,1055.6 C1706.6,1042.9 1693.9,1023.9 1685,1010 C1676.2,996 1666,985.9 1662.2,972 C1658.4,958 1657.2,935.2 1662.2,926.3Z" fill="none" stroke="#fff4e0" stroke-width="3.6" opacity="0.95" filter="url(#blurE)"/></g>
<path d="M1688,816.7 C1693.1,807.8 1700.7,800.8 1714.6,797.6 C1728.6,794.5 1753.9,795.7 1771.7,797.6 C1789.4,799.5 1809,803.4 1821.1,809.1 C1833.1,814.8 1842,821.7 1843.9,831.9 C1845.8,842 1839.5,854.7 1832.5,869.9 C1825.5,885.1 1810.3,906.6 1802.1,923.1 C1793.8,939.6 1790,959.9 1783.1,968.7 C1776.1,977.6 1771.7,980.2 1760.2,976.4 C1748.8,972.6 1725.4,958.6 1714.6,945.9 C1703.8,933.3 1700.7,916.2 1695.6,900.3 C1690.5,884.5 1685.5,864.8 1684.2,850.9 C1682.9,836.9 1682.9,825.5 1688,816.7Z" fill="none" stroke="#2a1000" stroke-width="7" opacity="0.55" filter="url(#blur2)"/>
<g clip-path="url(#Ob13)"><path d="M1688,816.7 C1693.1,807.8 1700.7,800.8 1714.6,797.6 C1728.6,794.5 1753.9,795.7 1771.7,797.6 C1789.4,799.5 1809,803.4 1821.1,809.1 C1833.1,814.8 1842,821.7 1843.9,831.9 C1845.8,842 1839.5,854.7 1832.5,869.9 C1825.5,885.1 1810.3,906.6 1802.1,923.1 C1793.8,939.6 1790,959.9 1783.1,968.7 C1776.1,977.6 1771.7,980.2 1760.2,976.4 C1748.8,972.6 1725.4,958.6 1714.6,945.9 C1703.8,933.3 1700.7,916.2 1695.6,900.3 C1690.5,884.5 1685.5,864.8 1684.2,850.9 C1682.9,836.9 1682.9,825.5 1688,816.7Z" fill="url(#Og13)"/><path d="M1688,816.7 C1693.1,807.8 1700.7,800.8 1714.6,797.6 C1728.6,794.5 1753.9,795.7 1771.7,797.6 C1789.4,799.5 1809,803.4 1821.1,809.1 C1833.1,814.8 1842,821.7 1843.9,831.9 C1845.8,842 1839.5,854.7 1832.5,869.9 C1825.5,885.1 1810.3,906.6 1802.1,923.1 C1793.8,939.6 1790,959.9 1783.1,968.7 C1776.1,977.6 1771.7,980.2 1760.2,976.4 C1748.8,972.6 1725.4,958.6 1714.6,945.9 C1703.8,933.3 1700.7,916.2 1695.6,900.3 C1690.5,884.5 1685.5,864.8 1684.2,850.9 C1682.9,836.9 1682.9,825.5 1688,816.7Z" fill="none" stroke="#ffb850" stroke-width="18" filter="url(#blur5)" transform="translate(3,3)"/><path d="M1688,816.7 C1693.1,807.8 1700.7,800.8 1714.6,797.6 C1728.6,794.5 1753.9,795.7 1771.7,797.6 C1789.4,799.5 1809,803.4 1821.1,809.1 C1833.1,814.8 1842,821.7 1843.9,831.9 C1845.8,842 1839.5,854.7 1832.5,869.9 C1825.5,885.1 1810.3,906.6 1802.1,923.1 C1793.8,939.6 1790,959.9 1783.1,968.7 C1776.1,977.6 1771.7,980.2 1760.2,976.4 C1748.8,972.6 1725.4,958.6 1714.6,945.9 C1703.8,933.3 1700.7,916.2 1695.6,900.3 C1690.5,884.5 1685.5,864.8 1684.2,850.9 C1682.9,836.9 1682.9,825.5 1688,816.7Z" fill="none" stroke="#fff4e0" stroke-width="3.6" opacity="0.95" filter="url(#blurE)"/></g>
<ellipse cx="1933" cy="1084.6" rx="8.6" ry="13.8" fill="#000000" opacity="0.9" filter="url(#blur9)"/>
<rect x="1499" y="737.5" width="551.5" height="395" filter="url(#mottleD)" opacity="0.3"/>
<rect x="1499" y="737.5" width="551.5" height="395" filter="url(#grain)" opacity="0.5"/>
</g>
<path d="M713,601.7H724.7M741.4,601.7H761.7M778.4,601.7H798.7M815.4,601.7H835.7M852.4,601.7H872.7M889.4,601.7H909.7M926.4,601.7H946.7M963.4,601.7H983.7M1000.4,601.7H1020.7M1037.4,601.7H1057.7M1074.4,601.7H1094.7M1111.4,601.7H1131.7M1148.4,601.7H1168.7M1185.4,601.7H1205.7M1222.4,601.7H1242.7M1259.4,601.7H1279.7M1296.4,601.7H1316.7M1333.4,601.7H1353.7M1370.4,601.7H1390.7M1407.4,601.7H1427.7M1444.4,601.7H1464.7M1481.4,601.7H1501.7M1518.4,601.7H1538.7M1555.4,601.7H1575.7M1592.4,601.7H1612.7M1629.4,601.7H1649.7M1666.4,601.7H1686.7M1703.4,601.7H1723.7M1740.4,601.7H1760.7M1777.4,601.7H1797.7M1814.4,601.7H1834.7M1851.4,601.7H1871.7M1888.4,601.7H1908.7M1925.4,601.7H1945.7M1962.4,601.7H1982.7M1999.4,601.7H2019.7M2036.4,601.7H2056M720,1158.4H740.6M757,1158.4H777.6M794,1158.4H814.6M830.9,1158.4H851.5M867.9,1158.4H888.5M904.9,1158.4H925.5M941.9,1158.4H962.5M978.9,1158.4H999.5M1015.8,1158.4H1036.4M1052.8,1158.4H1073.4M1089.8,1158.4H1110.4M1126.8,1158.4H1147.4M1163.8,1158.4H1184.4M1200.7,1158.4H1221.3M1237.7,1158.4H1258.3M1274.7,1158.4H1295.3M1311.7,1158.4H1332.3M1348.7,1158.4H1369.3M1385.6,1158.4H1406.2M1422.6,1158.4H1443.2M1459.6,1158.4H1480.2M1496.6,1158.4H1517.2M1533.6,1158.4H1554.2M1570.5,1158.4H1591.1M1607.5,1158.4H1628.1M1644.5,1158.4H1665.1M1681.5,1158.4H1702.1M1718.5,1158.4H1739.1M1755.4,1158.4H1776M1792.4,1158.4H1813M1829.4,1158.4H1850M1866.4,1158.4H1887M1903.4,1158.4H1924M1940.3,1158.4H1960.9M1977.3,1158.4H1997.9M2014.3,1158.4H2034.9M2051.3,1158.4H2056M697,617.8V638M697,654.9V675.1M697,692.1V712.3M697,729.2V749.4M697,766.3V786.5M697,803.4V823.6M697,840.6V860.8M697,877.7V897.9M697,914.8V935M697,952V972.2M697,989.1V1009.3M697,1026.2V1046.4M697,1063.4V1083.6M697,1100.5V1120.7M697,1137.6V1142.4M2072,630.8V651.4M2072,668.1V688.7M2072,705.4V726M2072,742.7V763.3M2072,780V800.6M2072,817.3V837.9M2072,854.6V875.2M2072,891.9V912.5M2072,929.2V949.8M2072,966.5V987.1M2072,1003.8V1024.4M2072,1041.1V1061.7M2072,1078.4V1099M2072,1115.7V1136.3M701.7,606.4A16,16 0 0 1 713,601.7M2056,601.7A16,16 0 0 1 2072,617.7M2056,1158.4A16,16 0 0 0 2067.3,1153.7M697,1137.8V1142.4A16,16 0 0 0 701.7,1153.7" fill="none" stroke="#22c2c4" stroke-width="6.2"/>
<rect x="768" y="616" width="580" height="402" fill="none" stroke="#22aaee" stroke-width="3"/>
<rect x="769.5" y="1011.5" width="577" height="5" fill="#f070f0"/>
<rect x="1497.5" y="735.5" width="554" height="402.5" fill="none" stroke="#ff1a1a" stroke-width="3"/>
<rect x="1499" y="1132.5" width="551.5" height="4" fill="#f08020"/>
<rect x="1229" y="994" width="105.6" height="8" fill="#ffff00"/>
<text class="R" x="1223" y="983.6" font-size="40" font-weight="bold" fill="#ffff00" stroke="#9a9a50" stroke-width="0.7">40 &#956;m</text>
<rect x="1934" y="1116.5" width="103" height="7.5" fill="#ffff00"/>
<text class="R" x="1928.5" y="1105" font-size="39" font-weight="bold" fill="#ffff00" stroke="#9a9a50" stroke-width="0.7">40 &#956;m</text>
<polygon points="1363,659.6 1382,640.7 1382,648.8 1480.6,648.8 1468.5,659.6 1480.6,670.4 1382,670.4 1382,678.5" fill="url(#gArrL)"/>
<polygon points="1360,1072 1464.4,1072 1464.4,1062 1484.5,1082 1464.4,1102 1464.4,1091.6 1360,1091.6 1371.5,1081.8" fill="url(#gArrR)"/>
<text class="R" x="1496" y="672.5" font-size="31.6" font-weight="bold" fill="#ff0000">Before thermal cycling experiment</text>
<text class="R" x="890" y="1092" font-size="31.6" font-weight="bold" fill="#0000ff">After thermal cycling experiment</text>
<text class="R" x="709.7" y="643.5" font-size="50" font-weight="bold" fill="#000">(e)</text>
<polygon points="87,39 367,28 367,325 112,394" fill="#e1f2ec"/>
<polygon points="367,28 660,40 633,390 367,325" fill="#f8fcf3"/>
<polygon points="112,394 367,325 633,390 386,532" fill="#f1f8e1"/>
<line x1="123.1" y1="37.6" x2="144.9" y2="385.1" stroke="#c4c8c4" stroke-width="1.1"/>
<line x1="158.1" y1="36.2" x2="176.8" y2="376.5" stroke="#c4c8c4" stroke-width="1.1"/>
<line x1="188.9" y1="35" x2="204.8" y2="368.9" stroke="#c4c8c4" stroke-width="1.1"/>
<line x1="218.6" y1="33.8" x2="231.8" y2="361.6" stroke="#c4c8c4" stroke-width="1.1"/>
<line x1="245.5" y1="32.8" x2="256.3" y2="354.9" stroke="#c4c8c4" stroke-width="1.1"/>
<line x1="274" y1="31.7" x2="282.3" y2="347.9" stroke="#c4c8c4" stroke-width="1.1"/>
<line x1="299" y1="30.7" x2="305" y2="341.8" stroke="#c4c8c4" stroke-width="1.1"/>
<line x1="323.9" y1="29.7" x2="327.7" y2="335.6" stroke="#c4c8c4" stroke-width="1.1"/>
<line x1="344.9" y1="28.9" x2="346.9" y2="330.5" stroke="#c4c8c4" stroke-width="1.1"/>
<polyline points="91.9,108.9 367,86.5 654.7,109" fill="none" stroke="#c4c8c4" stroke-width="1.2" stroke-dasharray="7,6"/>
<polyline points="96.7,176 367,142.6 649.6,175.1" fill="none" stroke="#c4c8c4" stroke-width="1.2" stroke-dasharray="7,6"/>
<polyline points="101.3,242.1 367,197.9 644.6,240.2" fill="none" stroke="#c4c8c4" stroke-width="1.2" stroke-dasharray="7,6"/>
<polyline points="105.7,304.9 367,250.5 639.8,302.1" fill="none" stroke="#c4c8c4" stroke-width="1.2" stroke-dasharray="7,6"/>
<polyline points="110.1,367 367,302.4 635.1,363.4" fill="none" stroke="#c4c8c4" stroke-width="1.2" stroke-dasharray="7,6"/>
<line x1="415.9" y1="30" x2="411.4" y2="335.9" stroke="#c4c8c4" stroke-width="1.1"/>
<line x1="466.9" y1="32.1" x2="457.7" y2="347.2" stroke="#c4c8c4" stroke-width="1.1"/>
<line x1="526.1" y1="34.5" x2="511.4" y2="360.3" stroke="#c4c8c4" stroke-width="1.1"/>
<line x1="587.3" y1="37" x2="567" y2="373.9" stroke="#c4c8c4" stroke-width="1.1"/>
<line x1="157.8" y1="417" x2="411.4" y2="335.9" stroke="#c4c8b8" stroke-width="1.1" stroke-dasharray="4,4"/>
<line x1="205.4" y1="441.1" x2="457.7" y2="347.2" stroke="#c4c8b8" stroke-width="1.1" stroke-dasharray="4,4"/>
<line x1="260.8" y1="468.9" x2="511.4" y2="360.3" stroke="#c4c8b8" stroke-width="1.1" stroke-dasharray="4,4"/>
<line x1="318" y1="497.8" x2="567" y2="373.9" stroke="#c4c8b8" stroke-width="1.1" stroke-dasharray="4,4"/>
<line x1="137.5" y1="387.1" x2="410.7" y2="517.8" stroke="#c4c8b8" stroke-width="1.1" stroke-dasharray="4,4"/>
<line x1="163" y1="380.2" x2="435.4" y2="503.6" stroke="#c4c8b8" stroke-width="1.1" stroke-dasharray="4,4"/>
<line x1="188.5" y1="373.3" x2="460.1" y2="489.4" stroke="#c4c8b8" stroke-width="1.1" stroke-dasharray="4,4"/>
<line x1="214" y1="366.4" x2="484.8" y2="475.2" stroke="#c4c8b8" stroke-width="1.1" stroke-dasharray="4,4"/>
<line x1="239.5" y1="359.5" x2="509.5" y2="461" stroke="#c4c8b8" stroke-width="1.1" stroke-dasharray="4,4"/>
<line x1="265" y1="352.6" x2="534.2" y2="446.8" stroke="#c4c8b8" stroke-width="1.1" stroke-dasharray="4,4"/>
<line x1="290.5" y1="345.7" x2="558.9" y2="432.6" stroke="#c4c8b8" stroke-width="1.1" stroke-dasharray="4,4"/>
<line x1="316" y1="338.8" x2="583.6" y2="418.4" stroke="#c4c8b8" stroke-width="1.1" stroke-dasharray="4,4"/>
<line x1="341.5" y1="331.9" x2="608.3" y2="404.2" stroke="#c4c8b8" stroke-width="1.1" stroke-dasharray="4,4"/>
<polyline points="87,39 367,28 660,40" fill="none" stroke="#555" stroke-width="1.8"/>
<line x1="367" y1="28" x2="367" y2="325" stroke="#8a8a8a" stroke-width="1.2"/>
<line x1="660" y1="40" x2="633" y2="390" stroke="#555" stroke-width="1.8" stroke-dasharray="10,3"/>
<polyline points="112,394 367,325 633,390" fill="none" stroke="#333" stroke-width="1.8" stroke-dasharray="4,3"/>
<polygon points="371.4,185.5 373.4,185.8 375.4,186.2 377.4,186.5 379.4,186.9 381.4,187.2 383.4,187.6 385.4,187.9 387.4,188.3 389.4,188.6 391.4,189 393.4,189.3 395.4,189.7 397.4,190 399.4,190.3 401.4,190.7 403.4,191 405.4,191.4 407.4,191.7 409.4,192.1 411.4,192.4 413.4,192.8 415.4,193.1 417.4,193.5 419.4,193.8 421.4,194.1 423.4,194.5 425.4,194.8 427.4,195.2 427.9,195.3 428.4,195.4 428.9,195.4 429.4,195.5 429.9,195.6 430.4,195.7 430.9,195.8 431.4,195.9 431.9,196 432.4,196 432.9,196.1 433.4,196.2 433.9,196.3 434.4,196.4 434.9,196.5 435.4,196.6 435.9,196.7 436.4,196.7 436.9,196.8 437.4,196.9 437.9,197 438.4,197.1 438.9,197.2 439.4,197.3 439.9,197.3 440.4,197.4 440.9,197.5 441.4,197.6 441.9,197.7 442.4,197.8 442.9,197.9 443.4,198 443.9,198 444.4,198.1 444.9,198.2 445.4,198.3 445.9,198.4 446.4,198.5 446.9,198.6 447.4,198.6 447.9,198.7 448.4,198.8 448.9,198.8 449.4,198.8 449.9,198.3 450.4,197.1 450.9,194.5 451.4,189.4 451.9,181.1 452.4,169.2 452.9,154.2 453.4,137.4 453.9,120.5 454.4,105.6 454.9,93.8 455.4,85.8 455.9,81.3 456.4,79.5 456.9,79.2 457.4,80.7 457.9,84.5 458.4,89.7 458.9,95.8 459.4,102.5 459.9,109.6 460.4,116.9 460.9,124.2 461.4,131.4 461.9,138.3 462.4,145 462.9,151.3 463.4,157.1 463.9,162.6 464.4,167.6 464.9,172.1 465.4,176.2 465.9,179.8 466.4,183.1 466.9,186 467.4,188.5 467.9,190.7 468.4,192.7 468.9,194.3 469.4,195.8 469.9,197 470.4,198.1 470.9,199 471.4,199.7 471.9,200.4 472.4,201 472.9,201.4 473.4,201.8 473.9,202.2 474.4,202.5 474.9,202.7 475.4,203 475.9,203.2 476.4,203.3 476.9,203.5 477.4,203.6 477.9,203.8 478.4,203.9 478.9,204 479.4,204.1 479.9,204.2 480.4,204.3 480.9,204.4 481.4,204.5 481.9,204.6 482.4,204.7 482.9,204.8 483.4,204.9 483.9,205 484.4,205 484.9,205.1 485.4,205.2 485.9,205.3 486.4,205.4 486.9,205.5 487.4,205.6 489.4,205.9 491.4,206.3 491.9,206.3 492.4,206.4 492.9,206.5 493.4,206.6 493.9,206.7 494.4,206.8 494.9,206.9 495.4,206.9 495.9,207 496.4,207.1 496.9,207.2 497.4,207.3 497.9,207.4 498.4,207.5 498.9,207.6 499.4,207.6 499.9,207.7 500.4,207.8 500.9,207.9 501.4,208 501.9,208.1 502.4,208.2 502.9,208.2 503.4,208.3 503.9,208.4 504.4,208.5 504.9,208.6 505.4,208.7 505.9,208.8 506.4,208.8 506.9,208.9 507.4,209 507.9,209.1 508.4,209.2 508.9,209.3 509.4,209.4 509.9,209.5 510.4,209.5 510.9,209.6 511.4,209.7 511.9,209.8 512.4,209.9 512.9,210 513.4,210.1 513.9,210.2 514.4,210.2 514.9,210.3 515.4,210.4 515.9,210.5 516.4,210.6 516.9,210.7 517.4,210.8 517.9,210.9 518.4,211.1 518.9,211.2 519.4,211.3 519.9,211.5 520.4,211.6 520.9,211.8 521.4,212 521.9,212.1 522.4,212.3 522.9,212.5 523.4,212.7 523.9,212.9 524.4,213 524.9,213.2 525.4,213.4 525.9,213.5 526.4,213.6 526.9,213.8 527.4,213.9 527.9,214 528.4,214.1 528.9,214.2 529.4,214.3 529.9,214.4 530.4,214.5 530.9,214.6 531.4,214.7 531.9,214.7 532.4,214.8 532.9,214.9 533.4,215 533.9,215.1 534.4,215.2 534.9,215.3 535.4,215.4 535.9,215.4 536.4,215.5 536.9,215.6 537.4,215.7 537.9,215.8 538.4,215.9 538.9,216 539.4,216.1 539.9,216.1 540.4,216.2 540.9,216.3 541.4,216.4 541.9,216.5 542.4,216.6 542.9,216.7 543.4,216.7 543.9,216.8 544.4,216.9 544.9,217 545.4,217.1 545.9,217.2 546.4,217.3 546.9,217.4 547.4,217.4 547.9,217.5 548.4,217.6 548.9,217.7 549.4,217.8 549.9,217.9 551.9,218.2 553.9,218.6 555.9,218.9 557.9,219.3 559.9,219.6 561.9,219.9 563.9,220.3 565.9,220.6 567.9,221 569.9,221.3 571.9,221.7 573.9,222 575.9,222.4 577.9,222.7 579.9,223.1 581.9,223.4 583.9,223.7 585.9,224.1 587.9,224.4 589.9,224.8 591.9,225.1 593.9,225.5 595.9,225.8 597.9,226.2 599.9,226.5 601.9,226.9 603.9,227.2 605.9,227.6 607.9,227.9 609.9,228.2 611.9,228.6 613.9,228.9 615.9,229.3 617.9,229.6 619.9,230 621.9,230.3 623.9,230.7 625.9,231 627.9,231.5 628.4,231.6 628.9,231.8 629.4,232.1 629.9,232.4 630.4,232.7 630.9,233 631.4,233.4 631.9,233.8 632.4,234.3 632.9,234.8 633.4,235.4 633.9,236 634.4,236.6 634.9,237.3 635.4,238 635.9,238.8 636.4,239.6 636.9,240.5 637.4,241.4 637.9,242.4 638.4,243.4 638.9,244.5 639.4,245.6 639.9,246.7 640.4,247.9 640.7,248.7 637.7,258 637.7,258 637.7,258 637.7,258 637.7,258 637.7,258 637.7,258 637.4,257.4 636.9,256.5 636.4,255.6 635.9,254.8 635.4,254 634.9,253.3 634.4,252.6 633.9,252 633.4,251.4 632.9,250.8 632.4,250.3 631.9,249.8 631.4,249.4 630.9,249 630.4,248.7 629.9,248.4 629.4,248.1 628.9,247.8 628.4,247.6 627.9,247.5 625.9,247 623.9,246.7 621.9,246.3 619.9,246 617.9,245.6 615.9,245.3 613.9,244.9 611.9,244.6 609.9,244.2 607.9,243.9 605.9,243.6 603.9,243.2 601.9,242.9 599.9,242.5 597.9,242.2 595.9,241.8 593.9,241.5 591.9,241.1 589.9,240.8 587.9,240.4 585.9,240.1 583.9,239.7 581.9,239.4 579.9,239.1 577.9,238.7 575.9,238.4 573.9,238 571.9,237.7 569.9,237.3 567.9,237 565.9,236.6 563.9,236.3 561.9,235.9 559.9,235.6 557.9,235.3 555.9,234.9 553.9,234.6 551.9,234.2 549.9,233.9 549.4,233.8 548.9,233.7 548.4,233.6 547.9,233.5 547.4,233.4 546.9,233.4 546.4,233.3 545.9,233.2 545.4,233.1 544.9,233 544.4,232.9 543.9,232.8 543.4,232.7 542.9,232.7 542.4,232.6 541.9,232.5 541.4,232.4 540.9,232.3 540.4,232.2 539.9,232.1 539.4,232.1 538.9,232 538.4,231.9 537.9,231.8 537.4,231.7 536.9,231.6 536.4,231.6 535.9,231.5 535.4,231.4 534.9,231.3 534.4,231.3 533.9,231.2 533.4,231.2 532.9,231.2 532.4,231.2 531.9,231.3 531.4,231.4 530.9,231.6 530.4,231.8 529.9,232.2 529.4,232.8 528.9,233.6 528.4,234.6 527.9,235.9 527.4,237.6 526.9,239.7 526.4,242.4 525.9,245.7 525.4,249.6 524.9,254.2 524.4,259.6 523.9,265.8 523.4,272.8 522.9,280.4 522.4,288.5 521.9,296.9 521.4,305.2 520.9,313.1 520.4,319.9 519.9,324.7 519.4,325.5 518.9,322.9 518.4,319.4 517.9,315.2 517.4,310.7 516.9,306.1 516.4,301.4 515.9,296.8 515.4,292.3 514.9,288.1 514.4,284 513.9,280.3 513.4,276.7 512.9,273.4 512.4,270.4 511.9,267.5 511.4,264.9 510.9,262.5 510.4,260.3 509.9,258.2 509.4,256.2 508.9,254.4 508.4,252.7 507.9,251.1 507.4,249.6 506.9,248.1 506.4,246.7 505.9,245.4 505.4,244.2 504.9,243 504.4,241.8 503.9,240.7 503.4,239.6 502.9,238.6 502.4,237.6 501.9,236.7 501.4,235.8 500.9,234.9 500.4,234 499.9,233.2 499.4,232.5 498.9,231.7 498.4,231.1 497.9,230.4 497.4,229.8 496.9,229.2 496.4,228.6 495.9,228 495.4,227.5 494.9,227.1 494.4,226.6 493.9,226.2 493.4,225.8 492.9,225.4 492.4,225 491.9,224.7 491.4,224.4 489.4,223.3 487.4,222.4 486.9,222.3 486.4,222.1 485.9,221.9 485.4,221.8 484.9,221.6 484.4,221.5 483.9,221.3 483.4,221.2 482.9,221.1 482.4,220.9 481.9,220.8 481.4,220.7 480.9,220.6 480.4,220.5 479.9,220.4 479.4,220.3 478.9,220.2 478.4,220.1 477.9,220 477.4,219.9 476.9,219.8 476.4,219.7 475.9,219.6 475.4,219.5 474.9,219.4 474.4,219.3 473.9,219.2 473.4,219.2 472.9,219.1 472.4,219 471.9,218.9 471.4,218.8 470.9,218.7 470.4,218.6 469.9,218.5 469.4,218.5 468.9,218.4 468.4,218.3 467.9,218.2 467.4,218.1 466.9,218 466.4,217.9 465.9,217.8 465.4,217.8 464.9,217.7 464.4,217.6 463.9,217.5 463.4,217.4 462.9,217.3 462.4,217.2 461.9,217.2 461.4,217.1 460.9,217 460.4,216.9 459.9,216.8 459.4,216.7 458.9,216.6 458.4,216.5 457.9,216.5 457.4,216.4 456.9,216.3 456.4,216.2 455.9,216.1 455.4,216 454.9,215.9 454.4,215.8 453.9,215.6 453.4,215.5 452.9,215.4 452.4,215.3 451.9,215.1 451.4,215 450.9,214.9 450.4,214.7 449.9,214.6 449.4,214.5 448.9,214.3 448.4,214.2 447.9,214.1 447.4,214 446.9,213.8 446.4,213.7 445.9,213.6 445.4,213.4 444.9,213.3 444.4,213.2 443.9,213.1 443.4,212.9 442.9,212.8 442.4,212.7 441.9,212.5 441.4,212.4 440.9,212.3 440.4,212.1 439.9,212 439.4,211.9 438.9,211.8 438.4,211.6 437.9,211.5 437.4,211.4 436.9,211.2 436.4,211.1 435.9,211 435.4,210.9 434.9,210.7 434.4,210.6 433.9,210.5 433.4,210.3 432.9,210.2 432.4,210.1 431.9,209.9 431.4,209.8 430.9,209.7 430.4,209.6 429.9,209.4 429.4,209.3 428.9,209.2 428.4,209 427.9,208.9 427.4,208.8 425.4,208.3 423.4,207.8 421.4,207.2 419.4,206.7 417.4,206.2 415.4,205.7 413.4,205.2 411.4,204.6 409.4,204.1 407.4,203.6 405.4,203.1 403.4,202.6 401.4,202.1 399.4,201.5 397.4,201 395.4,200.5 393.4,200 391.4,199.5 389.4,199 387.4,198.4 385.4,197.9 383.4,196.8 381.4,195.7 379.4,194.4 377.4,193.1 375.4,191.5 373.4,189.6 371.4,185.5" fill="#ff0a70" fill-opacity="0.78"/>
<polygon points="350,188 352,188.4 354,188.7 356,189.1 358,189.5 360,189.9 362,190.2 364,190.6 366,191 368,191.4 370,191.7 372,192.1 374,192.5 376,192.8 378,193.2 380,193.6 382,194 384,194.3 386,194.7 388,195.1 390,195.5 392,195.8 394,196.2 396,196.6 398,197 400,197.3 402,197.7 404,198.1 406,198.4 408,198.8 408.5,198.9 409,199 409.5,199.1 410,199.2 410.5,199.3 411,199.4 411.5,199.5 412,199.6 412.5,199.7 413,199.7 413.5,199.8 414,199.9 414.5,200 415,200.1 415.5,200.2 416,200.3 416.5,200.4 417,200.5 417.5,200.6 418,200.7 418.5,200.8 419,200.9 419.5,201 420,201.1 420.5,201.1 421,201.2 421.5,201.3 422,201.4 422.5,201.5 423,201.6 423.5,201.7 424,201.8 424.5,201.9 425,202 425.5,202.1 426,202.2 426.5,202.3 427,202.4 427.5,202.4 428,202.4 428.5,202.3 429,201.7 429.5,200.2 430,197.1 430.5,191.5 431,182.6 431.5,170.3 432,154.9 432.5,137.9 433,121 433.5,105.9 434,94 434.5,85.6 435,80.8 435.5,78.6 436,78.2 436.5,79.2 437,82.6 437.5,87.5 438,93.4 438.5,100 439,107 439.5,114.3 440,121.6 440.5,128.9 441,136.1 441.5,142.9 442,149.5 442.5,155.6 443,161.4 443.5,166.7 444,171.6 444.5,176 445,180 445.5,183.6 446,186.8 446.5,189.7 447,192.2 447.5,194.4 448,196.4 448.5,198 449,199.5 449.5,200.8 450,201.8 450.5,202.8 451,203.6 451.5,204.3 452,204.8 452.5,205.3 453,205.8 453.5,206.1 454,206.5 454.5,206.7 455,207 455.5,207.2 456,207.4 456.5,207.6 457,207.7 457.5,207.9 458,208 458.5,208.1 459,208.2 459.5,208.4 460,208.5 460.5,208.6 461,208.7 461.5,208.8 462,208.9 462.5,209 463,209.1 463.5,209.2 464,209.3 464.5,209.3 465,209.4 465.5,209.5 466,209.6 466.5,209.7 468.5,210.1 470.5,210.5 471,210.6 471.5,210.7 472,210.7 472.5,210.8 473,210.9 473.5,211 474,211.1 474.5,211.2 475,211.3 475.5,211.4 476,211.5 476.5,211.6 477,211.7 477.5,211.8 478,211.9 478.5,212 479,212.1 479.5,212.1 480,212.2 480.5,212.3 481,212.4 481.5,212.5 482,212.6 482.5,212.7 483,212.8 483.5,212.9 484,213 484.5,213.1 485,213.2 485.5,213.3 486,213.4 486.5,213.5 487,213.5 487.5,213.6 488,213.7 488.5,213.8 489,213.9 489.5,214 490,214.1 490.5,214.2 491,214.3 491.5,214.4 492,214.5 492.5,214.6 493,214.7 493.5,214.8 494,214.9 494.5,215 495,215.1 495.5,215.2 496,215.3 496.5,215.4 497,215.5 497.5,215.6 498,215.8 498.5,215.9 499,216.1 499.5,216.2 500,216.4 500.5,216.6 501,216.8 501.5,217 502,217.3 502.5,217.5 503,217.7 503.5,218 504,218.2 504.5,218.4 505,218.7 505.5,218.9 506,219 506.5,219.2 507,219.4 507.5,219.5 508,219.7 508.5,219.8 509,219.9 509.5,220 510,220.1 510.5,220.2 511,220.3 511.5,220.4 512,220.5 512.5,220.6 513,220.7 513.5,220.8 514,220.9 514.5,221 515,221.1 515.5,221.2 516,221.3 516.5,221.4 517,221.5 517.5,221.6 518,221.7 518.5,221.8 519,221.9 519.5,222 520,222 520.5,222.1 521,222.2 521.5,222.3 522,222.4 522.5,222.5 523,222.6 523.5,222.7 524,222.8 524.5,222.9 525,223 525.5,223.1 526,223.2 526.5,223.3 527,223.4 527.5,223.4 528,223.5 528.5,223.6 529,223.7 529.5,223.8 530,223.9 532,224.3 534,224.7 536,225 538,225.4 540,225.8 542,226.2 544,226.5 546,226.9 548,227.3 550,227.6 552,228 554,228.4 556,228.8 558,229.1 560,229.5 562,229.9 564,230.3 566,230.6 568,231 570,231.4 572,231.7 574,232.1 576,232.5 578,232.9 580,233.2 582,233.6 584,234 586,234.4 588,234.7 590,235.1 592,235.5 594,235.8 596,236.2 598,236.6 600,237 602,237.3 604,237.7 606,238.1 608,238.5 608.5,238.7 609,238.9 609.5,239.1 610,239.3 610.5,239.6 611,240 611.5,240.4 612,240.8 612.5,241.2 613,241.8 613.5,242.3 614,242.9 614.5,243.6 615,244.2 615.5,245 616,245.8 616.5,246.6 617,247.5 617.5,248.4 618,249.4 618.5,250.4 619,251.5 619.5,252.7 620,253.9 620.5,255.1 621,256.4 618,265.6 618,265.6 618,265.6 618,265.6 618,265.6 618,265.6 618,265.6 617.5,264.6 617,263.6 616.5,262.8 616,261.9 615.5,261.1 615,260.4 614.5,259.7 614,259.1 613.5,258.5 613,257.9 612.5,257.4 612,256.9 611.5,256.5 611,256.1 610.5,255.8 610,255.5 609.5,255.2 609,255 608.5,254.8 608,254.7 606,254.2 604,253.9 602,253.5 600,253.1 598,252.7 596,252.4 594,252 592,251.6 590,251.3 588,250.9 586,250.5 584,250.1 582,249.8 580,249.4 578,249 576,248.6 574,248.3 572,247.9 570,247.5 568,247.2 566,246.8 564,246.4 562,246 560,245.7 558,245.3 556,244.9 554,244.5 552,244.2 550,243.8 548,243.4 546,243 544,242.7 542,242.3 540,241.9 538,241.6 536,241.2 534,240.8 532,240.4 530,240.1 529.5,240 529,239.9 528.5,239.8 528,239.7 527.5,239.6 527,239.5 526.5,239.4 526,239.3 525.5,239.2 525,239.1 524.5,239 524,238.9 523.5,238.9 523,238.8 522.5,238.7 522,238.6 521.5,238.5 521,238.4 520.5,238.3 520,238.2 519.5,238.1 519,238 518.5,237.9 518,237.8 517.5,237.7 517,237.7 516.5,237.6 516,237.5 515.5,237.4 515,237.4 514.5,237.3 514,237.3 513.5,237.2 513,237.3 512.5,237.3 512,237.4 511.5,237.6 511,237.9 510.5,238.2 510,238.8 509.5,239.5 509,240.4 508.5,241.7 508,243.3 507.5,245.2 507,247.7 506.5,250.7 506,254.3 505.5,258.6 505,263.6 504.5,269.4 504,275.9 503.5,283.1 503,290.9 502.5,299.1 502,307.5 501.5,315.7 501,323.3 500.5,329.6 500,333.8 499.5,333.5 499,330.7 498.5,327 498,322.8 497.5,318.2 497,313.6 496.5,308.9 496,304.3 495.5,299.8 495,295.5 494.5,291.4 494,287.6 493.5,284 493,280.6 492.5,277.5 492,274.6 491.5,271.9 491,269.4 490.5,267.1 490,265 489.5,262.9 489,261.1 488.5,259.3 488,257.6 487.5,256 487,254.5 486.5,253.1 486,251.7 485.5,250.4 485,249.2 484.5,248 484,246.8 483.5,245.7 483,244.7 482.5,243.6 482,242.6 481.5,241.7 481,240.8 480.5,239.9 480,239 479.5,238.2 479,237.4 478.5,236.7 478,236 477.5,235.3 477,234.7 476.5,234 476,233.5 475.5,232.9 475,232.4 474.5,231.9 474,231.4 473.5,231 473,230.5 472.5,230.1 472,229.8 471.5,229.4 471,229.1 470.5,228.7 468.5,227.6 466.5,226.8 466,226.6 465.5,226.4 465,226.2 464.5,226.1 464,225.9 463.5,225.8 463,225.6 462.5,225.5 462,225.3 461.5,225.2 461,225.1 460.5,225 460,224.8 459.5,224.7 459,224.6 458.5,224.5 458,224.4 457.5,224.3 457,224.2 456.5,224.1 456,224 455.5,223.9 455,223.8 454.5,223.7 454,223.6 453.5,223.5 453,223.4 452.5,223.3 452,223.2 451.5,223.1 451,223 450.5,222.9 450,222.8 449.5,222.7 449,222.6 448.5,222.5 448,222.4 447.5,222.3 447,222.2 446.5,222.1 446,222.1 445.5,222 445,221.9 444.5,221.8 444,221.7 443.5,221.6 443,221.5 442.5,221.4 442,221.3 441.5,221.2 441,221.1 440.5,221 440,220.9 439.5,220.8 439,220.7 438.5,220.7 438,220.6 437.5,220.5 437,220.4 436.5,220.3 436,220.2 435.5,220.1 435,220 434.5,219.9 434,219.8 433.5,219.7 433,219.5 432.5,219.4 432,219.3 431.5,219.1 431,219 430.5,218.9 430,218.7 429.5,218.6 429,218.4 428.5,218.3 428,218.2 427.5,218 427,217.9 426.5,217.8 426,217.6 425.5,217.5 425,217.3 424.5,217.2 424,217.1 423.5,216.9 423,216.8 422.5,216.7 422,216.5 421.5,216.4 421,216.2 420.5,216.1 420,216 419.5,215.8 419,215.7 418.5,215.6 418,215.4 417.5,215.3 417,215.1 416.5,215 416,214.9 415.5,214.7 415,214.6 414.5,214.5 414,214.3 413.5,214.2 413,214.1 412.5,213.9 412,213.8 411.5,213.6 411,213.5 410.5,213.4 410,213.2 409.5,213.1 409,213 408.5,212.8 408,212.7 406,212.1 404,211.6 402,211 400,210.5 398,209.9 396,209.4 394,208.8 392,208.3 390,207.7 388,207.2 386,206.6 384,206.1 382,205.5 380,205 378,204.5 376,203.9 374,203.4 372,202.8 370,202.3 368,201.7 366,201.2 364,200.6 362,199.5 360,198.3 358,197.1 356,195.7 354,194.1 352,192.2 350,188" fill="#3a943a" fill-opacity="0.78"/>
<polygon points="328,192 330,192.4 332,192.8 334,193.2 336,193.6 338,193.9 340,194.3 342,194.7 344,195.1 346,195.5 348,195.9 350,196.3 352,196.7 354,197.1 356,197.4 358,197.8 360,198.2 362,198.6 364,199 366,199.4 368,199.8 370,200.2 372,200.6 374,201 376,201.3 378,201.7 380,202.1 382,202.5 384,202.9 384.5,203 385,203.1 385.5,203.2 386,203.3 386.5,203.4 387,203.5 387.5,203.6 388,203.7 388.5,203.8 389,203.9 389.5,204 390,204.1 390.5,204.2 391,204.3 391.5,204.4 392,204.5 392.5,204.5 393,204.6 393.5,204.7 394,204.8 394.5,204.9 395,205 395.5,205.1 396,205.2 396.5,205.3 397,205.4 397.5,205.5 398,205.6 398.5,205.7 399,205.8 399.5,205.9 400,206 400.5,206.1 401,206.2 401.5,206.3 402,206.4 402.5,206.5 403,206.6 403.5,206.7 404,206.8 404.5,206.9 405,206.9 405.5,207 406,206.8 406.5,206.1 407,204.6 407.5,201.4 408,195.7 408.5,186.8 409,174.5 409.5,159.1 410,141.9 410.5,124.5 411,108.6 411.5,95.6 412,86.1 412.5,80.1 413,77.2 413.5,76.2 414,76.4 414.5,79 415,83.4 415.5,89 416,95.4 416.5,102.3 417,109.6 417.5,117.1 418,124.6 418.5,132 419,139.2 419.5,146.1 420,152.7 420.5,158.9 421,164.7 421.5,170.1 422,175 422.5,179.5 423,183.6 423.5,187.2 424,190.5 424.5,193.5 425,196 425.5,198.3 426,200.3 426.5,202.1 427,203.6 427.5,205 428,206.1 428.5,207.1 429,208 429.5,208.7 430,209.3 430.5,209.9 431,210.4 431.5,210.8 432,211.1 432.5,211.4 433,211.7 433.5,212 434,212.2 434.5,212.4 435,212.5 435.5,212.7 436,212.8 436.5,213 437,213.1 437.5,213.2 438,213.3 438.5,213.4 439,213.6 439.5,213.7 440,213.8 440.5,213.9 441,214 441.5,214.1 442,214.2 442.5,214.3 443,214.4 443.5,214.5 444,214.6 446,215 448,215.3 450,215.7 450.5,215.8 451,215.9 451.5,216 452,216.1 452.5,216.2 453,216.3 453.5,216.4 454,216.5 454.5,216.6 455,216.7 455.5,216.8 456,216.9 456.5,217 457,217.1 457.5,217.2 458,217.3 458.5,217.4 459,217.5 459.5,217.6 460,217.7 460.5,217.8 461,217.9 461.5,218 462,218.1 462.5,218.2 463,218.3 463.5,218.4 464,218.5 464.5,218.6 465,218.7 465.5,218.8 466,218.9 466.5,218.9 467,219 467.5,219.1 468,219.2 468.5,219.3 469,219.4 469.5,219.5 470,219.6 470.5,219.7 471,219.8 471.5,219.9 472,220 472.5,220.1 473,220.2 473.5,220.3 474,220.4 474.5,220.6 475,220.7 475.5,220.8 476,220.9 476.5,221 477,221.2 477.5,221.3 478,221.5 478.5,221.6 479,221.8 479.5,222 480,222.2 480.5,222.5 481,222.7 481.5,223 482,223.3 482.5,223.6 483,223.9 483.5,224.2 484,224.5 484.5,224.7 485,225 485.5,225.2 486,225.4 486.5,225.6 487,225.8 487.5,226 488,226.1 488.5,226.3 489,226.4 489.5,226.5 490,226.6 490.5,226.8 491,226.9 491.5,227 492,227.1 492.5,227.2 493,227.3 493.5,227.4 494,227.5 494.5,227.6 495,227.7 495.5,227.8 496,227.9 496.5,228 497,228.1 497.5,228.2 498,228.3 498.5,228.4 499,228.5 499.5,228.6 500,228.7 500.5,228.8 501,228.9 501.5,229 502,229.1 502.5,229.2 503,229.3 503.5,229.3 504,229.4 504.5,229.5 505,229.6 505.5,229.7 506,229.8 506.5,229.9 507,230 507.5,230.1 508,230.2 508.5,230.3 509,230.4 509.5,230.5 511.5,230.9 513.5,231.3 515.5,231.7 517.5,232.1 519.5,232.5 521.5,232.8 523.5,233.2 525.5,233.6 527.5,234 529.5,234.4 531.5,234.8 533.5,235.2 535.5,235.6 537.5,236 539.5,236.4 541.5,236.7 543.5,237.1 545.5,237.5 547.5,237.9 549.5,238.3 551.5,238.7 553.5,239.1 555.5,239.5 557.5,239.9 559.5,240.2 561.5,240.6 563.5,241 565.5,241.4 567.5,241.8 569.5,242.2 571.5,242.6 573.5,243 575.5,243.4 577.5,243.7 579.5,244.1 581.5,244.5 583.5,244.9 585.5,245.3 587.5,245.7 589.5,246.2 590,246.4 590.5,246.6 591,246.8 591.5,247.1 592,247.5 592.5,247.9 593,248.3 593.5,248.8 594,249.3 594.5,249.8 595,250.5 595.5,251.1 596,251.8 596.5,252.6 597,253.4 597.5,254.3 598,255.2 598.5,256.2 599,257.2 599.5,258.3 600,259.4 600.5,260.6 601,261.8 601.5,263.1 602,264.5 599,273.5 599,273.5 599,273.5 599,273.5 599,273.5 599,273.5 599,273.5 598.5,272.5 598,271.5 597.5,270.6 597,269.7 596.5,268.9 596,268.1 595.5,267.4 595,266.8 594.5,266.1 594,265.6 593.5,265.1 593,264.6 592.5,264.2 592,263.8 591.5,263.4 591,263.1 590.5,262.9 590,262.7 589.5,262.5 587.5,262 585.5,261.6 583.5,261.2 581.5,260.8 579.5,260.4 577.5,260 575.5,259.7 573.5,259.3 571.5,258.9 569.5,258.5 567.5,258.1 565.5,257.7 563.5,257.3 561.5,256.9 559.5,256.5 557.5,256.2 555.5,255.8 553.5,255.4 551.5,255 549.5,254.6 547.5,254.2 545.5,253.8 543.5,253.4 541.5,253 539.5,252.7 537.5,252.3 535.5,251.9 533.5,251.5 531.5,251.1 529.5,250.7 527.5,250.3 525.5,249.9 523.5,249.5 521.5,249.1 519.5,248.8 517.5,248.4 515.5,248 513.5,247.6 511.5,247.2 509.5,246.8 509,246.7 508.5,246.6 508,246.5 507.5,246.4 507,246.3 506.5,246.2 506,246.1 505.5,246 505,245.9 504.5,245.8 504,245.7 503.5,245.6 503,245.6 502.5,245.5 502,245.4 501.5,245.3 501,245.2 500.5,245.1 500,245 499.5,244.9 499,244.8 498.5,244.7 498,244.6 497.5,244.5 497,244.4 496.5,244.3 496,244.2 495.5,244.2 495,244.1 494.5,244 494,244 493.5,244 493,244 492.5,244.1 492,244.2 491.5,244.3 491,244.6 490.5,245 490,245.5 489.5,246.2 489,247.2 488.5,248.4 488,249.9 487.5,251.8 487,254.2 486.5,257 486,260.5 485.5,264.6 485,269.3 484.5,274.8 484,281 483.5,287.8 483,295.3 482.5,303.2 482,311.4 481.5,319.6 481,327.4 480.5,334.4 480,339.8 479.5,342.5 479,340.6 478.5,337.4 478,333.6 477.5,329.2 477,324.7 476.5,320 476,315.4 475.5,310.8 475,306.4 474.5,302.2 474,298.2 473.5,294.4 473,290.8 472.5,287.5 472,284.4 471.5,281.5 471,278.8 470.5,276.3 470,273.9 469.5,271.8 469,269.7 468.5,267.8 468,266 467.5,264.3 467,262.7 466.5,261.2 466,259.8 465.5,258.4 465,257.1 464.5,255.8 464,254.6 463.5,253.4 463,252.3 462.5,251.2 462,250.1 461.5,249.1 461,248.1 460.5,247.2 460,246.3 459.5,245.4 459,244.6 458.5,243.8 458,243 457.5,242.3 457,241.5 456.5,240.9 456,240.2 455.5,239.6 455,239 454.5,238.5 454,237.9 453.5,237.4 453,236.9 452.5,236.5 452,236.1 451.5,235.6 451,235.3 450.5,234.9 450,234.5 448,233.3 446,232.4 444,231.6 443.5,231.4 443,231.2 442.5,231.1 442,230.9 441.5,230.8 441,230.6 440.5,230.5 440,230.4 439.5,230.2 439,230.1 438.5,230 438,229.9 437.5,229.7 437,229.6 436.5,229.5 436,229.4 435.5,229.3 435,229.2 434.5,229.1 434,229 433.5,228.9 433,228.8 432.5,228.7 432,228.6 431.5,228.5 431,228.4 430.5,228.3 430,228.2 429.5,228.1 429,228 428.5,227.9 428,227.8 427.5,227.7 427,227.6 426.5,227.5 426,227.4 425.5,227.3 425,227.2 424.5,227.1 424,227 423.5,226.9 423,226.8 422.5,226.7 422,226.6 421.5,226.5 421,226.4 420.5,226.3 420,226.2 419.5,226.1 419,226 418.5,225.9 418,225.8 417.5,225.7 417,225.6 416.5,225.5 416,225.4 415.5,225.3 415,225.2 414.5,225.1 414,225 413.5,224.9 413,224.8 412.5,224.7 412,224.6 411.5,224.5 411,224.4 410.5,224.2 410,224.1 409.5,223.9 409,223.8 408.5,223.6 408,223.5 407.5,223.4 407,223.2 406.5,223.1 406,222.9 405.5,222.8 405,222.7 404.5,222.5 404,222.4 403.5,222.2 403,222.1 402.5,221.9 402,221.8 401.5,221.7 401,221.5 400.5,221.4 400,221.2 399.5,221.1 399,220.9 398.5,220.8 398,220.7 397.5,220.5 397,220.4 396.5,220.2 396,220.1 395.5,219.9 395,219.8 394.5,219.7 394,219.5 393.5,219.4 393,219.2 392.5,219.1 392,219 391.5,218.8 391,218.7 390.5,218.5 390,218.4 389.5,218.2 389,218.1 388.5,218 388,217.8 387.5,217.7 387,217.5 386.5,217.4 386,217.2 385.5,217.1 385,217 384.5,216.8 384,216.7 382,216.1 380,215.5 378,215 376,214.4 374,213.8 372,213.3 370,212.7 368,212.1 366,211.6 364,211 362,210.4 360,209.8 358,209.3 356,208.7 354,208.1 352,207.6 350,207 348,206.4 346,205.9 344,205.3 342,204.7 340,203.6 338,202.4 336,201.1 334,199.7 332,198.1 330,196.2 328,192" fill="#7070ff" fill-opacity="0.78"/>
<polygon points="305,196 307,196.4 309,196.8 311,197.2 313,197.6 315,198 317,198.4 319,198.8 321,199.2 323,199.6 325,200 327,200.4 329,200.9 331,201.3 333,201.7 335,202.1 337,202.5 339,202.9 341,203.3 343,203.7 345,204.1 347,204.5 349,204.9 351,205.3 353,205.7 355,206.1 357,206.5 359,206.9 361,207.3 361.5,207.4 362,207.5 362.5,207.6 363,207.7 363.5,207.8 364,207.9 364.5,208 365,208.1 365.5,208.2 366,208.3 366.5,208.4 367,208.5 367.5,208.6 368,208.7 368.5,208.8 369,208.9 369.5,209 370,209.1 370.5,209.2 371,209.3 371.5,209.4 372,209.5 372.5,209.6 373,209.7 373.5,209.8 374,209.9 374.5,210 375,210.1 375.5,210.2 376,210.3 376.5,210.4 377,210.6 377.5,210.7 378,210.8 378.5,210.9 379,211 379.5,211.1 380,211.1 380.5,211.2 381,211.2 381.5,211 382,210.4 382.5,208.8 383,205.6 383.5,200.2 384,191.7 384.5,179.9 385,165.3 385.5,148.7 386,131.7 386.5,115.9 387,102.5 387.5,92.3 388,85.6 388.5,81.9 389,80.4 389.5,80.2 390,81.6 390.5,85.3 391,90.2 391.5,96.1 392,102.6 392.5,109.5 393,116.7 393.5,124 394,131.3 394.5,138.4 395,145.4 395.5,152 396,158.4 396.5,164.3 397,169.9 397.5,175.1 398,179.8 398.5,184.2 399,188.1 399.5,191.7 400,194.9 400.5,197.8 401,200.3 401.5,202.6 402,204.6 402.5,206.3 403,207.9 403.5,209.2 404,210.4 404.5,211.4 405,212.3 405.5,213 406,213.7 406.5,214.3 407,214.8 407.5,215.2 408,215.6 408.5,215.9 409,216.2 409.5,216.5 410,216.7 410.5,216.9 411,217.1 411.5,217.2 412,217.4 412.5,217.6 413,217.7 413.5,217.8 414,217.9 414.5,218.1 415,218.2 415.5,218.3 416,218.4 416.5,218.5 417,218.6 417.5,218.7 418,218.8 418.5,218.9 419,219 419.5,219.1 420,219.2 422,219.6 424,220 426,220.5 428,220.9 428.5,221 429,221.1 429.5,221.2 430,221.3 430.5,221.4 431,221.5 431.5,221.6 432,221.7 432.5,221.8 433,221.9 433.5,222 434,222.1 434.5,222.2 435,222.3 435.5,222.4 436,222.5 436.5,222.6 437,222.7 437.5,222.8 438,222.9 438.5,223 439,223.1 439.5,223.2 440,223.3 440.5,223.4 441,223.5 441.5,223.6 442,223.7 442.5,223.8 443,223.9 443.5,224 444,224.1 444.5,224.2 445,224.3 445.5,224.4 446,224.5 446.5,224.6 447,224.7 447.5,224.8 448,224.9 448.5,225 449,225.1 449.5,225.2 450,225.3 450.5,225.5 451,225.6 451.5,225.7 452,225.8 452.5,225.9 453,226.1 453.5,226.2 454,226.4 454.5,226.5 455,226.7 455.5,226.9 456,227.1 456.5,227.4 457,227.6 457.5,227.9 458,228.2 458.5,228.5 459,228.9 459.5,229.2 460,229.5 460.5,229.9 461,230.2 461.5,230.5 462,230.8 462.5,231.1 463,231.3 463.5,231.6 464,231.8 464.5,231.9 465,232.1 465.5,232.3 466,232.4 466.5,232.6 467,232.7 467.5,232.8 468,232.9 468.5,233 469,233.2 469.5,233.3 470,233.4 470.5,233.5 471,233.6 471.5,233.7 472,233.8 472.5,233.9 473,234 473.5,234.1 474,234.2 474.5,234.3 475,234.4 475.5,234.5 476,234.6 476.5,234.7 477,234.8 477.5,234.9 478,235 478.5,235.1 479,235.2 479.5,235.3 480,235.4 480.5,235.5 481,235.6 481.5,235.7 482,235.8 482.5,235.9 483,236 483.5,236.1 484,236.2 484.5,236.3 485,236.4 485.5,236.5 486,236.6 486.5,236.7 488.5,237.1 490.5,237.5 492.5,237.9 494.5,238.3 496.5,238.8 498.5,239.2 500.5,239.6 502.5,240 504.5,240.4 506.5,240.8 508.5,241.2 510.5,241.6 512.5,242 514.5,242.4 516.5,242.8 518.5,243.2 520.5,243.6 522.5,244 524.5,244.4 526.5,244.8 528.5,245.2 530.5,245.6 532.5,246 534.5,246.4 536.5,246.8 538.5,247.2 540.5,247.6 542.5,248 544.5,248.5 546.5,248.9 548.5,249.3 550.5,249.7 552.5,250.1 554.5,250.5 556.5,250.9 558.5,251.3 560.5,251.7 562.5,252.1 564.5,252.5 566.5,252.9 568.5,253.3 569,253.4 569.5,253.6 570,253.7 570.5,254 571,254.2 571.5,254.5 572,254.9 572.5,255.2 573,255.7 573.5,256.2 574,256.7 574.5,257.3 575,257.9 575.5,258.6 576,259.3 576.5,260.1 577,260.9 577.5,261.8 578,262.8 578.5,263.8 579,264.9 579.5,266 580,267.2 580.5,268.4 581,269.7 581.5,271.1 582,272.5 579,281.3 579,281.3 579,281.3 579,281.3 579,281.3 579,281.3 579,281.3 578.5,280.2 578,279.2 577.5,278.3 577,277.4 576.5,276.5 576,275.8 575.5,275 575,274.3 574.5,273.7 574,273.1 573.5,272.6 573,272.1 572.5,271.7 572,271.3 571.5,271 571,270.7 570.5,270.4 570,270.2 569.5,270 569,269.9 568.5,269.8 566.5,269.3 564.5,268.9 562.5,268.5 560.5,268.1 558.5,267.7 556.5,267.3 554.5,266.9 552.5,266.5 550.5,266.1 548.5,265.7 546.5,265.3 544.5,264.9 542.5,264.5 540.5,264.1 538.5,263.7 536.5,263.3 534.5,262.9 532.5,262.5 530.5,262.1 528.5,261.7 526.5,261.3 524.5,260.9 522.5,260.5 520.5,260.1 518.5,259.6 516.5,259.2 514.5,258.8 512.5,258.4 510.5,258 508.5,257.6 506.5,257.2 504.5,256.8 502.5,256.4 500.5,256 498.5,255.6 496.5,255.2 494.5,254.8 492.5,254.4 490.5,254 488.5,253.6 486.5,253.2 486,253.1 485.5,253 485,252.9 484.5,252.8 484,252.7 483.5,252.6 483,252.5 482.5,252.4 482,252.3 481.5,252.2 481,252.1 480.5,252 480,251.9 479.5,251.8 479,251.7 478.5,251.6 478,251.5 477.5,251.4 477,251.3 476.5,251.2 476,251.1 475.5,251 475,250.9 474.5,250.8 474,250.7 473.5,250.6 473,250.5 472.5,250.4 472,250.4 471.5,250.3 471,250.3 470.5,250.3 470,250.3 469.5,250.4 469,250.5 468.5,250.7 468,251 467.5,251.4 467,252 466.5,252.8 466,253.8 465.5,255 465,256.6 464.5,258.5 464,260.9 463.5,263.8 463,267.3 462.5,271.4 462,276.1 461.5,281.5 461,287.6 460.5,294.4 460,301.8 459.5,309.7 459,317.9 458.5,326.1 458,334.1 457.5,341.4 457,347.5 456.5,351.4 456,351.1 455.5,348.3 455,344.6 454.5,340.5 454,336 453.5,331.3 453,326.6 452.5,321.9 452,317.4 451.5,313 451,308.8 450.5,304.8 450,301 449.5,297.4 449,294.1 448.5,291 448,288.1 447.5,285.4 447,282.9 446.5,280.5 446,278.3 445.5,276.3 445,274.4 444.5,272.5 444,270.8 443.5,269.2 443,267.6 442.5,266.2 442,264.7 441.5,263.4 441,262.1 440.5,260.8 440,259.6 439.5,258.5 439,257.4 438.5,256.3 438,255.2 437.5,254.2 437,253.3 436.5,252.3 436,251.4 435.5,250.5 435,249.7 434.5,248.9 434,248.1 433.5,247.4 433,246.7 432.5,246 432,245.3 431.5,244.7 431,244.1 430.5,243.6 430,243 429.5,242.5 429,242 428.5,241.6 428,241.1 426,239.6 424,238.3 422,237.3 420,236.5 419.5,236.3 419,236.1 418.5,236 418,235.8 417.5,235.6 417,235.5 416.5,235.3 416,235.2 415.5,235.1 415,234.9 414.5,234.8 414,234.7 413.5,234.5 413,234.4 412.5,234.3 412,234.2 411.5,234.1 411,234 410.5,233.8 410,233.7 409.5,233.6 409,233.5 408.5,233.4 408,233.3 407.5,233.2 407,233.1 406.5,233 406,232.9 405.5,232.8 405,232.7 404.5,232.6 404,232.5 403.5,232.4 403,232.3 402.5,232.2 402,232.1 401.5,232 401,231.9 400.5,231.8 400,231.7 399.5,231.6 399,231.4 398.5,231.3 398,231.2 397.5,231.1 397,231 396.5,230.9 396,230.8 395.5,230.7 395,230.6 394.5,230.5 394,230.4 393.5,230.3 393,230.2 392.5,230.1 392,230 391.5,229.9 391,229.8 390.5,229.7 390,229.6 389.5,229.5 389,229.4 388.5,229.3 388,229.1 387.5,229 387,228.8 386.5,228.7 386,228.5 385.5,228.4 385,228.2 384.5,228.1 384,228 383.5,227.8 383,227.7 382.5,227.5 382,227.4 381.5,227.2 381,227.1 380.5,226.9 380,226.8 379.5,226.6 379,226.5 378.5,226.3 378,226.2 377.5,226 377,225.9 376.5,225.7 376,225.6 375.5,225.5 375,225.3 374.5,225.2 374,225 373.5,224.9 373,224.7 372.5,224.6 372,224.4 371.5,224.3 371,224.1 370.5,224 370,223.8 369.5,223.7 369,223.5 368.5,223.4 368,223.2 367.5,223.1 367,223 366.5,222.8 366,222.7 365.5,222.5 365,222.4 364.5,222.2 364,222.1 363.5,221.9 363,221.8 362.5,221.6 362,221.5 361.5,221.3 361,221.2 359,220.6 357,220 355,219.4 353,218.8 351,218.2 349,217.7 347,217.1 345,216.5 343,215.9 341,215.3 339,214.7 337,214.1 335,213.5 333,212.9 331,212.4 329,211.8 327,211.2 325,210.6 323,210 321,209.4 319,208.8 317,207.7 315,206.5 313,205.2 311,203.8 309,202.2 307,200.2 305,196" fill="#70d0a0" fill-opacity="0.78"/>
<polygon points="280,201 282,201.4 284,201.8 286,202.2 288,202.7 290,203.1 292,203.5 294,203.9 296,204.3 298,204.7 300,205.2 302,205.6 304,206 306,206.4 308,206.8 310,207.2 312,207.7 314,208.1 316,208.5 318,208.9 320,209.3 322,209.7 324,210.1 326,210.6 328,211 330,211.4 332,211.8 334,212.2 336,212.6 336.5,212.7 337,212.9 337.5,213 338,213.1 338.5,213.2 339,213.3 339.5,213.4 340,213.5 340.5,213.6 341,213.7 341.5,213.8 342,213.9 342.5,214 343,214.1 343.5,214.2 344,214.3 344.5,214.4 345,214.5 345.5,214.6 346,214.7 346.5,214.8 347,214.9 347.5,215 348,215.1 348.5,215.2 349,215.3 349.5,215.5 350,215.6 350.5,215.7 351,215.8 351.5,215.9 352,216 352.5,216.1 353,216.2 353.5,216.3 354,216.4 354.5,216.5 355,216.6 355.5,216.7 356,216.7 356.5,216.7 357,216.5 357.5,215.8 358,214.1 358.5,210.8 359,205.2 359.5,196.6 360,184.7 360.5,169.8 361,152.8 361.5,135.2 362,118.5 362.5,104 363,92.6 363.5,84.7 364,79.9 364.5,77.7 365,77.2 365.5,77.7 366,80.7 366.5,85.2 367,90.9 367.5,97.3 368,104.2 368.5,111.5 369,119 369.5,126.6 370,134.1 370.5,141.4 371,148.5 371.5,155.3 372,161.8 372.5,167.9 373,173.6 373.5,178.8 374,183.7 374.5,188.2 375,192.2 375.5,195.9 376,199.2 376.5,202.2 377,204.9 377.5,207.3 378,209.4 378.5,211.2 379,212.8 379.5,214.3 380,215.5 380.5,216.6 381,217.6 381.5,218.4 382,219.1 382.5,219.7 383,220.3 383.5,220.8 384,221.2 384.5,221.5 385,221.9 385.5,222.1 386,222.4 386.5,222.6 387,222.8 387.5,223 388,223.2 388.5,223.3 389,223.5 389.5,223.6 390,223.8 390.5,223.9 391,224 391.5,224.1 392,224.2 392.5,224.4 393,224.5 393.5,224.6 394,224.7 394.5,224.8 395,224.9 395.5,225 397.5,225.4 399.5,225.8 401.5,226.3 403.5,226.7 405.5,227.1 406,227.2 406.5,227.3 407,227.4 407.5,227.5 408,227.6 408.5,227.7 409,227.8 409.5,227.9 410,228 410.5,228.1 411,228.2 411.5,228.3 412,228.4 412.5,228.6 413,228.7 413.5,228.8 414,228.9 414.5,229 415,229.1 415.5,229.2 416,229.3 416.5,229.4 417,229.5 417.5,229.6 418,229.7 418.5,229.8 419,229.9 419.5,230 420,230.1 420.5,230.2 421,230.3 421.5,230.4 422,230.5 422.5,230.6 423,230.7 423.5,230.8 424,231 424.5,231.1 425,231.2 425.5,231.3 426,231.4 426.5,231.5 427,231.6 427.5,231.7 428,231.8 428.5,232 429,232.1 429.5,232.2 430,232.4 430.5,232.5 431,232.7 431.5,232.8 432,233 432.5,233.2 433,233.5 433.5,233.7 434,234 434.5,234.3 435,234.6 435.5,235 436,235.3 436.5,235.7 437,236.1 437.5,236.5 438,236.9 438.5,237.2 439,237.6 439.5,237.9 440,238.2 440.5,238.5 441,238.7 441.5,239 442,239.2 442.5,239.3 443,239.5 443.5,239.7 444,239.8 444.5,240 445,240.1 445.5,240.2 446,240.3 446.5,240.5 447,240.6 447.5,240.7 448,240.8 448.5,240.9 449,241 449.5,241.1 450,241.2 450.5,241.3 451,241.4 451.5,241.6 452,241.7 452.5,241.8 453,241.9 453.5,242 454,242.1 454.5,242.2 455,242.3 455.5,242.4 456,242.5 456.5,242.6 457,242.7 457.5,242.8 458,242.9 458.5,243 459,243.1 459.5,243.2 460,243.3 460.5,243.4 461,243.5 461.5,243.6 462,243.7 462.5,243.8 463,244 463.5,244.1 464,244.2 466,244.6 468,245 470,245.4 472,245.8 474,246.2 476,246.7 478,247.1 480,247.5 482,247.9 484,248.3 486,248.7 488,249.2 490,249.6 492,250 494,250.4 496,250.8 498,251.2 500,251.6 502,252.1 504,252.5 506,252.9 508,253.3 510,253.7 512,254.1 514,254.6 516,255 518,255.4 520,255.8 522,256.2 524,256.6 526,257.1 528,257.5 530,257.9 532,258.3 534,258.7 536,259.1 538,259.5 540,260 542,260.4 544,260.8 546,261.4 546.5,261.6 547,261.9 547.5,262.3 548,262.6 548.5,263.1 549,263.5 549.5,264.1 550,264.6 550.5,265.3 551,266 551.5,266.7 552,267.5 552.5,268.4 553,269.3 553.5,270.3 554,271.3 554.5,272.4 555,273.6 555.5,274.8 556,276.1 556.5,277.4 557,278.8 557.5,280.3 557.6,280.6 554.6,289.2 554.6,289.2 554.6,289.2 554.6,289.2 554.6,289.2 554.6,289.2 554.6,289.2 554.5,289 554,287.9 553.5,286.9 553,285.9 552.5,285 552,284.1 551.5,283.3 551,282.6 550.5,281.9 550,281.2 549.5,280.7 549,280.1 548.5,279.7 548,279.2 547.5,278.9 547,278.5 546.5,278.2 546,278 544,277.4 542,277 540,276.6 538,276.1 536,275.7 534,275.3 532,274.9 530,274.5 528,274.1 526,273.7 524,273.2 522,272.8 520,272.4 518,272 516,271.6 514,271.2 512,270.7 510,270.3 508,269.9 506,269.5 504,269.1 502,268.7 500,268.2 498,267.8 496,267.4 494,267 492,266.6 490,266.2 488,265.8 486,265.3 484,264.9 482,264.5 480,264.1 478,263.7 476,263.3 474,262.8 472,262.4 470,262 468,261.6 466,261.2 464,260.8 463.5,260.7 463,260.6 462.5,260.4 462,260.3 461.5,260.2 461,260.1 460.5,260 460,259.9 459.5,259.8 459,259.7 458.5,259.6 458,259.5 457.5,259.4 457,259.3 456.5,259.2 456,259.1 455.5,259 455,258.9 454.5,258.8 454,258.7 453.5,258.6 453,258.5 452.5,258.4 452,258.3 451.5,258.2 451,258.1 450.5,258 450,258 449.5,257.9 449,257.9 448.5,257.8 448,257.8 447.5,257.9 447,258 446.5,258.1 446,258.3 445.5,258.7 445,259.1 444.5,259.7 444,260.5 443.5,261.5 443,262.8 442.5,264.4 442,266.4 441.5,268.8 441,271.7 440.5,275.1 440,279.1 439.5,283.8 439,289.1 438.5,295.1 438,301.7 437.5,308.9 437,316.6 436.5,324.7 436,332.9 435.5,340.9 435,348.4 434.5,354.8 434,359.6 433.5,361.2 433,359 432.5,355.6 432,351.7 431.5,347.3 431,342.7 430.5,338.1 430,333.4 429.5,328.8 429,324.3 428.5,319.9 428,315.8 427.5,311.9 427,308.1 426.5,304.6 426,301.4 425.5,298.3 425,295.4 424.5,292.8 424,290.3 423.5,287.9 423,285.7 422.5,283.7 422,281.7 421.5,279.9 421,278.2 420.5,276.5 420,275 419.5,273.5 419,272.1 418.5,270.7 418,269.4 417.5,268.1 417,266.9 416.5,265.7 416,264.6 415.5,263.5 415,262.5 414.5,261.4 414,260.4 413.5,259.5 413,258.6 412.5,257.7 412,256.8 411.5,256 411,255.2 410.5,254.4 410,253.7 409.5,253 409,252.3 408.5,251.7 408,251 407.5,250.4 407,249.9 406.5,249.3 406,248.8 405.5,248.3 403.5,246.6 401.5,245.2 399.5,244 397.5,243.1 395.5,242.3 395,242.1 394.5,242 394,241.8 393.5,241.6 393,241.5 392.5,241.3 392,241.2 391.5,241.1 391,240.9 390.5,240.8 390,240.7 389.5,240.5 389,240.4 388.5,240.3 388,240.2 387.5,240.1 387,239.9 386.5,239.8 386,239.7 385.5,239.6 385,239.5 384.5,239.4 384,239.3 383.5,239.2 383,239 382.5,238.9 382,238.8 381.5,238.7 381,238.6 380.5,238.5 380,238.4 379.5,238.3 379,238.2 378.5,238.1 378,238 377.5,237.9 377,237.8 376.5,237.7 376,237.6 375.5,237.5 375,237.4 374.5,237.3 374,237.1 373.5,237 373,236.9 372.5,236.8 372,236.7 371.5,236.6 371,236.5 370.5,236.4 370,236.3 369.5,236.2 369,236.1 368.5,236 368,235.9 367.5,235.8 367,235.7 366.5,235.6 366,235.5 365.5,235.4 365,235.3 364.5,235.2 364,235.1 363.5,234.9 363,234.8 362.5,234.6 362,234.5 361.5,234.3 361,234.2 360.5,234 360,233.9 359.5,233.7 359,233.6 358.5,233.4 358,233.3 357.5,233.1 357,233 356.5,232.8 356,232.6 355.5,232.5 355,232.3 354.5,232.2 354,232 353.5,231.9 353,231.7 352.5,231.6 352,231.4 351.5,231.3 351,231.1 350.5,231 350,230.8 349.5,230.7 349,230.5 348.5,230.4 348,230.2 347.5,230.1 347,229.9 346.5,229.8 346,229.6 345.5,229.5 345,229.3 344.5,229.2 344,229 343.5,228.9 343,228.7 342.5,228.6 342,228.4 341.5,228.3 341,228.1 340.5,228 340,227.8 339.5,227.7 339,227.5 338.5,227.4 338,227.2 337.5,227.1 337,226.9 336.5,226.8 336,226.6 334,226 332,225.4 330,224.8 328,224.2 326,223.6 324,223 322,222.4 320,221.8 318,221.2 316,220.6 314,220 312,219.4 310,218.7 308,218.1 306,217.5 304,216.9 302,216.3 300,215.7 298,215.1 296,214.5 294,213.9 292,212.8 290,211.5 288,210.2 286,208.8 284,207.2 282,205.2 280,201" fill="#ffff00" fill-opacity="0.78"/>
<polygon points="254,206.3 256,206.7 258,207.2 260,207.6 262,208 264,208.4 266,208.9 268,209.3 270,209.7 272,210.1 274,210.6 276,211 278,211.4 280,211.8 282,212.3 284,212.7 286,213.1 288,213.5 290,214 292,214.4 294,214.8 296,215.2 298,215.7 300,216.1 302,216.5 304,217 306,217.4 308,217.8 310,218.2 310.5,218.3 311,218.4 311.5,218.6 312,218.7 312.5,218.8 313,218.9 313.5,219 314,219.1 314.5,219.2 315,219.3 315.5,219.4 316,219.5 316.5,219.6 317,219.7 317.5,219.8 318,219.9 318.5,220 319,220.2 319.5,220.3 320,220.4 320.5,220.5 321,220.6 321.5,220.7 322,220.8 322.5,220.9 323,221 323.5,221.1 324,221.2 324.5,221.3 325,221.4 325.5,221.5 326,221.6 326.5,221.7 327,221.9 327.5,222 328,222.1 328.5,222.1 329,222.1 329.5,221.8 330,221 330.5,219.4 331,216.1 331.5,210.7 332,202.3 332.5,190.9 333,176.6 333.5,160.2 334,142.9 334.5,126.2 335,111.4 335.5,99.5 336,90.8 336.5,85.2 337,82.4 337.5,81.4 338,81.3 338.5,83.3 339,87.2 339.5,92.2 340,98.2 340.5,104.7 341,111.7 341.5,119 342,126.4 342.5,133.8 343,141.1 343.5,148.3 344,155.2 344.5,161.8 345,168 345.5,173.9 346,179.5 346.5,184.6 347,189.3 347.5,193.7 348,197.6 348.5,201.3 349,204.5 349.5,207.5 350,210.1 350.5,212.5 351,214.6 351.5,216.4 352,218.1 352.5,219.5 353,220.8 353.5,221.9 354,222.9 354.5,223.7 355,224.5 355.5,225.1 356,225.7 356.5,226.2 357,226.6 357.5,227 358,227.4 358.5,227.7 359,227.9 359.5,228.2 360,228.4 360.5,228.6 361,228.8 361.5,228.9 362,229.1 362.5,229.3 363,229.4 363.5,229.5 364,229.7 364.5,229.8 365,229.9 365.5,230 366,230.1 366.5,230.2 367,230.4 367.5,230.5 368,230.6 370,231 372,231.4 374,231.9 376,232.3 378,232.7 380,233.1 380.5,233.3 381,233.4 381.5,233.5 382,233.6 382.5,233.7 383,233.8 383.5,233.9 384,234 384.5,234.1 385,234.2 385.5,234.3 386,234.4 386.5,234.5 387,234.6 387.5,234.7 388,234.9 388.5,235 389,235.1 389.5,235.2 390,235.3 390.5,235.4 391,235.5 391.5,235.6 392,235.7 392.5,235.8 393,235.9 393.5,236 394,236.1 394.5,236.2 395,236.3 395.5,236.5 396,236.6 396.5,236.7 397,236.8 397.5,236.9 398,237 398.5,237.1 399,237.2 399.5,237.3 400,237.4 400.5,237.5 401,237.7 401.5,237.8 402,237.9 402.5,238 403,238.1 403.5,238.2 404,238.4 404.5,238.5 405,238.7 405.5,238.8 406,239 406.5,239.1 407,239.3 407.5,239.5 408,239.8 408.5,240 409,240.3 409.5,240.6 410,240.9 410.5,241.3 411,241.7 411.5,242.1 412,242.5 412.5,242.9 413,243.4 413.5,243.8 414,244.2 414.5,244.6 415,245 415.5,245.3 416,245.6 416.5,245.9 417,246.1 417.5,246.4 418,246.6 418.5,246.8 419,246.9 419.5,247.1 420,247.2 420.5,247.4 421,247.5 421.5,247.7 422,247.8 422.5,247.9 423,248 423.5,248.1 424,248.2 424.5,248.4 425,248.5 425.5,248.6 426,248.7 426.5,248.8 427,248.9 427.5,249 428,249.1 428.5,249.2 429,249.3 429.5,249.4 430,249.6 430.5,249.7 431,249.8 431.5,249.9 432,250 432.5,250.1 433,250.2 433.5,250.3 434,250.4 434.5,250.5 435,250.6 435.5,250.7 436,250.8 436.5,250.9 437,251 437.5,251.2 438,251.3 438.5,251.4 439,251.5 441,251.9 443,252.3 445,252.8 447,253.2 449,253.6 451,254 453,254.5 455,254.9 457,255.3 459,255.7 461,256.2 463,256.6 465,257 467,257.4 469,257.9 471,258.3 473,258.7 475,259.1 477,259.6 479,260 481,260.4 483,260.8 485,261.3 487,261.7 489,262.1 491,262.6 493,263 495,263.4 497,263.8 499,264.3 501,264.7 503,265.1 505,265.5 507,266 509,266.4 511,266.8 513,267.2 515,267.7 517,268.1 519,268.5 521,269 521.5,269.2 522,269.5 522.5,269.7 523,270.1 523.5,270.5 524,270.9 524.5,271.4 525,271.9 525.5,272.6 526,273.2 526.5,273.9 527,274.7 527.5,275.5 528,276.4 528.5,277.4 529,278.4 529.5,279.5 530,280.7 530.5,281.9 531,283.2 531.5,284.5 532,286 532.5,287.4 533,289 530,297.4 530,297.4 530,297.4 530,297.4 530,297.4 530,297.4 530,297.4 529.5,296.3 529,295.2 528.5,294.2 528,293.2 527.5,292.3 527,291.5 526.5,290.7 526,290 525.5,289.3 525,288.7 524.5,288.2 524,287.7 523.5,287.2 523,286.8 522.5,286.5 522,286.2 521.5,286 521,285.8 519,285.3 517,284.8 515,284.4 513,284 511,283.6 509,283.1 507,282.7 505,282.3 503,281.9 501,281.4 499,281 497,280.6 495,280.2 493,279.7 491,279.3 489,278.9 487,278.4 485,278 483,277.6 481,277.2 479,276.7 477,276.3 475,275.9 473,275.5 471,275 469,274.6 467,274.2 465,273.8 463,273.3 461,272.9 459,272.5 457,272.1 455,271.6 453,271.2 451,270.8 449,270.4 447,269.9 445,269.5 443,269.1 441,268.6 439,268.2 438.5,268.1 438,268 437.5,267.9 437,267.8 436.5,267.7 436,267.6 435.5,267.5 435,267.4 434.5,267.3 434,267.2 433.5,267 433,266.9 432.5,266.8 432,266.7 431.5,266.6 431,266.5 430.5,266.4 430,266.3 429.5,266.2 429,266.1 428.5,266 428,265.9 427.5,265.8 427,265.7 426.5,265.6 426,265.6 425.5,265.5 425,265.4 424.5,265.4 424,265.4 423.5,265.4 423,265.5 422.5,265.6 422,265.8 421.5,266.1 421,266.4 420.5,266.9 420,267.6 419.5,268.5 419,269.6 418.5,270.9 418,272.6 417.5,274.7 417,277.2 416.5,280.2 416,283.7 415.5,287.8 415,292.5 414.5,297.8 414,303.8 413.5,310.4 413,317.6 412.5,325.2 412,333.2 411.5,341.3 411,349.2 410.5,356.7 410,363.3 409.5,368.3 409,370.8 408.5,368.9 408,365.8 407.5,362 407,357.7 406.5,353.2 406,348.6 405.5,343.9 405,339.3 404.5,334.7 404,330.3 403.5,326.1 403,322 402.5,318.2 402,314.6 401.5,311.2 401,308 400.5,305 400,302.2 399.5,299.6 399,297.2 398.5,294.9 398,292.7 397.5,290.7 397,288.8 396.5,287 396,285.2 395.5,283.6 395,282.1 394.5,280.6 394,279.2 393.5,277.8 393,276.5 392.5,275.2 392,274 391.5,272.8 391,271.7 390.5,270.6 390,269.5 389.5,268.5 389,267.5 388.5,266.5 388,265.6 387.5,264.7 387,263.8 386.5,263 386,262.1 385.5,261.4 385,260.6 384.5,259.9 384,259.2 383.5,258.5 383,257.9 382.5,257.3 382,256.7 381.5,256.1 381,255.6 380.5,255.1 380,254.6 378,252.9 376,251.5 374,250.3 372,249.3 370,248.5 368,247.8 367.5,247.7 367,247.5 366.5,247.4 366,247.2 365.5,247.1 365,246.9 364.5,246.8 364,246.7 363.5,246.6 363,246.4 362.5,246.3 362,246.2 361.5,246.1 361,245.9 360.5,245.8 360,245.7 359.5,245.6 359,245.5 358.5,245.4 358,245.3 357.5,245.1 357,245 356.5,244.9 356,244.8 355.5,244.7 355,244.6 354.5,244.5 354,244.4 353.5,244.3 353,244.2 352.5,244 352,243.9 351.5,243.8 351,243.7 350.5,243.6 350,243.5 349.5,243.4 349,243.3 348.5,243.2 348,243.1 347.5,243 347,242.9 346.5,242.8 346,242.7 345.5,242.5 345,242.4 344.5,242.3 344,242.2 343.5,242.1 343,242 342.5,241.9 342,241.8 341.5,241.7 341,241.6 340.5,241.5 340,241.4 339.5,241.3 339,241.2 338.5,241.1 338,240.9 337.5,240.8 337,240.6 336.5,240.5 336,240.3 335.5,240.2 335,240 334.5,239.9 334,239.7 333.5,239.6 333,239.4 332.5,239.2 332,239.1 331.5,238.9 331,238.8 330.5,238.6 330,238.5 329.5,238.3 329,238.2 328.5,238 328,237.9 327.5,237.7 327,237.5 326.5,237.4 326,237.2 325.5,237.1 325,236.9 324.5,236.8 324,236.6 323.5,236.5 323,236.3 322.5,236.2 322,236 321.5,235.8 321,235.7 320.5,235.5 320,235.4 319.5,235.2 319,235.1 318.5,234.9 318,234.8 317.5,234.6 317,234.4 316.5,234.3 316,234.1 315.5,234 315,233.8 314.5,233.7 314,233.5 313.5,233.4 313,233.2 312.5,233.1 312,232.9 311.5,232.7 311,232.6 310.5,232.4 310,232.3 308,231.7 306,231 304,230.4 302,229.8 300,229.2 298,228.6 296,227.9 294,227.3 292,226.7 290,226.1 288,225.5 286,224.9 284,224.2 282,223.6 280,223 278,222.4 276,221.8 274,221.1 272,220.5 270,219.9 268,219.3 266,218.1 264,216.9 262,215.6 260,214.1 258,212.5 256,210.5 254,206.3" fill="#f07878" fill-opacity="0.78"/>
<polygon points="227.7,212.4 229.7,212.8 231.7,213.3 233.7,213.7 235.7,214.1 237.7,214.6 239.7,215 241.7,215.5 243.7,215.9 245.7,216.3 247.7,216.8 249.7,217.2 251.7,217.6 253.7,218.1 255.7,218.5 257.7,219 259.7,219.4 261.7,219.8 263.7,220.3 265.7,220.7 267.7,221.1 269.7,221.6 271.7,222 273.7,222.4 275.7,222.9 277.7,223.3 279.7,223.8 281.7,224.2 282.2,224.3 282.7,224.4 283.2,224.5 283.7,224.6 284.2,224.7 284.7,224.8 285.2,225 285.7,225.1 286.2,225.2 286.7,225.3 287.2,225.4 287.7,225.5 288.2,225.6 288.7,225.7 289.2,225.8 289.7,225.9 290.2,226 290.7,226.2 291.2,226.3 291.7,226.4 292.2,226.5 292.7,226.6 293.2,226.7 293.7,226.8 294.2,226.9 294.7,227 295.2,227.1 295.7,227.2 296.2,227.4 296.7,227.5 297.2,227.6 297.7,227.7 298.2,227.8 298.7,227.9 299.2,228 299.7,228.1 300.2,228.2 300.7,228.1 301.2,227.9 301.7,227.2 302.2,225.7 302.7,222.8 303.2,217.8 303.7,210.1 304.2,199.4 304.7,185.7 305.2,169.7 305.7,152.3 306.2,135.1 306.7,119.3 307.2,105.9 307.7,95.6 308.2,88.5 308.7,84.3 309.2,82.4 309.7,81.9 310.2,82.4 310.7,85.3 311.2,89.6 311.7,95.1 312.2,101.3 312.7,108.1 313.2,115.2 313.7,122.6 314.2,130.1 314.7,137.5 315.2,144.9 315.7,152.1 316.2,159.1 316.7,165.7 317.2,172 317.7,178 318.2,183.6 318.7,188.8 319.2,193.6 319.7,198.1 320.2,202.2 320.7,205.9 321.2,209.2 321.7,212.3 322.2,215 322.7,217.5 323.2,219.7 323.7,221.7 324.2,223.4 324.7,224.9 325.2,226.3 325.7,227.5 326.2,228.5 326.7,229.5 327.2,230.3 327.7,231 328.2,231.6 328.7,232.2 329.2,232.7 329.7,233.1 330.2,233.5 330.7,233.8 331.2,234.1 331.7,234.4 332.2,234.6 332.7,234.8 333.2,235 333.7,235.2 334.2,235.4 334.7,235.5 335.2,235.7 335.7,235.8 336.2,236 336.7,236.1 337.2,236.2 337.7,236.4 338.2,236.5 338.7,236.6 339.2,236.7 339.7,236.8 340.2,236.9 342.2,237.4 344.2,237.8 346.2,238.3 348.2,238.7 350.2,239.1 352.2,239.6 354.2,240 354.7,240.1 355.2,240.2 355.7,240.3 356.2,240.5 356.7,240.6 357.2,240.7 357.7,240.8 358.2,240.9 358.7,241 359.2,241.1 359.7,241.2 360.2,241.3 360.7,241.4 361.2,241.5 361.7,241.7 362.2,241.8 362.7,241.9 363.2,242 363.7,242.1 364.2,242.2 364.7,242.3 365.2,242.4 365.7,242.5 366.2,242.6 366.7,242.7 367.2,242.9 367.7,243 368.2,243.1 368.7,243.2 369.2,243.3 369.7,243.4 370.2,243.5 370.7,243.6 371.2,243.7 371.7,243.8 372.2,244 372.7,244.1 373.2,244.2 373.7,244.3 374.2,244.4 374.7,244.5 375.2,244.6 375.7,244.8 376.2,244.9 376.7,245 377.2,245.1 377.7,245.2 378.2,245.4 378.7,245.5 379.2,245.7 379.7,245.8 380.2,246 380.7,246.2 381.2,246.3 381.7,246.6 382.2,246.8 382.7,247 383.2,247.3 383.7,247.6 384.2,247.9 384.7,248.3 385.2,248.7 385.7,249.1 386.2,249.6 386.7,250.1 387.2,250.5 387.7,251 388.2,251.5 388.7,251.9 389.2,252.3 389.7,252.7 390.2,253.1 390.7,253.4 391.2,253.7 391.7,254 392.2,254.3 392.7,254.5 393.2,254.7 393.7,254.9 394.2,255.1 394.7,255.2 395.2,255.4 395.7,255.5 396.2,255.7 396.7,255.8 397.2,255.9 397.7,256.1 398.2,256.2 398.7,256.3 399.2,256.4 399.7,256.5 400.2,256.6 400.7,256.8 401.2,256.9 401.7,257 402.2,257.1 402.7,257.2 403.2,257.3 403.7,257.4 404.2,257.5 404.7,257.6 405.2,257.8 405.7,257.9 406.2,258 406.7,258.1 407.2,258.2 407.7,258.3 408.2,258.4 408.7,258.5 409.2,258.6 409.7,258.7 410.2,258.8 410.7,259 411.2,259.1 411.7,259.2 412.2,259.3 412.7,259.4 413.2,259.5 413.7,259.6 415.7,260 417.7,260.5 419.7,260.9 421.7,261.4 423.7,261.8 425.7,262.2 427.7,262.7 429.7,263.1 431.7,263.5 433.7,264 435.7,264.4 437.7,264.9 439.7,265.3 441.7,265.7 443.7,266.2 445.7,266.6 447.7,267 449.7,267.5 451.7,267.9 453.7,268.3 455.7,268.8 457.7,269.2 459.7,269.7 461.7,270.1 463.7,270.5 465.7,271 467.7,271.4 469.7,271.8 471.7,272.3 473.7,272.7 475.7,273.1 477.7,273.6 479.7,274 481.7,274.5 483.7,274.9 485.7,275.3 487.7,275.8 489.7,276.2 491.7,276.6 493.7,277.1 495.7,277.7 496.2,277.9 496.7,278.2 497.2,278.6 497.7,279 498.2,279.5 498.7,280 499.2,280.6 499.7,281.2 500.2,281.9 500.7,282.7 501.2,283.5 501.7,284.4 502.2,285.3 502.7,286.3 503.2,287.4 503.7,288.6 504.2,289.8 504.7,291.1 505.2,292.5 505.7,293.9 506.2,295.4 506.7,297 507,298 504,306.2 504,306.2 504,306.2 504,306.2 504,306.2 504,306.2 504,306.2 503.7,305.5 503.2,304.3 502.7,303.2 502.2,302.2 501.7,301.3 501.2,300.4 500.7,299.6 500.2,298.8 499.7,298.1 499.2,297.5 498.7,296.9 498.2,296.4 497.7,295.9 497.2,295.5 496.7,295.1 496.2,294.8 495.7,294.6 493.7,294 491.7,293.5 489.7,293.1 487.7,292.7 485.7,292.2 483.7,291.8 481.7,291.4 479.7,290.9 477.7,290.5 475.7,290 473.7,289.6 471.7,289.2 469.7,288.7 467.7,288.3 465.7,287.9 463.7,287.4 461.7,287 459.7,286.6 457.7,286.1 455.7,285.7 453.7,285.2 451.7,284.8 449.7,284.4 447.7,283.9 445.7,283.5 443.7,283.1 441.7,282.6 439.7,282.2 437.7,281.8 435.7,281.3 433.7,280.9 431.7,280.4 429.7,280 427.7,279.6 425.7,279.1 423.7,278.7 421.7,278.3 419.7,277.8 417.7,277.4 415.7,276.9 413.7,276.5 413.2,276.4 412.7,276.3 412.2,276.2 411.7,276.1 411.2,276 410.7,275.9 410.2,275.7 409.7,275.6 409.2,275.5 408.7,275.4 408.2,275.3 407.7,275.2 407.2,275.1 406.7,275 406.2,274.9 405.7,274.8 405.2,274.7 404.7,274.6 404.2,274.4 403.7,274.3 403.2,274.2 402.7,274.1 402.2,274 401.7,274 401.2,273.9 400.7,273.8 400.2,273.7 399.7,273.7 399.2,273.7 398.7,273.7 398.2,273.7 397.7,273.8 397.2,274 396.7,274.2 396.2,274.5 395.7,275 395.2,275.5 394.7,276.3 394.2,277.2 393.7,278.4 393.2,279.9 392.7,281.7 392.2,283.9 391.7,286.5 391.2,289.6 390.7,293.2 390.2,297.4 389.7,302.1 389.2,307.5 388.7,313.6 388.2,320.2 387.7,327.3 387.2,334.9 386.7,342.9 386.2,351 385.7,358.9 385.2,366.5 384.7,373.2 384.2,378.5 383.7,381.6 383.2,380.3 382.7,377.4 382.2,373.7 381.7,369.5 381.2,365.1 380.7,360.4 380.2,355.7 379.7,351.1 379.2,346.4 378.7,342 378.2,337.6 377.7,333.5 377.2,329.5 376.7,325.8 376.2,322.3 375.7,318.9 375.2,315.8 374.7,312.9 374.2,310.1 373.7,307.5 373.2,305.1 372.7,302.8 372.2,300.7 371.7,298.7 371.2,296.8 370.7,295 370.2,293.2 369.7,291.6 369.2,290.1 368.7,288.6 368.2,287.1 367.7,285.8 367.2,284.4 366.7,283.2 366.2,281.9 365.7,280.7 365.2,279.6 364.7,278.5 364.2,277.4 363.7,276.3 363.2,275.3 362.7,274.3 362.2,273.4 361.7,272.5 361.2,271.6 360.7,270.7 360.2,269.9 359.7,269.1 359.2,268.3 358.7,267.6 358.2,266.9 357.7,266.2 357.2,265.5 356.7,264.9 356.2,264.3 355.7,263.7 355.2,263.1 354.7,262.6 354.2,262.1 352.2,260.3 350.2,258.8 348.2,257.5 346.2,256.5 344.2,255.6 342.2,254.9 340.2,254.2 339.7,254.1 339.2,254 338.7,253.8 338.2,253.7 337.7,253.5 337.2,253.4 336.7,253.3 336.2,253.1 335.7,253 335.2,252.9 334.7,252.8 334.2,252.6 333.7,252.5 333.2,252.4 332.7,252.3 332.2,252.2 331.7,252.1 331.2,251.9 330.7,251.8 330.2,251.7 329.7,251.6 329.2,251.5 328.7,251.4 328.2,251.3 327.7,251.1 327.2,251 326.7,250.9 326.2,250.8 325.7,250.7 325.2,250.6 324.7,250.5 324.2,250.4 323.7,250.3 323.2,250.2 322.7,250 322.2,249.9 321.7,249.8 321.2,249.7 320.7,249.6 320.2,249.5 319.7,249.4 319.2,249.3 318.7,249.2 318.2,249.1 317.7,249 317.2,248.8 316.7,248.7 316.2,248.6 315.7,248.5 315.2,248.4 314.7,248.3 314.2,248.2 313.7,248.1 313.2,248 312.7,247.9 312.2,247.7 311.7,247.6 311.2,247.5 310.7,247.3 310.2,247.2 309.7,247 309.2,246.8 308.7,246.7 308.2,246.5 307.7,246.4 307.2,246.2 306.7,246.1 306.2,245.9 305.7,245.7 305.2,245.6 304.7,245.4 304.2,245.3 303.7,245.1 303.2,244.9 302.7,244.8 302.2,244.6 301.7,244.5 301.2,244.3 300.7,244.2 300.2,244 299.7,243.8 299.2,243.7 298.7,243.5 298.2,243.4 297.7,243.2 297.2,243 296.7,242.9 296.2,242.7 295.7,242.6 295.2,242.4 294.7,242.3 294.2,242.1 293.7,241.9 293.2,241.8 292.7,241.6 292.2,241.5 291.7,241.3 291.2,241.1 290.7,241 290.2,240.8 289.7,240.7 289.2,240.5 288.7,240.4 288.2,240.2 287.7,240 287.2,239.9 286.7,239.7 286.2,239.6 285.7,239.4 285.2,239.2 284.7,239.1 284.2,238.9 283.7,238.8 283.2,238.6 282.7,238.4 282.2,238.3 281.7,238.1 279.7,237.5 277.7,236.9 275.7,236.2 273.7,235.6 271.7,235 269.7,234.3 267.7,233.7 265.7,233.1 263.7,232.4 261.7,231.8 259.7,231.2 257.7,230.5 255.7,229.9 253.7,229.3 251.7,228.6 249.7,228 247.7,227.4 245.7,226.7 243.7,226.1 241.7,225.5 239.7,224.3 237.7,223 235.7,221.7 233.7,220.3 231.7,218.6 229.7,216.6 227.7,212.4" fill="#50e040" fill-opacity="0.78"/>
<polygon points="197,217.4 199,217.9 201,218.3 203,218.8 205,219.3 207,219.7 209,220.2 211,220.7 213,221.1 215,221.6 217,222 219,222.5 221,223 223,223.4 225,223.9 227,224.4 229,224.8 231,225.3 233,225.8 235,226.2 237,226.7 239,227.2 241,227.6 243,228.1 245,228.5 247,229 249,229.5 251,229.9 251.5,230.1 252,230.2 252.5,230.3 253,230.4 253.5,230.5 254,230.6 254.5,230.8 255,230.9 255.5,231 256,231.1 256.5,231.2 257,231.3 257.5,231.4 258,231.6 258.5,231.7 259,231.8 259.5,231.9 260,232 260.5,232.1 261,232.3 261.5,232.4 262,232.5 262.5,232.6 263,232.7 263.5,232.8 264,233 264.5,233.1 265,233.2 265.5,233.3 266,233.4 266.5,233.5 267,233.7 267.5,233.8 268,233.9 268.5,234 269,234.1 269.5,234.2 270,234.3 270.5,234.2 271,234 271.5,233.2 272,231.6 272.5,228.6 273,223.5 273.5,215.7 274,204.9 274.5,191.1 275,174.8 275.5,157.1 276,139.3 276.5,122.6 277,108.2 277.5,96.8 278,88.6 278.5,83.4 279,80.8 279.5,79.8 280,79.8 280.5,81.8 281,85.7 281.5,90.8 282,96.9 282.5,103.6 283,110.7 283.5,118.2 284,125.9 284.5,133.6 285,141.2 285.5,148.7 286,156.1 286.5,163.1 287,169.9 287.5,176.4 288,182.4 288.5,188.1 289,193.4 289.5,198.4 290,202.9 290.5,207.1 291,210.9 291.5,214.4 292,217.5 292.5,220.4 293,222.9 293.5,225.2 294,227.3 294.5,229.1 295,230.7 295.5,232.2 296,233.4 296.5,234.6 297,235.6 297.5,236.4 298,237.2 298.5,237.9 299,238.5 299.5,239 300,239.5 300.5,239.9 301,240.3 301.5,240.6 302,240.9 302.5,241.2 303,241.4 303.5,241.6 304,241.8 304.5,242 305,242.2 305.5,242.4 306,242.5 306.5,242.7 307,242.8 307.5,243 308,243.1 308.5,243.2 309,243.4 309.5,243.5 310,243.6 312,244.1 314,244.6 316,245 318,245.5 320,246 322,246.4 324,246.9 326,247.4 326.5,247.5 327,247.6 327.5,247.7 328,247.8 328.5,247.9 329,248.1 329.5,248.2 330,248.3 330.5,248.4 331,248.5 331.5,248.6 332,248.7 332.5,248.9 333,249 333.5,249.1 334,249.2 334.5,249.3 335,249.4 335.5,249.6 336,249.7 336.5,249.8 337,249.9 337.5,250 338,250.1 338.5,250.3 339,250.4 339.5,250.5 340,250.6 340.5,250.7 341,250.8 341.5,251 342,251.1 342.5,251.2 343,251.3 343.5,251.4 344,251.5 344.5,251.7 345,251.8 345.5,251.9 346,252 346.5,252.2 347,252.3 347.5,252.4 348,252.5 348.5,252.7 349,252.8 349.5,252.9 350,253.1 350.5,253.2 351,253.4 351.5,253.6 352,253.8 352.5,253.9 353,254.2 353.5,254.4 354,254.7 354.5,254.9 355,255.3 355.5,255.6 356,256 356.5,256.4 357,256.8 357.5,257.3 358,257.8 358.5,258.3 359,258.8 359.5,259.3 360,259.8 360.5,260.3 361,260.8 361.5,261.2 362,261.6 362.5,262 363,262.3 363.5,262.6 364,262.9 364.5,263.1 365,263.4 365.5,263.6 366,263.8 366.5,263.9 367,264.1 367.5,264.3 368,264.4 368.5,264.6 369,264.7 369.5,264.8 370,265 370.5,265.1 371,265.2 371.5,265.3 372,265.5 372.5,265.6 373,265.7 373.5,265.8 374,265.9 374.5,266.1 375,266.2 375.5,266.3 376,266.4 376.5,266.5 377,266.6 377.5,266.8 378,266.9 378.5,267 379,267.1 379.5,267.2 380,267.3 380.5,267.5 381,267.6 381.5,267.7 382,267.8 382.5,267.9 383,268 383.5,268.2 384,268.3 384.5,268.4 385,268.5 385.5,268.6 387.5,269.1 389.5,269.6 391.5,270 393.5,270.5 395.5,270.9 397.5,271.4 399.5,271.9 401.5,272.3 403.5,272.8 405.5,273.3 407.5,273.7 409.5,274.2 411.5,274.7 413.5,275.1 415.5,275.6 417.5,276.1 419.5,276.5 421.5,277 423.5,277.4 425.5,277.9 427.5,278.4 429.5,278.8 431.5,279.3 433.5,279.8 435.5,280.2 437.5,280.7 439.5,281.2 441.5,281.6 443.5,282.1 445.5,282.6 447.5,283 449.5,283.5 451.5,283.9 453.5,284.4 455.5,284.9 457.5,285.3 459.5,285.8 461.5,286.3 463.5,286.7 465.5,287.2 467.5,287.7 468,287.8 468.5,288 469,288.2 469.5,288.5 470,288.8 470.5,289.2 471,289.6 471.5,290.1 472,290.7 472.5,291.3 473,292 473.5,292.8 474,293.6 474.5,294.5 475,295.4 475.5,296.5 476,297.6 476.5,298.7 477,300 477.5,301.3 478,302.7 478.5,304.1 479,305.7 479.5,307.3 480,309 477,317 477,317 477,317 477,317 477,317 477,317 477,317 476.5,315.8 476,314.6 475.5,313.5 475,312.5 474.5,311.5 474,310.6 473.5,309.8 473,309.1 472.5,308.4 472,307.7 471.5,307.2 471,306.7 470.5,306.2 470,305.9 469.5,305.5 469,305.3 468.5,305 468,304.9 467.5,304.7 465.5,304.2 463.5,303.8 461.5,303.3 459.5,302.9 457.5,302.4 455.5,301.9 453.5,301.5 451.5,301 449.5,300.5 447.5,300.1 445.5,299.6 443.5,299.1 441.5,298.7 439.5,298.2 437.5,297.7 435.5,297.3 433.5,296.8 431.5,296.4 429.5,295.9 427.5,295.4 425.5,295 423.5,294.5 421.5,294 419.5,293.6 417.5,293.1 415.5,292.6 413.5,292.2 411.5,291.7 409.5,291.2 407.5,290.8 405.5,290.3 403.5,289.9 401.5,289.4 399.5,288.9 397.5,288.5 395.5,288 393.5,287.5 391.5,287.1 389.5,286.6 387.5,286.1 385.5,285.7 385,285.6 384.5,285.4 384,285.3 383.5,285.2 383,285.1 382.5,285 382,284.9 381.5,284.7 381,284.6 380.5,284.5 380,284.4 379.5,284.3 379,284.2 378.5,284 378,283.9 377.5,283.8 377,283.7 376.5,283.6 376,283.5 375.5,283.4 375,283.3 374.5,283.2 374,283.1 373.5,283 373,282.9 372.5,282.8 372,282.8 371.5,282.7 371,282.7 370.5,282.7 370,282.8 369.5,282.9 369,283.1 368.5,283.3 368,283.7 367.5,284.1 367,284.7 366.5,285.5 366,286.5 365.5,287.8 365,289.3 364.5,291.1 364,293.4 363.5,296 363,299.1 362.5,302.8 362,307 361.5,311.7 361,317.1 360.5,323.1 360,329.7 359.5,336.8 359,344.4 358.5,352.4 358,360.5 357.5,368.6 357,376.3 356.5,383.4 356,389.3 355.5,393.4 355,393.9 354.5,391.3 354,387.9 353.5,383.9 353,379.5 352.5,374.8 352,370.1 351.5,365.3 351,360.6 350.5,356 350,351.5 349.5,347.1 349,343 348.5,339 348,335.3 347.5,331.7 347,328.4 346.5,325.3 346,322.3 345.5,319.5 345,316.9 344.5,314.5 344,312.2 343.5,310 343,307.9 342.5,306 342,304.1 341.5,302.4 341,300.7 340.5,299.1 340,297.6 339.5,296.1 339,294.7 338.5,293.4 338,292 337.5,290.8 337,289.5 336.5,288.4 336,287.2 335.5,286.1 335,285 334.5,284 334,282.9 333.5,282 333,281 332.5,280.1 332,279.2 331.5,278.3 331,277.5 330.5,276.7 330,275.9 329.5,275.1 329,274.4 328.5,273.7 328,273.1 327.5,272.4 327,271.8 326.5,271.2 326,270.6 324,268.6 322,266.9 320,265.5 318,264.3 316,263.3 314,262.4 312,261.7 310,261 309.5,260.9 309,260.7 308.5,260.6 308,260.5 307.5,260.3 307,260.2 306.5,260 306,259.9 305.5,259.8 305,259.6 304.5,259.5 304,259.4 303.5,259.3 303,259.1 302.5,259 302,258.9 301.5,258.8 301,258.6 300.5,258.5 300,258.4 299.5,258.3 299,258.2 298.5,258 298,257.9 297.5,257.8 297,257.7 296.5,257.6 296,257.4 295.5,257.3 295,257.2 294.5,257.1 294,257 293.5,256.9 293,256.7 292.5,256.6 292,256.5 291.5,256.4 291,256.3 290.5,256.2 290,256 289.5,255.9 289,255.8 288.5,255.7 288,255.6 287.5,255.5 287,255.3 286.5,255.2 286,255.1 285.5,255 285,254.9 284.5,254.8 284,254.7 283.5,254.5 283,254.4 282.5,254.3 282,254.2 281.5,254.1 281,254 280.5,253.8 280,253.6 279.5,253.5 279,253.3 278.5,253.1 278,253 277.5,252.8 277,252.6 276.5,252.5 276,252.3 275.5,252.1 275,252 274.5,251.8 274,251.6 273.5,251.5 273,251.3 272.5,251.1 272,251 271.5,250.8 271,250.6 270.5,250.5 270,250.3 269.5,250.1 269,250 268.5,249.8 268,249.6 267.5,249.5 267,249.3 266.5,249.1 266,249 265.5,248.8 265,248.6 264.5,248.5 264,248.3 263.5,248.1 263,248 262.5,247.8 262,247.6 261.5,247.5 261,247.3 260.5,247.1 260,247 259.5,246.8 259,246.6 258.5,246.5 258,246.3 257.5,246.1 257,246 256.5,245.8 256,245.6 255.5,245.5 255,245.3 254.5,245.1 254,245 253.5,244.8 253,244.6 252.5,244.5 252,244.3 251.5,244.1 251,244 249,243.3 247,242.6 245,242 243,241.3 241,240.6 239,240 237,239.3 235,238.6 233,238 231,237.3 229,236.6 227,236 225,235.3 223,234.6 221,234 219,233.3 217,232.6 215,232 213,231.3 211,230.7 209,229.4 207,228.2 205,226.8 203,225.3 201,223.7 199,221.6 197,217.4" fill="#5c98e8" fill-opacity="0.78"/>
<polygon points="169,223.5 171,224 173,224.5 175,225 177,225.5 179,226 181,226.5 183,226.9 185,227.4 187,227.9 189,228.4 191,228.9 193,229.4 195,229.9 197,230.4 199,230.9 201,231.4 203,231.9 205,232.4 207,232.8 209,233.3 211,233.8 213,234.3 215,234.8 217,235.3 219,235.8 221,236.3 221.5,236.4 222,236.5 222.5,236.7 223,236.8 223.5,236.9 224,237 224.5,237.1 225,237.3 225.5,237.4 226,237.5 226.5,237.6 227,237.8 227.5,237.9 228,238 228.5,238.1 229,238.3 229.5,238.4 230,238.5 230.5,238.6 231,238.7 231.5,238.9 232,239 232.5,239.1 233,239.2 233.5,239.4 234,239.5 234.5,239.6 235,239.7 235.5,239.9 236,240 236.5,240.1 237,240.2 237.5,240.3 238,240.5 238.5,240.5 239,240.6 239.5,240.5 240,240 240.5,239 241,236.9 241.5,233.2 242,227.3 242.5,218.7 243,207.2 243.5,193 244,176.6 244.5,159.3 245,142 245.5,126.2 246,112.6 246.5,102 247,94.4 247.5,89.6 248,87.1 248.5,86.3 249,86.3 249.5,88.2 250,92 250.5,96.9 251,102.7 251.5,109.2 252,116.1 252.5,123.4 253,130.8 253.5,138.3 254,145.8 254.5,153.2 255,160.4 255.5,167.4 256,174.1 256.5,180.5 257,186.6 257.5,192.3 258,197.6 258.5,202.6 259,207.3 259.5,211.5 260,215.4 260.5,219 261,222.3 261.5,225.3 262,228 262.5,230.4 263,232.6 263.5,234.5 264,236.2 264.5,237.8 265,239.2 265.5,240.4 266,241.5 266.5,242.5 267,243.3 267.5,244.1 268,244.8 268.5,245.4 269,245.9 269.5,246.4 270,246.8 270.5,247.2 271,247.5 271.5,247.8 272,248.1 272.5,248.3 273,248.6 273.5,248.8 274,249 274.5,249.2 275,249.3 275.5,249.5 276,249.7 276.5,249.8 277,250 277.5,250.1 278,250.2 278.5,250.4 279,250.5 281,251 283,251.5 285,252 287,252.5 289,253 291,253.5 293,254 295,254.5 297,255 297.5,255.1 298,255.2 298.5,255.3 299,255.5 299.5,255.6 300,255.7 300.5,255.8 301,256 301.5,256.1 302,256.2 302.5,256.3 303,256.5 303.5,256.6 304,256.7 304.5,256.8 305,256.9 305.5,257.1 306,257.2 306.5,257.3 307,257.4 307.5,257.6 308,257.7 308.5,257.8 309,257.9 309.5,258.1 310,258.2 310.5,258.3 311,258.4 311.5,258.5 312,258.7 312.5,258.8 313,258.9 313.5,259 314,259.2 314.5,259.3 315,259.4 315.5,259.5 316,259.7 316.5,259.8 317,259.9 317.5,260 318,260.2 318.5,260.3 319,260.4 319.5,260.6 320,260.7 320.5,260.9 321,261 321.5,261.2 322,261.3 322.5,261.5 323,261.7 323.5,261.9 324,262.1 324.5,262.3 325,262.6 325.5,262.8 326,263.1 326.5,263.4 327,263.8 327.5,264.2 328,264.6 328.5,265.1 329,265.6 329.5,266.1 330,266.6 330.5,267.2 331,267.7 331.5,268.3 332,268.8 332.5,269.4 333,269.8 333.5,270.3 334,270.7 334.5,271.1 335,271.5 335.5,271.8 336,272.1 336.5,272.3 337,272.6 337.5,272.8 338,273 338.5,273.2 339,273.4 339.5,273.5 340,273.7 340.5,273.8 341,274 341.5,274.1 342,274.3 342.5,274.4 343,274.5 343.5,274.7 344,274.8 344.5,274.9 345,275.1 345.5,275.2 346,275.3 346.5,275.4 347,275.6 347.5,275.7 348,275.8 348.5,275.9 349,276.1 349.5,276.2 350,276.3 350.5,276.4 351,276.6 351.5,276.7 352,276.8 352.5,276.9 353,277 353.5,277.2 354,277.3 354.5,277.4 355,277.5 355.5,277.7 356,277.8 356.5,277.9 357,278 359,278.5 361,279 363,279.5 365,280 367,280.5 369,281 371,281.5 373,282 375,282.5 377,282.9 379,283.4 381,283.9 383,284.4 385,284.9 387,285.4 389,285.9 391,286.4 393,286.9 395,287.4 397,287.9 399,288.4 401,288.8 403,289.3 405,289.8 407,290.3 409,290.8 411,291.3 413,291.8 415,292.3 417,292.8 419,293.3 421,293.8 423,294.3 425,294.8 427,295.2 429,295.7 431,296.2 433,296.7 435,297.2 437,297.7 439,298.2 439.5,298.4 440,298.6 440.5,298.9 441,299.2 441.5,299.6 442,300 442.5,300.5 443,301.1 443.5,301.7 444,302.4 444.5,303.2 445,304 445.5,304.9 446,305.9 446.5,307 447,308.1 447.5,309.3 448,310.6 448.5,312 449,313.4 449.5,314.9 450,316.5 450.5,318.2 451,320 448,327.8 448,327.8 448,327.8 448,327.8 448,327.8 448,327.8 448,327.8 447.5,326.5 447,325.3 446.5,324.2 446,323.1 445.5,322.1 445,321.2 444.5,320.4 444,319.6 443.5,318.9 443,318.3 442.5,317.7 442,317.2 441.5,316.8 441,316.4 440.5,316.1 440,315.8 439.5,315.6 439,315.4 437,314.9 435,314.4 433,313.9 431,313.4 429,312.9 427,312.4 425,312 423,311.5 421,311 419,310.5 417,310 415,309.5 413,309 411,308.5 409,308 407,307.5 405,307 403,306.5 401,306 399,305.6 397,305.1 395,304.6 393,304.1 391,303.6 389,303.1 387,302.6 385,302.1 383,301.6 381,301.1 379,300.6 377,300.1 375,299.7 373,299.2 371,298.7 369,298.2 367,297.7 365,297.2 363,296.7 361,296.2 359,295.7 357,295.2 356.5,295.1 356,295 355.5,294.9 355,294.7 354.5,294.6 354,294.5 353.5,294.4 353,294.2 352.5,294.1 352,294 351.5,293.9 351,293.8 350.5,293.6 350,293.5 349.5,293.4 349,293.3 348.5,293.2 348,293 347.5,292.9 347,292.8 346.5,292.7 346,292.6 345.5,292.5 345,292.4 344.5,292.3 344,292.3 343.5,292.2 343,292.2 342.5,292.2 342,292.3 341.5,292.4 341,292.6 340.5,292.8 340,293.2 339.5,293.7 339,294.3 338.5,295 338,296 337.5,297.2 337,298.7 336.5,300.5 336,302.7 335.5,305.3 335,308.3 334.5,311.8 334,315.9 333.5,320.5 333,325.7 332.5,331.4 332,337.8 331.5,344.7 331,352.1 330.5,359.9 330,367.9 329.5,376 329,383.9 328.5,391.4 328,397.9 327.5,403.1 327,406.1 326.5,404.8 326,401.8 325.5,398.2 325,394 324.5,389.5 324,384.8 323.5,380 323,375.2 322.5,370.5 322,365.9 321.5,361.4 321,357.1 320.5,352.9 320,349 319.5,345.2 319,341.7 318.5,338.3 318,335.2 317.5,332.2 317,329.4 316.5,326.7 316,324.3 315.5,321.9 315,319.7 314.5,317.6 314,315.6 313.5,313.8 313,312 312.5,310.3 312,308.6 311.5,307.1 311,305.6 310.5,304.1 310,302.7 309.5,301.4 309,300.1 308.5,298.8 308,297.6 307.5,296.4 307,295.3 306.5,294.2 306,293.1 305.5,292.1 305,291 304.5,290.1 304,289.1 303.5,288.2 303,287.3 302.5,286.4 302,285.6 301.5,284.8 301,284 300.5,283.2 300,282.5 299.5,281.8 299,281.1 298.5,280.5 298,279.8 297.5,279.2 297,278.7 295,276.6 293,274.8 291,273.3 289,272.1 287,271 285,270.1 283,269.3 281,268.6 279,268 278.5,267.9 278,267.7 277.5,267.6 277,267.4 276.5,267.3 276,267.1 275.5,267 275,266.9 274.5,266.7 274,266.6 273.5,266.5 273,266.3 272.5,266.2 272,266.1 271.5,265.9 271,265.8 270.5,265.7 270,265.6 269.5,265.4 269,265.3 268.5,265.2 268,265.1 267.5,264.9 267,264.8 266.5,264.7 266,264.6 265.5,264.4 265,264.3 264.5,264.2 264,264.1 263.5,263.9 263,263.8 262.5,263.7 262,263.6 261.5,263.4 261,263.3 260.5,263.2 260,263.1 259.5,263 259,262.8 258.5,262.7 258,262.6 257.5,262.5 257,262.3 256.5,262.2 256,262.1 255.5,262 255,261.8 254.5,261.7 254,261.6 253.5,261.5 253,261.4 252.5,261.2 252,261 251.5,260.8 251,260.7 250.5,260.5 250,260.3 249.5,260.1 249,260 248.5,259.8 248,259.6 247.5,259.4 247,259.3 246.5,259.1 246,258.9 245.5,258.7 245,258.6 244.5,258.4 244,258.2 243.5,258 243,257.9 242.5,257.7 242,257.5 241.5,257.3 241,257.2 240.5,257 240,256.8 239.5,256.6 239,256.5 238.5,256.3 238,256.1 237.5,255.9 237,255.8 236.5,255.6 236,255.4 235.5,255.3 235,255.1 234.5,254.9 234,254.7 233.5,254.6 233,254.4 232.5,254.2 232,254 231.5,253.9 231,253.7 230.5,253.5 230,253.3 229.5,253.2 229,253 228.5,252.8 228,252.6 227.5,252.5 227,252.3 226.5,252.1 226,251.9 225.5,251.8 225,251.6 224.5,251.4 224,251.2 223.5,251.1 223,250.9 222.5,250.7 222,250.5 221.5,250.4 221,250.2 219,249.5 217,248.8 215,248.1 213,247.4 211,246.7 209,246 207,245.3 205,244.6 203,243.9 201,243.2 199,242.5 197,241.8 195,241.1 193,240.4 191,239.7 189,239 187,238.3 185,237.6 183,236.9 181,235.7 179,234.4 177,233 175,231.5 173,229.8 171,227.8 169,223.5" fill="#f8902a" fill-opacity="0.78"/>
<polygon points="137.6,230.6 139.6,231.1 141.6,231.6 143.6,232.2 145.6,232.7 147.6,233.2 149.6,233.7 151.6,234.2 153.6,234.7 155.6,235.3 157.6,235.8 159.6,236.3 161.6,236.8 163.6,237.3 165.6,237.9 167.6,238.4 169.6,238.9 171.6,239.4 173.6,239.9 175.6,240.5 177.6,241 179.6,241.5 181.6,242 183.6,242.5 185.6,243 186.1,243.2 186.6,243.3 187.1,243.4 187.6,243.6 188.1,243.7 188.6,243.8 189.1,244 189.6,244.1 190.1,244.2 190.6,244.3 191.1,244.5 191.6,244.6 192.1,244.7 192.6,244.9 193.1,245 193.6,245.1 194.1,245.2 194.6,245.4 195.1,245.5 195.6,245.6 196.1,245.8 196.6,245.9 197.1,246 197.6,246.2 198.1,246.3 198.6,246.4 199.1,246.5 199.6,246.7 200.1,246.8 200.6,246.9 201.1,247.1 201.6,247.2 202.1,247.3 202.6,247.5 203.1,247.6 203.6,247.7 204.1,247.8 204.6,247.9 205.1,247.8 205.6,247.5 206.1,246.7 206.6,245 207.1,242 207.6,237 208.1,229.6 208.6,219.3 209.1,206.3 209.6,190.8 210.1,173.7 210.6,156.1 211.1,139.1 211.6,123.9 212.1,111.3 212.6,101.6 213.1,94.9 213.6,90.8 214.1,88.8 214.6,88.3 215.1,88.5 215.6,90.9 216.1,94.9 216.6,100 217.1,105.9 217.6,112.5 218.1,119.5 218.6,126.8 219.1,134.3 219.6,141.9 220.1,149.5 220.6,156.9 221.1,164.2 221.6,171.3 222.1,178.1 222.6,184.7 223.1,190.8 223.6,196.7 224.1,202.2 224.6,207.3 225.1,212.1 225.6,216.5 226.1,220.6 226.6,224.4 227.1,227.8 227.6,230.9 228.1,233.8 228.6,236.4 229.1,238.7 229.6,240.8 230.1,242.7 230.6,244.3 231.1,245.9 231.6,247.2 232.1,248.4 232.6,249.5 233.1,250.4 233.6,251.3 234.1,252 234.6,252.7 235.1,253.3 235.6,253.8 236.1,254.3 236.6,254.7 237.1,255.1 237.6,255.4 238.1,255.7 238.6,256 239.1,256.3 239.6,256.5 240.1,256.7 240.6,256.9 241.1,257.1 241.6,257.3 242.1,257.5 242.6,257.7 243.1,257.8 243.6,258 244.1,258.1 244.6,258.3 245.1,258.4 247.1,259 249.1,259.5 251.1,260 253.1,260.5 255.1,261.1 257.1,261.6 259.1,262.1 261.1,262.6 263.1,263.1 265.1,263.7 267.1,264.2 269.1,264.7 269.6,264.8 270.1,265 270.6,265.1 271.1,265.2 271.6,265.3 272.1,265.5 272.6,265.6 273.1,265.7 273.6,265.9 274.1,266 274.6,266.1 275.1,266.3 275.6,266.4 276.1,266.5 276.6,266.6 277.1,266.8 277.6,266.9 278.1,267 278.6,267.2 279.1,267.3 279.6,267.4 280.1,267.5 280.6,267.7 281.1,267.8 281.6,267.9 282.1,268.1 282.6,268.2 283.1,268.3 283.6,268.5 284.1,268.6 284.6,268.7 285.1,268.9 285.6,269 286.1,269.1 286.6,269.3 287.1,269.4 287.6,269.5 288.1,269.7 288.6,269.8 289.1,269.9 289.6,270.1 290.1,270.2 290.6,270.4 291.1,270.5 291.6,270.7 292.1,270.8 292.6,271 293.1,271.2 293.6,271.4 294.1,271.5 294.6,271.8 295.1,272 295.6,272.2 296.1,272.5 296.6,272.8 297.1,273.1 297.6,273.5 298.1,273.9 298.6,274.3 299.1,274.7 299.6,275.2 300.1,275.8 300.6,276.3 301.1,276.9 301.6,277.5 302.1,278.1 302.6,278.7 303.1,279.3 303.6,279.8 304.1,280.4 304.6,280.8 305.1,281.3 305.6,281.7 306.1,282.1 306.6,282.4 307.1,282.8 307.6,283.1 308.1,283.3 308.6,283.6 309.1,283.8 309.6,284 310.1,284.2 310.6,284.4 311.1,284.5 311.6,284.7 312.1,284.9 312.6,285 313.1,285.2 313.6,285.3 314.1,285.5 314.6,285.6 315.1,285.7 315.6,285.9 316.1,286 316.6,286.1 317.1,286.3 317.6,286.4 318.1,286.5 318.6,286.7 319.1,286.8 319.6,286.9 320.1,287.1 320.6,287.2 321.1,287.3 321.6,287.5 322.1,287.6 322.6,287.7 323.1,287.8 323.6,288 324.1,288.1 324.6,288.2 325.1,288.4 325.6,288.5 326.1,288.6 326.6,288.8 327.1,288.9 327.6,289 328.1,289.1 330.1,289.7 332.1,290.2 334.1,290.7 336.1,291.2 338.1,291.7 340.1,292.3 342.1,292.8 344.1,293.3 346.1,293.8 348.1,294.3 350.1,294.8 352.1,295.4 354.1,295.9 356.1,296.4 358.1,296.9 360.1,297.4 362.1,298 364.1,298.5 366.1,299 368.1,299.5 370.1,300 372.1,300.6 374.1,301.1 376.1,301.6 378.1,302.1 380.1,302.6 382.1,303.1 384.1,303.7 386.1,304.2 388.1,304.7 390.1,305.2 392.1,305.7 394.1,306.3 396.1,306.8 398.1,307.3 400.1,307.8 402.1,308.3 404.1,308.8 406.1,309.4 408.1,310 408.6,310.3 409.1,310.6 409.6,311 410.1,311.5 410.6,312 411.1,312.6 411.6,313.2 412.1,313.9 412.6,314.7 413.1,315.6 413.6,316.6 414.1,317.6 414.6,318.7 415.1,319.9 415.6,321.1 416.1,322.5 416.6,323.9 417.1,325.4 417.6,327.1 418.1,328.7 418.6,330.5 419,332 416,339.6 416,339.6 416,339.6 416,339.6 416,339.6 416,339.6 416,339.6 415.6,338.5 415.1,337.2 414.6,336 414.1,334.9 413.6,333.9 413.1,333 412.6,332.1 412.1,331.3 411.6,330.6 411.1,329.9 410.6,329.3 410.1,328.8 409.6,328.4 409.1,328 408.6,327.6 408.1,327.4 406.1,326.7 404.1,326.2 402.1,325.7 400.1,325.2 398.1,324.6 396.1,324.1 394.1,323.6 392.1,323.1 390.1,322.6 388.1,322 386.1,321.5 384.1,321 382.1,320.5 380.1,320 378.1,319.5 376.1,318.9 374.1,318.4 372.1,317.9 370.1,317.4 368.1,316.9 366.1,316.3 364.1,315.8 362.1,315.3 360.1,314.8 358.1,314.3 356.1,313.8 354.1,313.2 352.1,312.7 350.1,312.2 348.1,311.7 346.1,311.2 344.1,310.6 342.1,310.1 340.1,309.6 338.1,309.1 336.1,308.6 334.1,308 332.1,307.5 330.1,307 328.1,306.5 327.6,306.4 327.1,306.2 326.6,306.1 326.1,306 325.6,305.8 325.1,305.7 324.6,305.6 324.1,305.5 323.6,305.3 323.1,305.2 322.6,305.1 322.1,304.9 321.6,304.8 321.1,304.7 320.6,304.6 320.1,304.4 319.6,304.3 319.1,304.2 318.6,304.1 318.1,303.9 317.6,303.8 317.1,303.7 316.6,303.6 316.1,303.5 315.6,303.5 315.1,303.4 314.6,303.4 314.1,303.4 313.6,303.4 313.1,303.5 312.6,303.6 312.1,303.8 311.6,304.1 311.1,304.5 310.6,305 310.1,305.7 309.6,306.6 309.1,307.6 308.6,308.9 308.1,310.5 307.6,312.4 307.1,314.6 306.6,317.2 306.1,320.3 305.6,323.9 305.1,328 304.6,332.7 304.1,337.9 303.6,343.7 303.1,350 302.6,356.9 302.1,364.2 301.6,371.9 301.1,379.9 300.6,387.9 300.1,395.7 299.6,403.1 299.1,409.8 298.6,415.1 298.1,418.6 297.6,418.1 297.1,415.3 296.6,411.8 296.1,407.7 295.6,403.3 295.1,398.7 294.6,393.9 294.1,389.2 293.6,384.4 293.1,379.8 292.6,375.2 292.1,370.8 291.6,366.6 291.1,362.5 290.6,358.7 290.1,355 289.6,351.6 289.1,348.3 288.6,345.2 288.1,342.3 287.6,339.5 287.1,336.9 286.6,334.5 286.1,332.2 285.6,330 285.1,327.9 284.6,326 284.1,324.1 283.6,322.3 283.1,320.6 282.6,319 282.1,317.4 281.6,315.9 281.1,314.5 280.6,313.1 280.1,311.7 279.6,310.4 279.1,309.2 278.6,307.9 278.1,306.8 277.6,305.6 277.1,304.5 276.6,303.4 276.1,302.3 275.6,301.3 275.1,300.3 274.6,299.3 274.1,298.4 273.6,297.5 273.1,296.6 272.6,295.7 272.1,294.9 271.6,294.1 271.1,293.3 270.6,292.6 270.1,291.9 269.6,291.2 269.1,290.5 267.1,288 265.1,285.9 263.1,284.2 261.1,282.7 259.1,281.4 257.1,280.3 255.1,279.4 253.1,278.5 251.1,277.8 249.1,277.1 247.1,276.5 245.1,275.9 244.6,275.8 244.1,275.7 243.6,275.5 243.1,275.4 242.6,275.2 242.1,275.1 241.6,275 241.1,274.8 240.6,274.7 240.1,274.6 239.6,274.4 239.1,274.3 238.6,274.2 238.1,274 237.6,273.9 237.1,273.8 236.6,273.6 236.1,273.5 235.6,273.4 235.1,273.2 234.6,273.1 234.1,273 233.6,272.8 233.1,272.7 232.6,272.6 232.1,272.5 231.6,272.3 231.1,272.2 230.6,272.1 230.1,271.9 229.6,271.8 229.1,271.7 228.6,271.5 228.1,271.4 227.6,271.3 227.1,271.2 226.6,271 226.1,270.9 225.6,270.8 225.1,270.6 224.6,270.5 224.1,270.4 223.6,270.2 223.1,270.1 222.6,270 222.1,269.9 221.6,269.7 221.1,269.5 220.6,269.4 220.1,269.2 219.6,269 219.1,268.8 218.6,268.6 218.1,268.5 217.6,268.3 217.1,268.1 216.6,267.9 216.1,267.7 215.6,267.5 215.1,267.4 214.6,267.2 214.1,267 213.6,266.8 213.1,266.6 212.6,266.5 212.1,266.3 211.6,266.1 211.1,265.9 210.6,265.7 210.1,265.5 209.6,265.4 209.1,265.2 208.6,265 208.1,264.8 207.6,264.6 207.1,264.4 206.6,264.3 206.1,264.1 205.6,263.9 205.1,263.7 204.6,263.5 204.1,263.4 203.6,263.2 203.1,263 202.6,262.8 202.1,262.6 201.6,262.4 201.1,262.3 200.6,262.1 200.1,261.9 199.6,261.7 199.1,261.5 198.6,261.4 198.1,261.2 197.6,261 197.1,260.8 196.6,260.6 196.1,260.4 195.6,260.3 195.1,260.1 194.6,259.9 194.1,259.7 193.6,259.5 193.1,259.3 192.6,259.2 192.1,259 191.6,258.8 191.1,258.6 190.6,258.4 190.1,258.3 189.6,258.1 189.1,257.9 188.6,257.7 188.1,257.5 187.6,257.3 187.1,257.2 186.6,257 186.1,256.8 185.6,256.6 183.6,255.9 181.6,255.2 179.6,254.4 177.6,253.7 175.6,253 173.6,252.2 171.6,251.5 169.6,250.8 167.6,250.1 165.6,249.3 163.6,248.6 161.6,247.9 159.6,247.1 157.6,246.4 155.6,245.7 153.6,245 151.6,244.2 149.6,243 147.6,241.6 145.6,240.2 143.6,238.7 141.6,237 139.6,234.9 137.6,230.6" fill="#c090e8" fill-opacity="0.78"/>
<polygon points="104.7,238.5 106.7,239 108.7,239.5 110.7,240.1 112.7,240.6 114.7,241.1 116.7,241.6 118.7,242.1 120.7,242.6 122.7,243.2 124.7,243.7 126.7,244.2 128.7,244.7 130.7,245.2 132.7,245.8 134.7,246.3 136.7,246.8 138.7,247.3 140.7,247.8 142.7,248.3 144.7,248.9 146.7,249.4 148.7,249.9 150.7,250.4 151.2,250.5 151.7,250.7 152.2,250.8 152.7,250.9 153.2,251.1 153.7,251.2 154.2,251.3 154.7,251.5 155.2,251.6 155.7,251.7 156.2,251.8 156.7,252 157.2,252.1 157.7,252.2 158.2,252.4 158.7,252.5 159.2,252.6 159.7,252.7 160.2,252.9 160.7,253 161.2,253.1 161.7,253.3 162.2,253.4 162.7,253.5 163.2,253.7 163.7,253.8 164.2,253.9 164.7,254 165.2,254.2 165.7,254.3 166.2,254.4 166.7,254.6 167.2,254.7 167.7,254.8 168.2,254.9 168.7,255.1 169.2,255.1 169.7,255.1 170.2,254.9 170.7,254.3 171.2,253.1 171.7,250.8 172.2,246.9 172.7,240.9 173.2,232.4 173.7,221.3 174.2,207.8 174.7,192.3 175.2,175.7 175.7,159.2 176.2,143.8 176.7,130.2 177.2,119.2 177.7,111 178.2,105.5 178.7,102.2 179.2,100.8 179.7,100.4 180.2,100.9 180.7,103.6 181.2,107.5 181.7,112.5 182.2,118.2 182.7,124.4 183.2,131.1 183.7,138 184.2,145.1 184.7,152.3 185.2,159.5 185.7,166.6 186.2,173.5 186.7,180.2 187.2,186.7 187.7,192.9 188.2,198.9 188.7,204.5 189.2,209.8 189.7,214.7 190.2,219.4 190.7,223.7 191.2,227.6 191.7,231.3 192.2,234.7 192.7,237.8 193.2,240.6 193.7,243.1 194.2,245.5 194.7,247.6 195.2,249.5 195.7,251.2 196.2,252.7 196.7,254.1 197.2,255.3 197.7,256.4 198.2,257.4 198.7,258.2 199.2,259 199.7,259.7 200.2,260.3 200.7,260.9 201.2,261.4 201.7,261.8 202.2,262.2 202.7,262.6 203.2,262.9 203.7,263.2 204.2,263.5 204.7,263.8 205.2,264 205.7,264.2 206.2,264.4 206.7,264.6 207.2,264.8 207.7,265 208.2,265.1 208.7,265.3 209.2,265.5 209.7,265.6 210.2,265.7 212.2,266.3 214.2,266.8 216.2,267.4 218.2,267.9 220.2,268.4 222.2,268.9 224.2,269.5 226.2,270 228.2,270.5 230.2,271 232.2,271.5 234.2,272 236.2,272.6 236.7,272.7 237.2,272.8 237.7,273 238.2,273.1 238.7,273.2 239.2,273.3 239.7,273.5 240.2,273.6 240.7,273.7 241.2,273.9 241.7,274 242.2,274.1 242.7,274.2 243.2,274.4 243.7,274.5 244.2,274.6 244.7,274.8 245.2,274.9 245.7,275 246.2,275.2 246.7,275.3 247.2,275.4 247.7,275.5 248.2,275.7 248.7,275.8 249.2,275.9 249.7,276.1 250.2,276.2 250.7,276.3 251.2,276.5 251.7,276.6 252.2,276.7 252.7,276.9 253.2,277 253.7,277.1 254.2,277.3 254.7,277.4 255.2,277.5 255.7,277.7 256.2,277.8 256.7,278 257.2,278.1 257.7,278.3 258.2,278.4 258.7,278.6 259.2,278.8 259.7,279 260.2,279.2 260.7,279.4 261.2,279.6 261.7,279.9 262.2,280.1 262.7,280.4 263.2,280.7 263.7,281.1 264.2,281.5 264.7,281.9 265.2,282.4 265.7,282.9 266.2,283.4 266.7,284 267.2,284.6 267.7,285.2 268.2,285.9 268.7,286.5 269.2,287.1 269.7,287.7 270.2,288.3 270.7,288.8 271.2,289.3 271.7,289.8 272.2,290.2 272.7,290.6 273.2,291 273.7,291.3 274.2,291.6 274.7,291.8 275.2,292.1 275.7,292.3 276.2,292.5 276.7,292.7 277.2,292.9 277.7,293.1 278.2,293.3 278.7,293.4 279.2,293.6 279.7,293.7 280.2,293.9 280.7,294 281.2,294.2 281.7,294.3 282.2,294.4 282.7,294.6 283.2,294.7 283.7,294.8 284.2,295 284.7,295.1 285.2,295.2 285.7,295.4 286.2,295.5 286.7,295.6 287.2,295.8 287.7,295.9 288.2,296 288.7,296.2 289.2,296.3 289.7,296.4 290.2,296.6 290.7,296.7 291.2,296.8 291.7,296.9 292.2,297.1 292.7,297.2 293.2,297.3 293.7,297.5 294.2,297.6 296.2,298.1 298.2,298.6 300.2,299.1 302.2,299.7 304.2,300.2 306.2,300.7 308.2,301.2 310.2,301.7 312.2,302.3 314.2,302.8 316.2,303.3 318.2,303.8 320.2,304.3 322.2,304.8 324.2,305.4 326.2,305.9 328.2,306.4 330.2,306.9 332.2,307.4 334.2,307.9 336.2,308.5 338.2,309 340.2,309.5 342.2,310 344.2,310.5 346.2,311.1 348.2,311.6 350.2,312.1 352.2,312.6 354.2,313.1 356.2,313.6 358.2,314.2 360.2,314.7 362.2,315.2 364.2,315.7 366.2,316.2 368.2,316.8 370.2,317.3 372.2,317.8 374.2,318.4 374.7,318.7 375.2,319 375.7,319.4 376.2,319.9 376.7,320.4 377.2,321 377.7,321.7 378.2,322.4 378.7,323.2 379.2,324.2 379.7,325.1 380.2,326.2 380.7,327.4 381.2,328.6 381.7,330 382.2,331.4 382.7,332.9 383.2,334.5 383.7,336.2 384.2,338 384.7,339.8 385,341 382,348.3 382,348.3 382,348.3 382,348.3 382,348.3 382,348.3 382,348.3 381.7,347.5 381.2,346.1 380.7,344.9 380.2,343.7 379.7,342.6 379.2,341.7 378.7,340.7 378.2,339.9 377.7,339.2 377.2,338.5 376.7,337.9 376.2,337.4 375.7,336.9 375.2,336.5 374.7,336.2 374.2,335.9 372.2,335.3 370.2,334.8 368.2,334.3 366.2,333.7 364.2,333.2 362.2,332.7 360.2,332.2 358.2,331.7 356.2,331.1 354.2,330.6 352.2,330.1 350.2,329.6 348.2,329.1 346.2,328.6 344.2,328 342.2,327.5 340.2,327 338.2,326.5 336.2,326 334.2,325.4 332.2,324.9 330.2,324.4 328.2,323.9 326.2,323.4 324.2,322.9 322.2,322.3 320.2,321.8 318.2,321.3 316.2,320.8 314.2,320.3 312.2,319.8 310.2,319.2 308.2,318.7 306.2,318.2 304.2,317.7 302.2,317.2 300.2,316.6 298.2,316.1 296.2,315.6 294.2,315.1 293.7,315 293.2,314.8 292.7,314.7 292.2,314.6 291.7,314.4 291.2,314.3 290.7,314.2 290.2,314.1 289.7,313.9 289.2,313.8 288.7,313.7 288.2,313.5 287.7,313.4 287.2,313.3 286.7,313.2 286.2,313 285.7,312.9 285.2,312.8 284.7,312.7 284.2,312.6 283.7,312.5 283.2,312.4 282.7,312.3 282.2,312.2 281.7,312.2 281.2,312.2 280.7,312.2 280.2,312.2 279.7,312.3 279.2,312.5 278.7,312.7 278.2,313 277.7,313.4 277.2,313.9 276.7,314.6 276.2,315.5 275.7,316.5 275.2,317.8 274.7,319.4 274.2,321.3 273.7,323.5 273.2,326.1 272.7,329.2 272.2,332.7 271.7,336.7 271.2,341.3 270.7,346.4 270.2,352 269.7,358.3 269.2,365 268.7,372.3 268.2,379.9 267.7,387.9 267.2,396 266.7,404 266.2,411.8 265.7,419 265.2,425.1 264.7,429.8 264.2,432 263.7,430.1 263.2,426.9 262.7,423.1 262.2,418.9 261.7,414.3 261.2,409.6 260.7,404.8 260.2,400 259.7,395.2 259.2,390.4 258.7,385.9 258.2,381.4 257.7,377.1 257.2,373.1 256.7,369.2 256.2,365.5 255.7,361.9 255.2,358.6 254.7,355.5 254.2,352.5 253.7,349.7 253.2,347.1 252.7,344.6 252.2,342.2 251.7,340 251.2,337.8 250.7,335.8 250.2,333.9 249.7,332.1 249.2,330.3 248.7,328.6 248.2,327 247.7,325.5 247.2,324 246.7,322.6 246.2,321.2 245.7,319.8 245.2,318.5 244.7,317.3 244.2,316.1 243.7,314.9 243.2,313.7 242.7,312.6 242.2,311.5 241.7,310.4 241.2,309.4 240.7,308.4 240.2,307.4 239.7,306.5 239.2,305.6 238.7,304.7 238.2,303.8 237.7,303 237.2,302.2 236.7,301.4 236.2,300.6 234.2,297.8 232.2,295.4 230.2,293.4 228.2,291.6 226.2,290.2 224.2,288.9 222.2,287.8 220.2,286.9 218.2,286.1 216.2,285.3 214.2,284.7 212.2,284 210.2,283.5 209.7,283.3 209.2,283.2 208.7,283 208.2,282.9 207.7,282.8 207.2,282.6 206.7,282.5 206.2,282.3 205.7,282.2 205.2,282.1 204.7,281.9 204.2,281.8 203.7,281.7 203.2,281.5 202.7,281.4 202.2,281.3 201.7,281.1 201.2,281 200.7,280.9 200.2,280.7 199.7,280.6 199.2,280.5 198.7,280.4 198.2,280.2 197.7,280.1 197.2,280 196.7,279.8 196.2,279.7 195.7,279.6 195.2,279.4 194.7,279.3 194.2,279.2 193.7,279.1 193.2,278.9 192.7,278.8 192.2,278.7 191.7,278.5 191.2,278.4 190.7,278.3 190.2,278.1 189.7,278 189.2,277.9 188.7,277.8 188.2,277.6 187.7,277.4 187.2,277.2 186.7,277 186.2,276.8 185.7,276.7 185.2,276.5 184.7,276.3 184.2,276.1 183.7,275.9 183.2,275.7 182.7,275.6 182.2,275.4 181.7,275.2 181.2,275 180.7,274.8 180.2,274.6 179.7,274.5 179.2,274.3 178.7,274.1 178.2,273.9 177.7,273.7 177.2,273.5 176.7,273.4 176.2,273.2 175.7,273 175.2,272.8 174.7,272.6 174.2,272.4 173.7,272.3 173.2,272.1 172.7,271.9 172.2,271.7 171.7,271.5 171.2,271.4 170.7,271.2 170.2,271 169.7,270.8 169.2,270.6 168.7,270.4 168.2,270.3 167.7,270.1 167.2,269.9 166.7,269.7 166.2,269.5 165.7,269.3 165.2,269.2 164.7,269 164.2,268.8 163.7,268.6 163.2,268.4 162.7,268.2 162.2,268.1 161.7,267.9 161.2,267.7 160.7,267.5 160.2,267.3 159.7,267.1 159.2,267 158.7,266.8 158.2,266.6 157.7,266.4 157.2,266.2 156.7,266 156.2,265.9 155.7,265.7 155.2,265.5 154.7,265.3 154.2,265.1 153.7,264.9 153.2,264.8 152.7,264.6 152.2,264.4 151.7,264.2 151.2,264 150.7,263.8 148.7,263.1 146.7,262.4 144.7,261.6 142.7,260.9 140.7,260.2 138.7,259.5 136.7,258.7 134.7,258 132.7,257.3 130.7,256.5 128.7,255.8 126.7,255.1 124.7,254.3 122.7,253.6 120.7,252.9 118.7,252.1 116.7,250.9 114.7,249.5 112.7,248.1 110.7,246.6 108.7,244.9 106.7,242.8 104.7,238.5" fill="#30ffff" fill-opacity="0.78"/>
<line x1="87" y1="39" x2="112" y2="394" stroke="#111" stroke-width="2.6"/>
<line x1="112" y1="394" x2="386" y2="532" stroke="#111" stroke-width="2.2"/>
<line x1="386" y1="532" x2="633" y2="390" stroke="#111" stroke-width="2.2"/>
<line x1="80" y1="39" x2="87" y2="39" stroke="#111" stroke-width="2"/>
<text class="S" x="71.5" y="47.8" font-size="16" text-anchor="middle" fill="#333">6</text>
<line x1="84.9" y1="108.9" x2="91.9" y2="108.9" stroke="#111" stroke-width="2"/>
<text class="S" x="75" y="117.1" font-size="16" text-anchor="middle" fill="#333">4</text>
<line x1="89.7" y1="176" x2="96.7" y2="176" stroke="#111" stroke-width="2"/>
<text class="S" x="82.7" y="184.4" font-size="16" text-anchor="middle" fill="#333">2</text>
<line x1="94.3" y1="242.1" x2="101.3" y2="242.1" stroke="#111" stroke-width="2"/>
<text class="S" x="86.2" y="250.5" font-size="16" text-anchor="middle" fill="#333">0</text>
<line x1="98.7" y1="304.9" x2="105.7" y2="304.9" stroke="#111" stroke-width="2"/>
<text class="S" x="87.4" y="314.5" font-size="16" text-anchor="middle" fill="#333">-2</text>
<line x1="103.1" y1="367" x2="110.1" y2="367" stroke="#111" stroke-width="2"/>
<text class="S" x="94" y="374.5" font-size="16" text-anchor="middle" fill="#333">-4</text>
<line x1="85.5" y1="73.8" x2="89.5" y2="73.8" stroke="#111" stroke-width="1.6"/>
<line x1="90.2" y1="141.9" x2="94.2" y2="141.9" stroke="#111" stroke-width="1.6"/>
<line x1="95" y1="209.4" x2="99" y2="209.4" stroke="#111" stroke-width="1.6"/>
<line x1="99.5" y1="273.3" x2="103.5" y2="273.3" stroke="#111" stroke-width="1.6"/>
<line x1="103.9" y1="335.4" x2="107.9" y2="335.4" stroke="#111" stroke-width="1.6"/>
<line x1="108" y1="394" x2="112" y2="394" stroke="#111" stroke-width="1.6"/>
<line x1="112" y1="394" x2="105" y2="399" stroke="#111" stroke-width="2.2"/>
<text class="S" x="0" y="5" font-size="14.5" text-anchor="middle" fill="#333" transform="translate(99,399) rotate(-58)">0</text>
<line x1="153.6" y1="415" x2="146.6" y2="420" stroke="#111" stroke-width="2.2"/>
<text class="S" x="0" y="5" font-size="14.5" text-anchor="middle" fill="#333" transform="translate(136.8,423) rotate(-58)">20</text>
<line x1="202.7" y1="439.7" x2="195.7" y2="444.7" stroke="#111" stroke-width="2.2"/>
<text class="S" x="0" y="5" font-size="14.5" text-anchor="middle" fill="#333" transform="translate(185.9,447.5) rotate(-58)">40</text>
<line x1="256.4" y1="466.7" x2="249.4" y2="471.7" stroke="#111" stroke-width="2.2"/>
<text class="S" x="0" y="5" font-size="14.5" text-anchor="middle" fill="#333" transform="translate(238,475.1) rotate(-58)">60</text>
<line x1="314.8" y1="496.1" x2="307.8" y2="501.1" stroke="#111" stroke-width="2.2"/>
<text class="S" x="0" y="5" font-size="14.5" text-anchor="middle" fill="#333" transform="translate(297.9,507.4) rotate(-58)">80</text>
<line x1="386" y1="532" x2="379" y2="537" stroke="#111" stroke-width="2.2"/>
<text class="S" x="0" y="5" font-size="14.5" text-anchor="middle" fill="#333" transform="translate(363.9,545) rotate(-58)">100</text>
<line x1="132.8" y1="404.5" x2="127.8" y2="408" stroke="#111" stroke-width="1.8"/>
<line x1="178.2" y1="427.3" x2="173.2" y2="430.8" stroke="#111" stroke-width="1.8"/>
<line x1="229.5" y1="453.2" x2="224.5" y2="456.7" stroke="#111" stroke-width="1.8"/>
<line x1="285.6" y1="481.4" x2="280.6" y2="484.9" stroke="#111" stroke-width="1.8"/>
<line x1="350.4" y1="514.1" x2="345.4" y2="517.6" stroke="#111" stroke-width="1.8"/>
<line x1="386" y1="532" x2="394" y2="535" stroke="#111" stroke-width="2.2"/>
<text class="S" x="0" y="5" font-size="14.5" text-anchor="middle" fill="#333" transform="translate(404.6,540.2) rotate(28)">0</text>
<line x1="410.7" y1="517.8" x2="418.7" y2="520.8" stroke="#111" stroke-width="2.2"/>
<text class="S" x="0" y="5" font-size="14.5" text-anchor="middle" fill="#333" transform="translate(440,524.3) rotate(28)">50</text>
<line x1="435.4" y1="503.6" x2="443.4" y2="506.6" stroke="#111" stroke-width="2.2"/>
<text class="S" x="0" y="5" font-size="14.5" text-anchor="middle" fill="#333" transform="translate(476.7,508.4) rotate(28)">100</text>
<line x1="460.1" y1="489.4" x2="468.1" y2="492.4" stroke="#111" stroke-width="2.2"/>
<text class="S" x="0" y="5" font-size="14.5" text-anchor="middle" fill="#333" transform="translate(502.4,491.3) rotate(28)">150</text>
<line x1="484.8" y1="475.2" x2="492.8" y2="478.2" stroke="#111" stroke-width="2.2"/>
<text class="S" x="0" y="5" font-size="14.5" text-anchor="middle" fill="#333" transform="translate(523.2,474.2) rotate(28)">200</text>
<line x1="509.5" y1="461" x2="517.5" y2="464" stroke="#111" stroke-width="2.2"/>
<text class="S" x="0" y="5" font-size="14.5" text-anchor="middle" fill="#333" transform="translate(547.7,458.3) rotate(28)">250</text>
<line x1="534.2" y1="446.8" x2="542.2" y2="449.8" stroke="#111" stroke-width="2.2"/>
<text class="S" x="0" y="5" font-size="13" text-anchor="middle" fill="#333" transform="translate(572.1,446) rotate(28)">300</text>
<line x1="558.9" y1="432.6" x2="566.9" y2="435.6" stroke="#111" stroke-width="2.2"/>
<text class="S" x="0" y="5" font-size="13" text-anchor="middle" fill="#333" transform="translate(596.6,433.9) rotate(28)">350</text>
<line x1="583.6" y1="418.4" x2="591.6" y2="421.4" stroke="#111" stroke-width="2.2"/>
<text class="S" x="0" y="5" font-size="13" text-anchor="middle" fill="#333" transform="translate(617.4,419.2) rotate(28)">400</text>
<line x1="608.3" y1="404.2" x2="616.3" y2="407.2" stroke="#111" stroke-width="2.2"/>
<text class="S" x="0" y="5" font-size="13" text-anchor="middle" fill="#333" transform="translate(635.7,409.4) rotate(28)">450</text>
<line x1="633" y1="390" x2="641" y2="393" stroke="#111" stroke-width="2.2"/>
<text class="S" x="0" y="5" font-size="13" text-anchor="middle" fill="#333" transform="translate(655.3,397.2) rotate(28)">500</text>
<text class="S" x="0" y="5.5" font-size="16.3" text-anchor="middle" fill="#333" transform="translate(193.6,481.3) rotate(26.6)">Temperature (&#176;C)</text>
<text class="S" x="0" y="5.5" font-size="16.5" text-anchor="middle" fill="#333" transform="translate(558.7,483.4) rotate(-32.7)">Cycle number</text>
<text class="S" x="0" y="0" font-size="19.5" text-anchor="middle" fill="#222" transform="translate(67.3,226) rotate(-86)">Heat flow (mW/mg)</text>
<text class="R" x="1.8" y="53.2" font-size="50" font-weight="bold" fill="#000">(a)</text>
</svg>
</body></html>
